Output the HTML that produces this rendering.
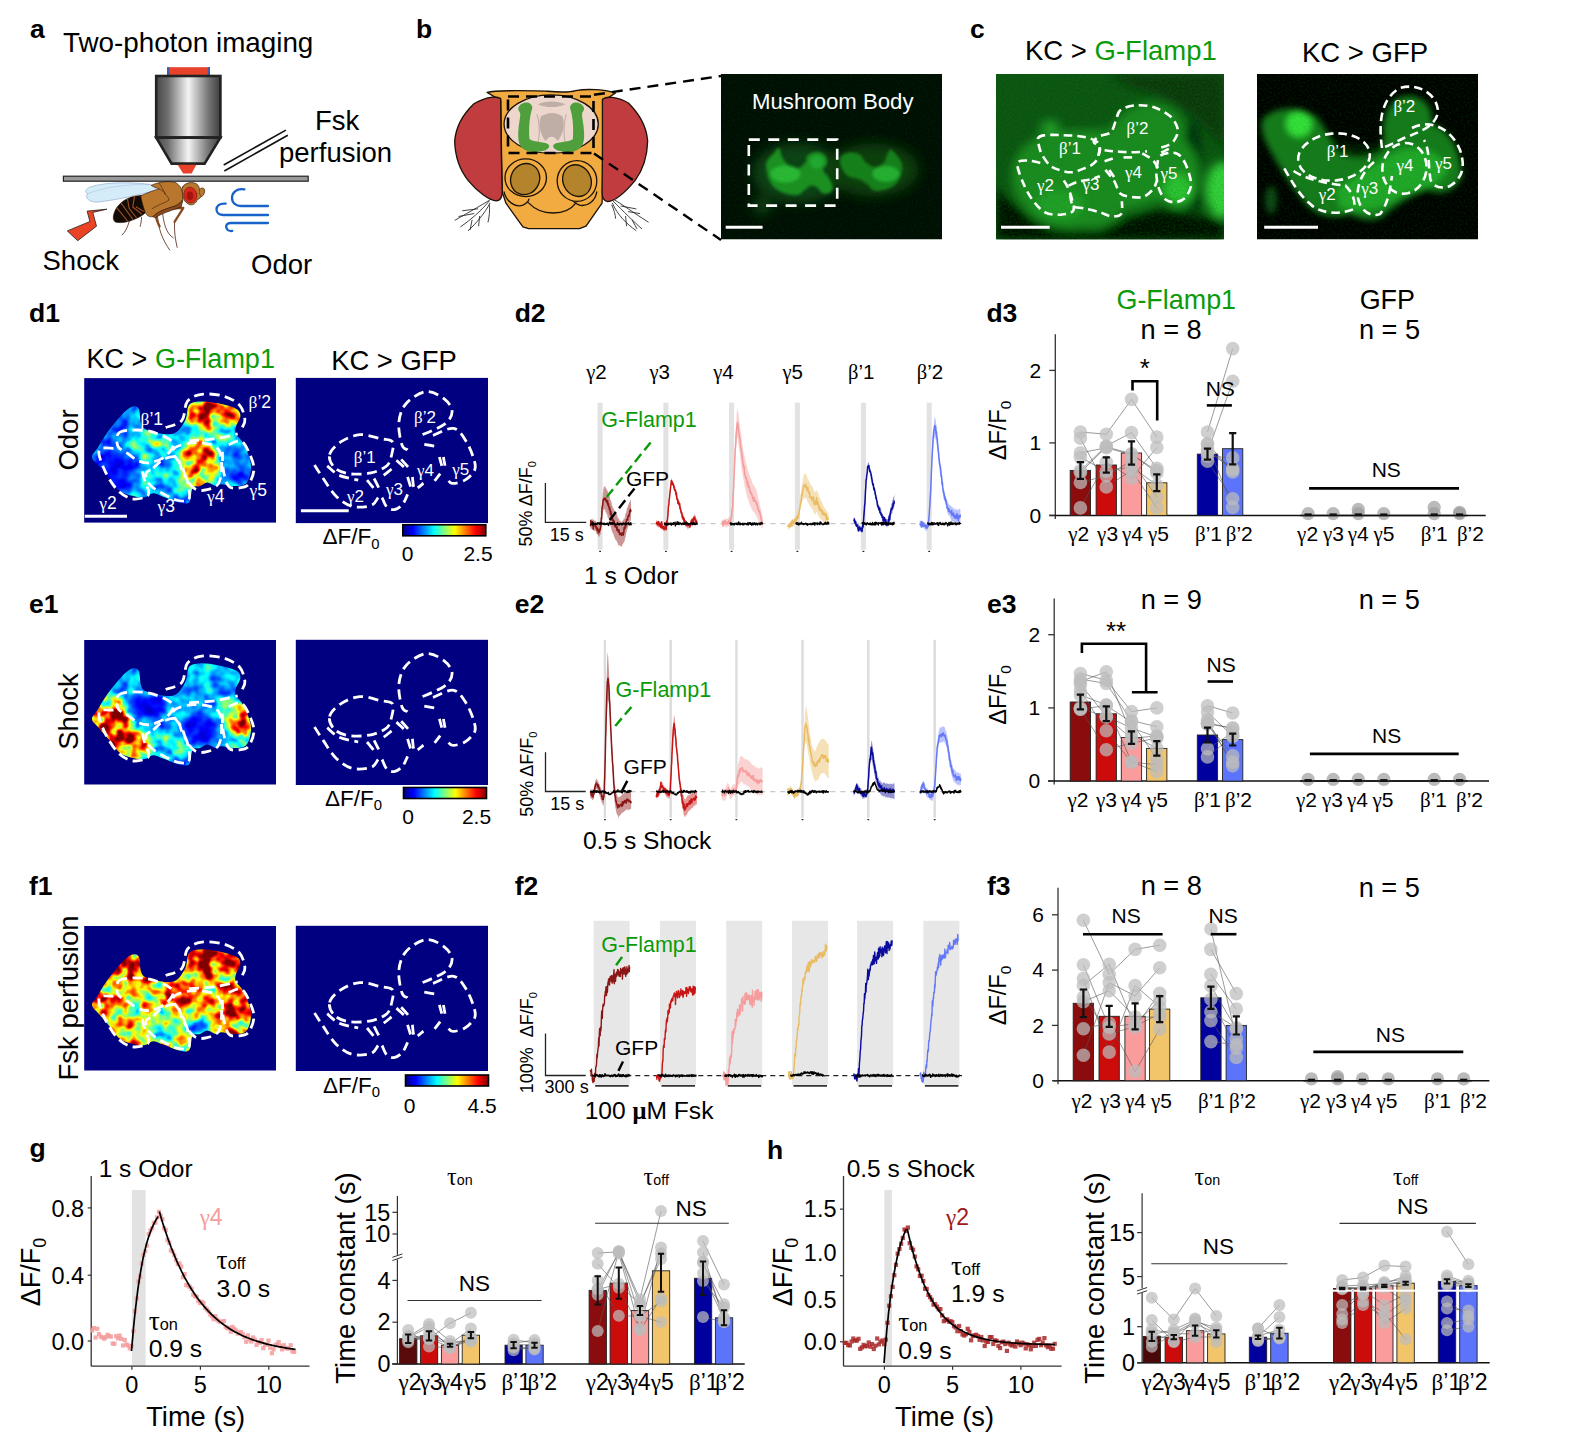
<!DOCTYPE html>
<html><head><meta charset="utf-8"><title>Figure</title>
<style>html,body{margin:0;padding:0;background:#fff;width:1592px;height:1445px;overflow:hidden}svg{display:block}text{font-family:"Liberation Sans",sans-serif}</style></head>
<body>
<svg width="1592" height="1445" viewBox="0 0 1592 1445">
<defs>
<linearGradient id="met" x1="0" x2="1" y1="0" y2="0"><stop offset="0" stop-color="#4a4a4a"/><stop offset="0.18" stop-color="#6e6e6e"/><stop offset="0.5" stop-color="#f4f4f4"/><stop offset="0.8" stop-color="#7a7a7a"/><stop offset="1" stop-color="#3e3e3e"/></linearGradient>
<filter id="bl5" x="-20%" y="-20%" width="140%" height="140%"><feGaussianBlur stdDeviation="5"/></filter>
<filter id="bl3" x="-20%" y="-20%" width="140%" height="140%"><feGaussianBlur stdDeviation="3"/></filter>
<filter id="bl40" x="-30%" y="-30%" width="160%" height="160%"><feGaussianBlur stdDeviation="40"/></filter>
<filter id="bl12" x="-20%" y="-20%" width="140%" height="140%"><feGaussianBlur stdDeviation="11"/></filter>
<filter id="bl2" x="-20%" y="-20%" width="140%" height="140%"><feGaussianBlur stdDeviation="2"/></filter>
<filter id="grain" x="0" y="0" width="100%" height="100%" color-interpolation-filters="sRGB"><feTurbulence type="fractalNoise" baseFrequency="0.5" numOctaves="2" seed="7"/><feColorMatrix type="matrix" values="0 0 0 0 0  0 0 0 0 0.55  0 0 0 0 0  1.2 0 0 0 -0.45"/></filter>
<clipPath id="cb"><rect x="721" y="74" width="221" height="165.5"/></clipPath>
<clipPath id="cc1"><rect x="996" y="74" width="228" height="165.5"/></clipPath>
<clipPath id="cc2"><rect x="1257" y="74" width="221" height="165.5"/></clipPath>
<filter id="jet" x="0" y="0" width="100%" height="100%" color-interpolation-filters="sRGB"><feGaussianBlur in="SourceGraphic" stdDeviation="4.5" result="b"/><feTurbulence type="fractalNoise" baseFrequency="0.085" numOctaves="2" seed="11" result="t"/><feColorMatrix in="t" type="matrix" values="1.6 0 0 0 -0.3  1.6 0 0 0 -0.3  1.6 0 0 0 -0.3  0 0 0 0 1" result="tn"/><feComposite in="b" in2="tn" operator="arithmetic" k1="1.0" k2="0.5" k3="0" k4="0" result="v"/><feComponentTransfer in="v"><feFuncR type="table" tableValues="0 0 0 0 0.5 1 1 1 0.5"/><feFuncG type="table" tableValues="0 0 0.5 1 1 1 0.5 0 0"/><feFuncB type="table" tableValues="0.5 1 1 1 0.5 0 0 0 0"/></feComponentTransfer></filter>
<linearGradient id="jetg" x1="0" x2="1" y1="0" y2="0"><stop offset="0" stop-color="#00007f"/><stop offset="0.125" stop-color="#0000ff"/><stop offset="0.375" stop-color="#00ffff"/><stop offset="0.625" stop-color="#ffff00"/><stop offset="0.875" stop-color="#ff0000"/><stop offset="1" stop-color="#7f0000"/></linearGradient>
<clipPath id="blob"><path d="M92,457.3 C91.7,454.3 95,452.2 97.4,448.3 C99.8,444.4 102.4,439.3 106.3,433.9 C110.2,428.5 116.5,420.4 120.7,415.9 C124.9,411.4 128.5,408.1 131.5,406.9 C134.5,405.7 137.2,406 138.7,408.7 C140.3,411.4 139.7,419.7 140.9,423.1 C142.1,426.6 142.1,427.6 145.9,429.4 C149.8,431.2 158.8,433.5 163.9,433.9 C169,434.4 172.9,434.5 176.5,432.1 C180.1,429.7 183.4,424 185.5,419.5 C187.6,415 186.7,408.1 189.1,405.1 C191.5,402.1 195.1,401.8 199.9,401.5 C204.7,401.2 211.9,402.1 217.9,403.3 C223.9,404.5 232.1,406.6 235.9,408.7 C239.6,410.8 240.4,412.9 240.4,415.9 C240.4,418.9 236.6,423.7 235.9,426.7 C235.1,429.7 234.7,431.2 235.9,433.9 C237.1,436.6 240.7,438.4 243.1,442.9 C245.5,447.4 249.1,455.8 250.3,460.9 C251.5,466 251.2,469.6 250.3,473.5 C249.4,477.4 247.9,482.2 244.9,484.3 C241.9,486.4 236.2,486.1 232.3,486.1 C228.4,486.1 224.2,484.3 221.5,484.3 C218.8,484.3 218.5,486.4 216.1,486.1 C213.7,485.8 209.8,482.5 207.1,482.5 C204.4,482.5 202.3,485.2 199.9,486.1 C197.5,487 194.5,485.2 192.7,487.9 C190.9,490.6 191.5,499.9 189.1,502.3 C186.7,504.7 182.5,503.2 178.3,502.3 C174.1,501.4 168.1,498.4 163.9,496.9 C159.7,495.4 156.1,493.3 153.1,493.3 C150.1,493.3 148.6,496.3 145.9,496.9 C143.2,497.5 141.1,497.8 136.9,496.9 C132.7,496 125.2,494.5 120.7,491.5 C116.2,488.5 113.5,483.1 109.9,478.9 C106.3,474.7 102.1,469.9 99.2,466.3 C96.2,462.7 92.3,460.3 92,457.3 Z"/></clipPath>
</defs>
<rect width="1592" height="1445" fill="#fff"/>
<text x="30" y="38" font-size="26.5" font-weight="bold">a</text>
<text x="63" y="52" font-size="27.8">Two-photon imaging</text>
<rect x="167" y="67.2" width="43" height="9" fill="#e8432a"/>
<rect x="167" y="67.2" width="2.2" height="9" fill="#3f5aa8"/>
<rect x="207.8" y="67.2" width="2.2" height="9" fill="#3f5aa8"/>
<rect x="156.2" y="76" width="64.2" height="61.5" fill="url(#met)" stroke="#222" stroke-width="2.6"/>
<polygon points="156.2,137.6 220.4,137.6 204.6,163.6 171.6,163.6" fill="url(#met)" stroke="#222" stroke-width="2.6" stroke-linejoin="miter"/>
<polygon points="177.6,164.8 196.4,164.8 191.6,173.6 183.2,173.6" fill="#e8432a"/>
<line x1="223.7" y1="165" x2="285.9" y2="130.1" stroke="#111" stroke-width="1.6"/>
<line x1="224.3" y1="171" x2="287.8" y2="135.2" stroke="#111" stroke-width="1.6"/>
<text x="315" y="129.5" font-size="27.5">Fsk</text>
<text x="279" y="162" font-size="27.5">perfusion</text>
<g transform="translate(80 170) scale(0.087943)" stroke="#2a1206" stroke-width="7" stroke-linejoin="round" stroke-linecap="round">
<path d="M560,585 C540,650 520,700 480,738 M700,540 C700,580 690,610 685,640 M880,520 C890,600 900,660 920,720 C950,800 985,860 1020,910 M940,500 C950,580 965,640 990,690 C1010,730 1035,755 1060,770 M1175,440 C1140,500 1100,550 1075,590 C1070,700 1085,800 1105,880" fill="none" stroke="#4a200c" stroke-width="9"/>
<path d="M860,520 C870,560 880,600 905,640 M1030,440 L1175,430 L1075,590" fill="none" stroke="#8a4a20" stroke-width="26"/>
<path d="M860,180 C700,135 300,125 110,195 C50,225 60,258 88,270 C55,300 80,355 180,366 C350,352 600,300 860,235 Z" fill="#d3ecf8" stroke="#6f86bd" stroke-width="5"/>
<path d="M88,270 C250,200 500,165 800,160" fill="none" stroke="#8ea6d4" stroke-width="4"/>
<path d="M700,290 C600,290 480,330 410,440 C370,510 370,570 400,590 C470,615 600,580 700,520 C780,470 800,400 780,340 Z" fill="#140a04"/>
<path d="M420,430 L540,580 M470,380 L600,560 M540,330 L560,440 L640,540 M620,300 L600,420 L700,500 M640,420 L720,470" fill="none" stroke="#9a4f28" stroke-width="13"/>
<path d="M690,295 C760,260 840,230 900,215 C860,200 830,190 810,175 C880,140 1000,120 1080,140 C1140,170 1170,230 1170,300 C1180,340 1140,380 1080,410 C1000,440 900,470 830,530 C790,540 760,520 740,480 C720,420 700,350 690,295 Z" fill="#b9772e"/>
<path d="M830,530 C880,470 980,440 1080,410 C1120,390 1150,370 1170,340 L1150,420 C1080,450 950,480 860,540 Z" fill="#8a4a20"/>
<path d="M900,215 C940,235 960,250 970,275 M900,150 C930,190 950,230 970,275 C1000,300 1010,320 1010,345 C950,380 880,400 820,440" fill="none" stroke-width="6"/>
<path d="M1165,195 C1190,140 1290,125 1335,165 C1355,185 1360,210 1358,225 C1380,190 1420,200 1418,240 C1415,280 1395,300 1380,300 C1360,330 1340,335 1335,335 C1320,380 1290,400 1250,395 C1200,380 1170,330 1168,290 C1160,250 1160,220 1165,195 Z" fill="#b9772e"/>
<path d="M1358,225 C1352,260 1362,290 1380,300" fill="none" stroke-width="5"/>
<ellipse cx="1255" cy="285" rx="74" ry="90" fill="#d8281c" stroke="#6a1408" stroke-width="6" transform="rotate(-10 1255 285)"/>
<ellipse cx="1250" cy="295" rx="38" ry="50" fill="#a3150e" stroke="none"/>
</g>
<rect x="63.4" y="176.2" width="244.8" height="5" fill="#9a9a9a" stroke="#222" stroke-width="1.2"/>
<polygon points="67.3,230.9 77.7,240.7 96.5,226.2 92.8,212.4 106.9,209.2 87.1,211.1 89.9,221.5" fill="#ea4424" stroke="#222" stroke-width="0.8"/>
<text x="42.5" y="270" font-size="27.5">Shock</text>
<text x="251" y="274" font-size="27.5">Odor</text>
<g fill="none" stroke="#1763c9" stroke-width="2.3" stroke-linecap="round"><path d="M244.4,189.4 C236,188 232,193 232,198 C232,203 236,206 241,206 L268,206"/><path d="M225.6,203.6 C219,203 216.5,206.5 216.5,209.5 C216.5,213 219.5,215 223.5,215 L268,215"/><path d="M268,223 L230.5,223 C227,223 225.8,225.4 226.3,227.6 C226.8,230 229.5,231.4 232.2,230.9"/></g>
<text x="416" y="38" font-size="26.5" font-weight="bold">b</text>
<g transform="translate(440 60) scale(0.18843)" stroke="#1a1208" stroke-width="7" stroke-linejoin="round" stroke-linecap="round">
<path d="M300,720 C240,760 150,810 80,850 M260,750 C220,800 160,850 110,885 M265,760 C240,810 190,870 150,905 M262,770 C265,800 262,830 255,860 M200,790 L120,800 M180,815 L100,830 M210,830 L205,880 M170,850 L160,900 M890,720 C960,760 1040,820 1105,860 M920,750 C970,800 1030,860 1070,895 M915,760 C940,820 990,870 1040,905 M912,770 C925,800 930,820 932,840 M960,775 L1040,790 M1000,805 L1060,815 M985,830 L990,880 M1020,850 L1045,895" fill="none" stroke="#222" stroke-width="4.5"/>
<path d="M250,172 C300,158 400,162 560,165 C620,170 680,176 720,162 C780,152 880,155 930,176 L870,215 L862,700 L860,760 L775,882 L740,895 L470,895 L440,885 L350,760 L330,700 L322,215 Z" fill="#f2ab40"/>
<path d="M322,205 C300,190 250,192 180,232 C130,280 85,340 78,430 C80,520 110,590 150,640 C200,700 260,745 300,748 C322,745 330,725 330,700 L325,480 Z" fill="#c13c3e"/>
<path d="M862,208 C885,192 935,192 1000,228 C1050,280 1095,340 1102,430 C1100,520 1072,590 1035,640 C985,700 930,748 890,752 C868,748 860,728 860,700 L862,480 Z" fill="#c13c3e"/>
<ellipse cx="590" cy="340" rx="250" ry="155" fill="#edd6cc"/>
<path d="M520,235 C560,215 620,215 665,235 C630,255 555,255 520,235 Z M535,300 C575,275 615,275 650,300 C665,350 650,400 625,430 C605,400 580,400 560,430 C535,400 520,350 535,300 Z" fill="#bfaea6" stroke="none"/>
<path d="M515,290 C530,330 530,400 520,440 M670,290 C655,330 655,400 665,440" fill="none" stroke="#a89a94" stroke-width="4"/>
<path d="M420,245 C440,215 490,220 490,255 C475,300 470,360 475,420 C510,440 570,430 580,455 C580,485 520,490 470,485 C425,475 415,440 415,400 C415,340 430,300 425,280 C415,265 412,255 420,245 Z" fill="#4f9f3c" stroke="none"/>
<path d="M760,245 C740,215 690,220 690,255 C705,300 710,360 705,420 C670,440 610,430 600,455 C600,485 660,490 710,485 C755,475 765,440 765,400 C765,340 750,300 755,280 C765,265 768,255 760,245 Z" fill="#4f9f3c" stroke="none"/>
<path d="M340,700 C350,750 400,785 440,770 C460,760 470,750 472,738 M832,700 C825,750 780,780 740,770 C720,762 705,750 702,738 M470,758 C510,800 560,812 600,812 C640,812 690,800 722,758" fill="none"/>
<ellipse cx="455" cy="625" rx="110" ry="100" fill="#f2ab40"/>
<ellipse cx="727" cy="642" rx="105" ry="108" fill="#f2ab40"/>
<ellipse cx="452" cy="632" rx="76" ry="84" fill="#b4842c" transform="rotate(25 452 632)"/>
<ellipse cx="727" cy="640" rx="74" ry="86" fill="#b4842c" transform="rotate(-25 727 640)"/>
</g>
<rect x="508" y="96.5" width="85.5" height="56.5" fill="none" stroke="#000" stroke-width="2.6" stroke-dasharray="11 7"/>
<line x1="594" y1="94.8" x2="721" y2="76" stroke="#000" stroke-width="2.4" stroke-dasharray="11 7"/>
<line x1="594" y1="153.5" x2="721" y2="240" stroke="#000" stroke-width="2.4" stroke-dasharray="11 7"/>
<g clip-path="url(#cb)">
<rect x="721" y="74" width="221" height="165.5" fill="#010e04"/>
<g transform="translate(710 60) scale(0.15704)">
<g filter="url(#bl40)"><ellipse cx="560" cy="720" rx="290" ry="190" fill="#0a4212"/><ellipse cx="1040" cy="700" rx="290" ry="170" fill="#093c10"/><ellipse cx="330" cy="930" rx="60" ry="50" fill="#0c4a14"/></g>
<g filter="url(#bl12)"><path d="M360,650 C366.7,633.3 386.7,615 400,600 C413.3,585 430,556.7 440,560 C450,563.3 450,601.7 460,620 C470,638.3 483.3,658.3 500,670 C516.7,681.7 541.7,693.3 560,690 C578.3,686.7 600,663.3 610,650 C620,636.7 608.3,620.8 620,610 C631.7,599.2 660.8,585 680,585 C699.2,585 724.2,597.5 735,610 C745.8,622.5 747.5,645 745,660 C742.5,675 719.2,686.7 720,700 C720.8,713.3 740,723.3 750,740 C760,756.7 776.7,783.3 780,800 C783.3,816.7 780,831.7 770,840 C760,848.3 735,855 720,850 C705,845 693.3,818.3 680,810 C666.7,801.7 653.3,796.7 640,800 C626.7,803.3 613.3,820 600,830 C586.7,840 580,856.7 560,860 C540,863.3 503.3,856.7 480,850 C456.7,843.3 436.7,833.3 420,820 C403.3,806.7 390,790 380,770 C370,750 363.3,720 360,700 C356.7,680 353.3,666.7 360,650 Z" fill="#1a9024"/><path d="M830,620 C836.7,603.3 860,593.3 880,590 C900,586.7 931.7,590 950,600 C968.3,610 975,636.7 990,650 C1005,663.3 1021.7,678.3 1040,680 C1058.3,681.7 1085,673.3 1100,660 C1115,646.7 1121.7,615 1130,600 C1138.3,585 1138.3,566.7 1150,570 C1161.7,573.3 1187.5,601.7 1200,620 C1212.5,638.3 1223.3,658.3 1225,680 C1226.7,701.7 1219.2,730 1210,750 C1200.8,770 1188.3,786.7 1170,800 C1151.7,813.3 1121.7,825 1100,830 C1078.3,835 1056.7,836.7 1040,830 C1023.3,823.3 1015,801.7 1000,790 C985,778.3 970,768.3 950,760 C930,751.7 898.3,751.7 880,740 C861.7,728.3 848.3,710 840,690 C831.7,670 823.3,636.7 830,620 Z" fill="#16801f"/>
<ellipse cx="480" cy="725" rx="95" ry="55" fill="#29b834"/><ellipse cx="1120" cy="725" rx="85" ry="50" fill="#26b030"/><ellipse cx="680" cy="650" rx="45" ry="40" fill="#24aa30"/></g>
</g>
<rect x="721" y="74" width="221" height="165.5" fill="#000" filter="url(#grain)" opacity="0.22"/>
</g>
<text x="752" y="108.7" font-size="22.2" fill="#fff">Mushroom Body</text>
<rect x="748.8" y="139.6" width="88.4" height="66" fill="none" stroke="#fff" stroke-width="2.6" stroke-dasharray="11 8.5"/>
<line x1="725.7" y1="227.2" x2="762.6" y2="227.2" stroke="#fff" stroke-width="3"/>
<text x="970" y="38" font-size="26.5" font-weight="bold">c</text>
<text x="1025" y="60" font-size="27.5">KC &gt; <tspan fill="#0a9a0a">G-Flamp1</tspan></text>
<text x="1302" y="62" font-size="27.5">KC &gt; GFP</text>
<g clip-path="url(#cc1)">
<rect x="996" y="74" width="228" height="165.5" fill="#0d5213"/>
<g filter="url(#bl5)"><path d="M1110,74 L1224,74 L1224,150 C1210,130 1190,110 1160,96 C1140,90 1120,84 1110,74 Z" fill="#07360c"/><path d="M996,190 C1010,200 1030,222 1060,228 C1100,236 1130,214 1160,210 C1190,212 1200,222 1224,212 L1224,240 L996,240 Z" fill="#010a03"/><path d="M1195,120 C1205,140 1200,170 1205,200 L1190,215 L1185,130 Z" fill="#052a0a"/><path d="M1012,170 C1014,150 1034,134 1058,132 C1080,128 1100,132 1112,128 C1120,110 1140,100 1160,104 C1180,108 1188,124 1184,140 C1196,150 1204,170 1198,190 C1192,206 1176,210 1164,200 C1150,204 1136,210 1124,210 C1118,224 1100,232 1084,228 C1060,232 1036,226 1024,208 C1014,196 1010,184 1012,170 Z" fill="#1b8a22"/><ellipse cx="1178" cy="190" rx="14" ry="16" fill="#2fc436"/><ellipse cx="1222" cy="190" rx="16" ry="28" fill="#35d23c"/><ellipse cx="1050" cy="128" rx="10" ry="8" fill="#22992a"/><ellipse cx="1060" cy="205" rx="24" ry="14" fill="#24a02c"/></g>
<rect x="996" y="74" width="228" height="165.5" fill="#000" filter="url(#grain)" opacity="0.55"/>
</g>
<path d="M1098.4,155.8 C1098.6,154.5 1100.7,150.3 1099.9,147.9 C1099.1,145.6 1093.6,143.6 1093.6,141.7 C1093.6,139.7 1097,137.7 1099.9,136.2 C1102.8,134.6 1108.3,134.7 1110.9,132.2 C1113.5,129.7 1114.1,124.9 1115.6,121.2 C1117.2,117.6 1117.2,112.9 1120.3,110.3 C1123.5,107.6 1129,106.1 1134.5,105.5 C1140,105 1147.3,105.3 1153.3,107.1 C1159.3,108.9 1166.5,112.9 1170.6,116.5 C1174.6,120.2 1176.9,125.4 1177.7,129.1 C1178.4,132.8 1176.7,135.9 1175.3,138.5 C1173.9,141.1 1172.2,143.1 1169,144.8 C1165.9,146.5 1158.6,148.1 1156.5,148.7" fill="none" stroke="#fff" stroke-width="2.6" stroke-dasharray="8.5 5"/>
<path d="M1104.6,150.3 C1106.5,150.5 1111.2,151.1 1115.6,151.4 C1120.1,151.7 1126.1,152.3 1131.3,152.3 C1136.6,152.3 1144.4,151.6 1147,151.4" fill="none" stroke="#fff" stroke-width="2.6" stroke-dasharray="8.5 5"/>
<path d="M1037.9,138.5 C1038.7,136.9 1039.6,136 1043.4,135.4 C1047.2,134.8 1053.9,134.8 1060.7,135.1 C1067.5,135.3 1077.9,135.6 1084.2,136.9 C1090.5,138.3 1096,140.1 1098.4,143.2 C1100.7,146.4 1099.1,152.4 1098.4,155.8 C1097.6,159.2 1096,161.5 1093.6,163.6 C1091.3,165.7 1087.9,166.9 1084.2,168.4 C1080.6,169.8 1075.8,172 1071.7,172.3 C1067.5,172.5 1062.8,171.1 1059.1,169.9 C1055.4,168.7 1052.6,167.8 1049.7,165.2 C1046.8,162.6 1043.7,157.6 1041.8,154.2 C1040,150.8 1039.3,147.4 1038.7,144.8 C1038,142.2 1037.1,140.1 1037.9,138.5 Z" fill="none" stroke="#fff" stroke-width="2.6" stroke-dasharray="8.5 5"/>
<path d="M1040.3,162.9 C1038.2,162.5 1031.5,160.4 1027.7,160.5 C1023.9,160.6 1018.3,160 1017.5,163.6 C1016.7,167.3 1020.5,176.5 1023,182.5 C1025.5,188.5 1028.7,194.8 1032.4,199.8 C1036.1,204.7 1040.3,209.8 1045,212.3 C1049.7,214.8 1056,214.9 1060.7,214.7 C1065.4,214.4 1071.4,213.5 1073.2,210.8 C1075.1,208 1072.7,202.4 1071.7,198.2 C1070.6,194 1068.8,189.3 1066.9,185.6 C1065.1,182 1061.7,177.8 1060.7,176.2" fill="none" stroke="#fff" stroke-width="2.6" stroke-dasharray="8.5 5"/>
<path d="M1068.5,185.6 C1070.1,185 1074.3,182.7 1077.9,181.7 C1081.6,180.7 1086.8,180.3 1090.5,179.3 C1094.2,178.4 1098.4,176.7 1099.9,176.2" fill="none" stroke="#fff" stroke-width="2.6" stroke-dasharray="8.5 5"/>
<path d="M1070.1,195.1 C1070.6,196.9 1070.9,203.8 1073.2,206 C1075.6,208.3 1079.8,207.4 1084.2,208.4 C1088.7,209.4 1095.5,211 1099.9,212.3 C1104.4,213.6 1107.4,216 1110.9,216.2 C1114.5,216.5 1119.3,216.4 1121.1,213.9 C1123,211.4 1121.8,203.4 1121.9,201.3" fill="none" stroke="#fff" stroke-width="2.6" stroke-dasharray="8.5 5"/>
<path d="M1104.6,161.3 C1106.2,160.8 1112.5,158.7 1114.1,158.1" fill="none" stroke="#fff" stroke-width="2.6" stroke-dasharray="8.5 5"/>
<path d="M1123.5,157.4 C1125.2,157.4 1132,157.4 1133.7,157.4" fill="none" stroke="#fff" stroke-width="2.6" stroke-dasharray="8.5 5"/>
<path d="M1142.3,153.4 C1144.2,154.6 1150.6,157.8 1153.3,160.5 C1156.1,163.3 1157.9,168.4 1158.8,169.9" fill="none" stroke="#fff" stroke-width="2.6" stroke-dasharray="8.5 5"/>
<path d="M1105.4,169.9 C1106.9,171.8 1111.6,177 1114.1,180.9 C1116.5,184.8 1117.5,190.8 1120.3,193.5 C1123.2,196.1 1127.4,196.4 1131.3,196.9 C1135.3,197.5 1140.2,198 1143.9,196.6 C1147.6,195.3 1151.2,191.4 1153.3,188.8 C1155.5,186.2 1156.2,182.2 1156.8,180.9" fill="none" stroke="#fff" stroke-width="2.6" stroke-dasharray="8.5 5"/>
<path d="M1109.3,169.9 C1110.4,171.5 1114.6,177.8 1115.6,179.3" fill="none" stroke="#fff" stroke-width="2.6" stroke-dasharray="8.5 5"/>
<path d="M1160.4,155.8 C1163.1,153.7 1170.2,152.4 1173.7,152.7 C1177.3,152.9 1179.2,154.5 1181.6,157.4 C1183.9,160.2 1186.3,165.2 1187.9,169.9 C1189.4,174.6 1191.5,180.9 1191,185.6 C1190.5,190.3 1187.3,195.4 1184.7,198.2 C1182.1,200.9 1178.4,201.9 1175.3,202.1 C1172.2,202.4 1168.5,201.7 1165.9,199.8 C1163.3,197.8 1161.2,194.3 1159.6,190.3 C1158,186.4 1156.8,180.4 1156.5,176.2 C1156.1,172 1156.6,168.6 1157.2,165.2 C1157.9,161.8 1157.6,157.9 1160.4,155.8 Z" fill="none" stroke="#fff" stroke-width="2.6" stroke-dasharray="8.5 5"/>
<path d="M1161.2,152.7 C1163,151.7 1170.3,148.1 1172.2,147.2" fill="none" stroke="#fff" stroke-width="2.6" stroke-dasharray="8.5 5"/>
<line x1="1001" y1="227.2" x2="1049.7" y2="227.2" stroke="#fff" stroke-width="3"/>
<text x="1126.6" y="133.8" font-size="17" fill="#fff"><tspan font-family='"Liberation Serif", serif'>β</tspan>’2</text>
<text x="1059" y="154.2" font-size="17" fill="#fff"><tspan font-family='"Liberation Serif", serif'>β</tspan>’1</text>
<text x="1037" y="191" font-size="17" fill="#fff"><tspan font-family='"Liberation Serif", serif'>γ</tspan>2</text>
<text x="1082.6" y="189.5" font-size="17" fill="#fff"><tspan font-family='"Liberation Serif", serif'>γ</tspan>3</text>
<text x="1125" y="177.8" font-size="17" fill="#fff"><tspan font-family='"Liberation Serif", serif'>γ</tspan>4</text>
<text x="1160.4" y="179.3" font-size="17" fill="#fff"><tspan font-family='"Liberation Serif", serif'>γ</tspan>5</text>
<g clip-path="url(#cc2)">
<rect x="1257" y="74" width="221" height="165.5" fill="#000"/>
<g filter="url(#bl3)"><path d="M1262,120 C1275,105 1300,105 1318,118 C1326,130 1330,140 1340,146 C1360,150 1375,150 1384,140 C1380,120 1388,100 1404,96 C1422,94 1434,106 1432,124 C1448,128 1462,150 1462,176 C1456,192 1440,196 1428,190 C1410,196 1394,206 1384,216 C1372,224 1356,218 1350,214 C1336,220 1318,216 1308,206 C1296,192 1280,170 1270,150 C1264,140 1260,130 1262,120 Z" fill="#157a1c"/><path d="M1336,190 C1350,180 1380,160 1400,150 C1420,146 1440,150 1448,170 C1440,186 1420,190 1400,196 C1384,210 1360,214 1340,208 Z" fill="#22a82a"/><ellipse cx="1299" cy="124" rx="13" ry="13" fill="#35e03a"/><path d="M1330,140 C1350,146 1372,148 1384,140 L1384,150 C1370,160 1350,160 1336,152 Z" fill="#041a06"/><ellipse cx="1271" cy="200" rx="6" ry="14" fill="#0c4a12"/></g>
<rect x="1257" y="74" width="221" height="165.5" fill="#000" filter="url(#grain)" opacity="0.35"/>
</g>
<path d="M1382,148 C1378,120 1382,98 1400,88 C1420,82 1438,96 1438,112 C1436,126 1420,132 1404,138 C1396,142 1388,146 1382,148 Z" fill="none" stroke="#fff" stroke-width="2.6" stroke-dasharray="8.5 5"/>
<path d="M1369.8,153.2 L1369.7,157.4 L1368.5,161.5 L1366.2,165.4 L1363,169.1 L1358.9,172.5 L1354,175.4 L1348.6,177.7 L1342.6,179.4 L1336.5,180.4 L1330.2,180.7 L1324.1,180.2 L1318.2,179.1 L1312.9,177.3 L1308.2,174.9 L1304.2,171.9 L1301.2,168.5 L1299.2,164.8 L1298.2,160.8 L1298.3,156.6 L1299.5,152.5 L1301.8,148.6 L1305,144.9 L1309.1,141.5 L1314,138.6 L1319.4,136.3 L1325.4,134.6 L1331.5,133.6 L1337.8,133.3 L1343.9,133.8 L1349.8,134.9 L1355.1,136.7 L1359.8,139.1 L1363.8,142.1 L1366.8,145.5 L1368.8,149.2 Z" fill="none" stroke="#fff" stroke-width="2.6" stroke-dasharray="8.5 5"/>
<path d="M1284.3,168.4 C1292,182 1300,196 1311,204.5 C1318,212 1336,216 1353.4,209.2 C1356,204 1354,194 1345.5,185.6 C1330,184 1306,180 1292.1,170" fill="none" stroke="#fff" stroke-width="2.6" stroke-dasharray="8.5 5"/>
<path d="M1374,162 C1364,170 1356,184 1358,198 C1360,210 1370,218 1380,214 C1388,204 1390,190 1392,176" fill="none" stroke="#fff" stroke-width="2.6" stroke-dasharray="8.5 5"/>
<path d="M1426.1,172.2 L1425,176.5 L1423.2,180.6 L1420.9,184.3 L1418.2,187.5 L1414.9,190.1 L1411.4,192.1 L1407.6,193.3 L1403.8,193.8 L1400,193.5 L1396.3,192.5 L1392.8,190.7 L1389.7,188.2 L1387.1,185.2 L1385,181.6 L1383.4,177.6 L1382.5,173.4 L1382.3,169 L1382.7,164.6 L1383.8,160.3 L1385.6,156.2 L1387.9,152.5 L1390.6,149.3 L1393.9,146.7 L1397.4,144.7 L1401.2,143.5 L1405,143 L1408.8,143.3 L1412.5,144.3 L1416,146.1 L1419.1,148.6 L1421.7,151.6 L1423.8,155.2 L1425.4,159.2 L1426.3,163.4 L1426.5,167.8 Z" fill="none" stroke="#fff" stroke-width="2.6" stroke-dasharray="8.5 5"/>
<path d="M1412,128 C1432,118 1452,130 1460,150 C1466,168 1462,178 1450,186 C1440,190 1430,186 1430,176 C1428,164 1430,150 1424,140" fill="none" stroke="#fff" stroke-width="2.6" stroke-dasharray="8.5 5"/>
<line x1="1264.2" y1="227.2" x2="1318" y2="227.2" stroke="#fff" stroke-width="3"/>
<text x="1393.4" y="111.8" font-size="17" fill="#fff"><tspan font-family='"Liberation Serif", serif'>β</tspan>’2</text>
<text x="1326.7" y="157.4" font-size="17" fill="#fff"><tspan font-family='"Liberation Serif", serif'>β</tspan>’1</text>
<text x="1318.8" y="199.8" font-size="17" fill="#fff"><tspan font-family='"Liberation Serif", serif'>γ</tspan>2</text>
<text x="1361.2" y="194.3" font-size="17" fill="#fff"><tspan font-family='"Liberation Serif", serif'>γ</tspan>3</text>
<text x="1396.5" y="170.7" font-size="17" fill="#fff"><tspan font-family='"Liberation Serif", serif'>γ</tspan>4</text>
<text x="1435" y="169.1" font-size="17" fill="#fff"><tspan font-family='"Liberation Serif", serif'>γ</tspan>5</text>
<text x="29" y="322.4" font-size="26.5" font-weight="bold">d1</text>
<text x="86.6" y="367.7" font-size="27">KC &gt; <tspan fill="#0a9a0a">G-Flamp1</tspan></text>
<text x="331.2" y="370.2" font-size="27.4">KC &gt; GFP</text>
<text x="77.6" y="440" font-size="27.5" text-anchor="middle" transform="rotate(-90 77.6 440)">Odor</text>
<rect x="84.2" y="378.1" width="191.8" height="144.5" fill="#000080"/>
<g transform="translate(0 0)"><g clip-path="url(#blob)"><g filter="url(#jet)"><rect x="84.2" y="378.1" width="191.8" height="144.5" fill="#4c4c4c"/><ellipse cx="214.3" cy="415.9" rx="27" ry="16.2" fill="#c6c6c6"/><ellipse cx="199.9" cy="462.7" rx="18" ry="25.2" fill="#c6c6c6"/><ellipse cx="154.9" cy="442" rx="10.8" ry="6.3" fill="#cccccc"/><ellipse cx="135.1" cy="448.3" rx="23.4" ry="12.6" fill="#6b6b6b"/><ellipse cx="163.9" cy="480.7" rx="21.6" ry="16.2" fill="#5b5b5b"/><ellipse cx="113.5" cy="469.9" rx="21.6" ry="25.2" fill="#232323"/><ellipse cx="235.9" cy="466.3" rx="14.4" ry="19.8" fill="#383838"/><ellipse cx="120.7" cy="426.7" rx="16.2" ry="16.2" fill="#3f3f3f"/><ellipse cx="217.9" cy="430.3" rx="12.6" ry="9" fill="#7f7f7f"/><ellipse cx="192.7" cy="415.9" rx="7.2" ry="10.8" fill="#cccccc"/><ellipse cx="210.7" cy="406.9" rx="10.8" ry="4.5" fill="#d8d8d8"/></g></g>
<path d="M165.7,427.6 C168.4,426.4 178.3,424.8 181.9,420.4 C185.5,416.1 184,405.9 187.3,401.5 C190.6,397.2 195.7,395.2 201.7,394.3 C207.7,393.4 217,394.3 223.3,396.1 C229.6,397.9 235.9,401.2 239.5,405.1 C243.1,409 244.4,415.8 244.9,419.5 C245.3,423.3 242.6,426.3 242.2,427.6" fill="none" stroke="#fff" stroke-width="2.8" stroke-dasharray="10 5.5"/>
<path d="M118,433.9 C119.7,431.2 122.7,430.8 127.9,430.3 C133.2,429.9 142.6,429.7 149.5,431.2 C156.4,432.7 165.4,436.8 169.3,439.3 C173.2,441.9 173.8,443.5 172.9,446.5 C172,449.5 167.8,454.6 163.9,457.3 C160,460 153.7,462.1 149.5,462.7 C145.3,463.3 142.3,462.4 138.7,460.9 C135.1,459.4 131.4,456.1 127.9,453.7 C124.5,451.3 119.7,449.8 118,446.5 C116.4,443.2 116.4,436.6 118,433.9 Z" fill="none" stroke="#fff" stroke-width="2.8" stroke-dasharray="10 5.5"/>
<path d="M113.5,448.3 C111.1,448.6 100.6,446.5 99.2,450.1 C97.7,453.7 101.5,463.3 104.5,469.9 C107.5,476.5 112.6,484.9 117.1,489.7 C121.6,494.5 126.7,497.5 131.5,498.7 C136.3,499.9 143.1,498.1 145.9,496.9 C148.8,495.7 148.9,494.5 148.6,491.5 C148.3,488.5 145.2,482.5 144.1,478.9 C143.1,475.3 142.6,471.4 142.3,469.9" fill="none" stroke="#fff" stroke-width="2.8" stroke-dasharray="10 5.5"/>
<path d="M153.1,468.1 C156.1,465.7 160,460.9 163.9,459.1 C167.8,457.3 173.5,455.5 176.5,457.3 C179.5,459.1 180.1,466 181.9,469.9 C183.7,473.8 186.1,475.9 187.3,480.7 C188.5,485.5 190.6,495.4 189.1,498.7 C187.6,502 182.8,501.4 178.3,500.5 C173.8,499.6 166.9,496 162.1,493.3 C157.3,490.6 152.2,487.6 149.5,484.3 C146.8,481 145.3,476.2 145.9,473.5 C146.5,470.8 150.1,470.5 153.1,468.1 Z" fill="none" stroke="#fff" stroke-width="2.8" stroke-dasharray="10 5.5"/>
<path d="M172.9,450.1 C174.4,446.2 184.6,443.8 190.9,442.9 C197.2,442 205.9,443.2 210.7,444.7 C215.5,446.2 217.9,447.7 219.7,451.9 C221.5,456.1 221.8,464.5 221.5,469.9 C221.2,475.3 220.3,481 217.9,484.3 C215.5,487.6 210.7,488.8 207.1,489.7 C203.5,490.6 199.6,491.2 196.3,489.7 C193,488.2 189.7,484.6 187.3,480.7 C184.9,476.8 184.3,471.4 181.9,466.3 C179.5,461.2 171.4,454 172.9,450.1 Z" fill="none" stroke="#fff" stroke-width="2.8" stroke-dasharray="10 5.5"/>
<path d="M189.1,440.7 C193.3,440.4 206.2,440.1 214.3,438.9 C222.4,437.8 233.8,434.8 237.7,433.9" fill="none" stroke="#fff" stroke-width="2.8" stroke-dasharray="10 5.5"/>
<path d="M228.7,444.7 C230.8,444.1 237.7,439.3 241.3,441.1 C244.9,442.9 248.2,450.7 250.3,455.5 C252.4,460.3 254.2,465.1 253.9,469.9 C253.6,474.7 250.9,481.3 248.5,484.3 C246.1,487.3 242.8,487.6 239.5,487.9 C236.2,488.2 231.4,489.1 228.7,486.1 C226,483.1 224.3,475.6 223.3,469.9 C222.2,464.2 222.5,454.9 222.4,451.9" fill="none" stroke="#fff" stroke-width="2.8" stroke-dasharray="10 5.5"/>
</g>
<text x="248.5" y="407.8" font-size="17.5" fill="#fff"><tspan font-family='"Liberation Serif", serif'>β</tspan>’2</text>
<text x="140.5" y="424.9" font-size="17.5" fill="#fff"><tspan font-family='"Liberation Serif", serif'>β</tspan>’1</text>
<text x="99.2" y="508.6" font-size="17.5" fill="#fff"><tspan font-family='"Liberation Serif", serif'>γ</tspan>2</text>
<text x="157.6" y="512.2" font-size="17.5" fill="#fff"><tspan font-family='"Liberation Serif", serif'>γ</tspan>3</text>
<text x="207.1" y="502.3" font-size="17.5" fill="#fff"><tspan font-family='"Liberation Serif", serif'>γ</tspan>4</text>
<text x="249.4" y="496" font-size="17.5" fill="#fff"><tspan font-family='"Liberation Serif", serif'>γ</tspan>5</text>
<line x1="84.8" y1="516.3" x2="127" y2="516.3" stroke="#fff" stroke-width="3"/>
<rect x="295.8" y="377.9" width="192.2" height="145.2" fill="#000080"/>
<g transform="translate(0 0)">
<path d="M407.6,449.8 C406.6,449 403.5,449.6 402,445.1 C400.5,440.6 398.2,429.7 398.8,422.8 C399.5,415.9 401.5,408.8 406,403.7 C410.5,398.5 419.5,392.5 425.9,391.7 C432.3,390.9 439.8,395.6 444.2,398.9 C448.6,402.2 452.1,407.4 452.1,411.6 C452.1,415.9 449.8,420.3 444.2,424.4 C438.6,428.5 423,434.3 418.7,436.3" fill="none" stroke="#fff" stroke-width="2.8" stroke-dasharray="10 5.5"/>
<path d="M329.6,454.6 C330.6,450.4 335.7,445.2 340.7,441.9 C345.8,438.6 353.2,435.2 359.8,434.7 C366.5,434.2 375.1,437.5 380.5,438.7 C386,439.9 390.6,439.2 392.5,441.9 C394.3,444.5 392.6,450.6 391.7,454.6 C390.7,458.6 390.3,462.7 386.9,465.8 C383.4,468.8 377.3,471.6 371,472.9 C364.6,474.3 354.8,474.6 348.7,473.7 C342.6,472.8 337.5,470.5 334.3,467.4 C331.2,464.2 328.5,458.9 329.6,454.6 Z" fill="none" stroke="#fff" stroke-width="2.8" stroke-dasharray="10 5.5"/>
<path d="M314.5,465 C315.9,467.2 319.6,473.3 323.2,478.5 C326.8,483.7 331.2,491.4 335.9,496 C340.7,500.6 346,504.8 351.9,506.4 C357.7,507.9 366.6,507 371,505.6 C375.3,504.1 376.9,498.9 378.1,497.6" fill="none" stroke="#fff" stroke-width="2.8" stroke-dasharray="10 5.5"/>
<path d="M327.2,465.8 C329.2,467.4 334,472.9 339.1,475.3 C344.3,477.7 355,479.3 358.2,480.1" fill="none" stroke="#fff" stroke-width="2.8" stroke-dasharray="10 5.5"/>
<path d="M382.1,497.6 C382.9,499.2 384.8,505.2 386.9,507.1 C389,509.1 392.2,510.1 394.8,509.5 C397.5,509 400.7,506.5 402.8,504 C404.9,501.4 406.8,496 407.6,494.4" fill="none" stroke="#fff" stroke-width="2.8" stroke-dasharray="10 5.5"/>
<path d="M367,480.1 C368.2,481.5 373,487.4 374.1,488.8" fill="none" stroke="#fff" stroke-width="2.8" stroke-dasharray="10 5.5"/>
<path d="M374.1,478.5 C374.9,480.1 378.1,486.5 378.9,488" fill="none" stroke="#fff" stroke-width="2.8" stroke-dasharray="10 5.5"/>
<path d="M396.4,460.2 C398,461.6 404.4,467.5 406,468.9" fill="none" stroke="#fff" stroke-width="2.8" stroke-dasharray="10 5.5"/>
<path d="M401.2,459.4 C402.4,460.7 407.2,466 408.4,467.4" fill="none" stroke="#fff" stroke-width="2.8" stroke-dasharray="10 5.5"/>
<path d="M407.6,476.9 C408.1,478.6 410.2,485.5 410.8,487.3" fill="none" stroke="#fff" stroke-width="2.8" stroke-dasharray="10 5.5"/>
<path d="M412.4,476.9 C412.8,478.9 412.9,487.8 414.7,488.8 C416.6,489.9 422,484.2 423.5,483.3" fill="none" stroke="#fff" stroke-width="2.8" stroke-dasharray="10 5.5"/>
<path d="M434.6,480.9 C435.6,479.7 439.3,474.9 440.2,473.7" fill="none" stroke="#fff" stroke-width="2.8" stroke-dasharray="10 5.5"/>
<path d="M433,435.5 C436.5,434.3 448.2,427.3 453.7,428.4 C459.3,429.4 463,436.4 466.5,441.9 C469.9,447.3 473.1,456.2 474.4,461 C475.8,465.8 476,467.4 474.4,470.5 C472.8,473.7 468.6,478 464.9,480.1 C461.2,482.2 455.3,483.8 452.1,483.3 C449,482.7 446.8,478 445.8,476.9" fill="none" stroke="#fff" stroke-width="2.8" stroke-dasharray="10 5.5"/>
<path d="M424.3,444.3 C426.5,444.7 435.6,446.3 437.8,446.7" fill="none" stroke="#fff" stroke-width="2.8" stroke-dasharray="10 5.5"/>
<path d="M439.4,457 C439.8,458.5 441.4,464.3 441.8,465.8" fill="none" stroke="#fff" stroke-width="2.8" stroke-dasharray="10 5.5"/>
<path d="M443.4,457 C443.7,458.5 444.7,464.3 445,465.8" fill="none" stroke="#fff" stroke-width="2.8" stroke-dasharray="10 5.5"/>
<path d="M383.7,475.3 C385,474.3 390.3,470 391.7,468.9" fill="none" stroke="#fff" stroke-width="2.8" stroke-dasharray="10 5.5"/>
</g>
<text x="414" y="422.8" font-size="17" fill="#fff"><tspan font-family='"Liberation Serif", serif'>β</tspan>’2</text>
<text x="353.8" y="463.4" font-size="17" fill="#fff"><tspan font-family='"Liberation Serif", serif'>β</tspan>’1</text>
<text x="347.1" y="501.6" font-size="17" fill="#fff"><tspan font-family='"Liberation Serif", serif'>γ</tspan>2</text>
<text x="386.1" y="495.2" font-size="17" fill="#fff"><tspan font-family='"Liberation Serif", serif'>γ</tspan>3</text>
<text x="417.1" y="476.1" font-size="17" fill="#fff"><tspan font-family='"Liberation Serif", serif'>γ</tspan>4</text>
<text x="452.2" y="475.3" font-size="17" fill="#fff"><tspan font-family='"Liberation Serif", serif'>γ</tspan>5</text>
<line x1="300.9" y1="510.8" x2="348.7" y2="510.8" stroke="#fff" stroke-width="3"/>
<rect x="402.8" y="524.8" width="83" height="11" fill="url(#jetg)" stroke="#000" stroke-width="1.6"/>
<text x="407.6" y="561.3" font-size="21" text-anchor="middle">0</text>
<text x="478" y="561.3" font-size="21" text-anchor="middle">2.5</text>
<text x="322.4" y="543.8" font-size="22.5">ΔF/F<tspan font-size="14.85" dy="4.95">0</tspan></text>
<text x="29" y="612.5" font-size="26.5" font-weight="bold">e1</text>
<text x="77.6" y="711.5" font-size="27.5" text-anchor="middle" transform="rotate(-90 77.6 711.5)">Shock</text>
<rect x="84.2" y="640" width="191.8" height="144.5" fill="#000080"/>
<g transform="translate(0 261.9)"><g clip-path="url(#blob)"><g filter="url(#jet)"><rect x="84.2" y="378.1" width="191.8" height="144.5" fill="#4c4c4c"/><ellipse cx="113.5" cy="462.7" rx="21.6" ry="27" fill="#d8d8d8"/><ellipse cx="120.7" cy="480.7" rx="16.2" ry="10.8" fill="#f2f2f2"/><ellipse cx="241.3" cy="462.7" rx="9" ry="19.8" fill="#e0e0e0"/><ellipse cx="145.9" cy="444.7" rx="21.6" ry="12.6" fill="#1e1e1e"/><ellipse cx="199.9" cy="466.3" rx="19.8" ry="16.2" fill="#232323"/><ellipse cx="208.9" cy="419.5" rx="25.2" ry="16.2" fill="#4c4c4c"/><ellipse cx="163.9" cy="484.3" rx="19.8" ry="12.6" fill="#6b6b6b"/><ellipse cx="120.7" cy="423.1" rx="14.4" ry="14.4" fill="#515151"/><ellipse cx="226.9" cy="451.9" rx="10.8" ry="10.8" fill="#7f7f7f"/><ellipse cx="99.2" cy="451.9" rx="9" ry="10.8" fill="#cccccc"/><ellipse cx="135.1" cy="486.1" rx="14.4" ry="9" fill="#cccccc"/><ellipse cx="104.5" cy="437.5" rx="9" ry="9" fill="#999999"/><ellipse cx="127.9" cy="475.3" rx="16.2" ry="10.8" fill="#d1d1d1"/></g></g>
<path d="M165.7,427.6 C168.4,426.4 178.3,424.8 181.9,420.4 C185.5,416.1 184,405.9 187.3,401.5 C190.6,397.2 195.7,395.2 201.7,394.3 C207.7,393.4 217,394.3 223.3,396.1 C229.6,397.9 235.9,401.2 239.5,405.1 C243.1,409 244.4,415.8 244.9,419.5 C245.3,423.3 242.6,426.3 242.2,427.6" fill="none" stroke="#fff" stroke-width="2.8" stroke-dasharray="10 5.5"/>
<path d="M118,433.9 C119.7,431.2 122.7,430.8 127.9,430.3 C133.2,429.9 142.6,429.7 149.5,431.2 C156.4,432.7 165.4,436.8 169.3,439.3 C173.2,441.9 173.8,443.5 172.9,446.5 C172,449.5 167.8,454.6 163.9,457.3 C160,460 153.7,462.1 149.5,462.7 C145.3,463.3 142.3,462.4 138.7,460.9 C135.1,459.4 131.4,456.1 127.9,453.7 C124.5,451.3 119.7,449.8 118,446.5 C116.4,443.2 116.4,436.6 118,433.9 Z" fill="none" stroke="#fff" stroke-width="2.8" stroke-dasharray="10 5.5"/>
<path d="M113.5,448.3 C111.1,448.6 100.6,446.5 99.2,450.1 C97.7,453.7 101.5,463.3 104.5,469.9 C107.5,476.5 112.6,484.9 117.1,489.7 C121.6,494.5 126.7,497.5 131.5,498.7 C136.3,499.9 143.1,498.1 145.9,496.9 C148.8,495.7 148.9,494.5 148.6,491.5 C148.3,488.5 145.2,482.5 144.1,478.9 C143.1,475.3 142.6,471.4 142.3,469.9" fill="none" stroke="#fff" stroke-width="2.8" stroke-dasharray="10 5.5"/>
<path d="M153.1,468.1 C156.1,465.7 160,460.9 163.9,459.1 C167.8,457.3 173.5,455.5 176.5,457.3 C179.5,459.1 180.1,466 181.9,469.9 C183.7,473.8 186.1,475.9 187.3,480.7 C188.5,485.5 190.6,495.4 189.1,498.7 C187.6,502 182.8,501.4 178.3,500.5 C173.8,499.6 166.9,496 162.1,493.3 C157.3,490.6 152.2,487.6 149.5,484.3 C146.8,481 145.3,476.2 145.9,473.5 C146.5,470.8 150.1,470.5 153.1,468.1 Z" fill="none" stroke="#fff" stroke-width="2.8" stroke-dasharray="10 5.5"/>
<path d="M172.9,450.1 C174.4,446.2 184.6,443.8 190.9,442.9 C197.2,442 205.9,443.2 210.7,444.7 C215.5,446.2 217.9,447.7 219.7,451.9 C221.5,456.1 221.8,464.5 221.5,469.9 C221.2,475.3 220.3,481 217.9,484.3 C215.5,487.6 210.7,488.8 207.1,489.7 C203.5,490.6 199.6,491.2 196.3,489.7 C193,488.2 189.7,484.6 187.3,480.7 C184.9,476.8 184.3,471.4 181.9,466.3 C179.5,461.2 171.4,454 172.9,450.1 Z" fill="none" stroke="#fff" stroke-width="2.8" stroke-dasharray="10 5.5"/>
<path d="M189.1,440.7 C193.3,440.4 206.2,440.1 214.3,438.9 C222.4,437.8 233.8,434.8 237.7,433.9" fill="none" stroke="#fff" stroke-width="2.8" stroke-dasharray="10 5.5"/>
<path d="M228.7,444.7 C230.8,444.1 237.7,439.3 241.3,441.1 C244.9,442.9 248.2,450.7 250.3,455.5 C252.4,460.3 254.2,465.1 253.9,469.9 C253.6,474.7 250.9,481.3 248.5,484.3 C246.1,487.3 242.8,487.6 239.5,487.9 C236.2,488.2 231.4,489.1 228.7,486.1 C226,483.1 224.3,475.6 223.3,469.9 C222.2,464.2 222.5,454.9 222.4,451.9" fill="none" stroke="#fff" stroke-width="2.8" stroke-dasharray="10 5.5"/>
</g>
<rect x="295.8" y="639.8" width="192.2" height="145.2" fill="#000080"/>
<g transform="translate(0 261.9)">
<path d="M407.6,449.8 C406.6,449 403.5,449.6 402,445.1 C400.5,440.6 398.2,429.7 398.8,422.8 C399.5,415.9 401.5,408.8 406,403.7 C410.5,398.5 419.5,392.5 425.9,391.7 C432.3,390.9 439.8,395.6 444.2,398.9 C448.6,402.2 452.1,407.4 452.1,411.6 C452.1,415.9 449.8,420.3 444.2,424.4 C438.6,428.5 423,434.3 418.7,436.3" fill="none" stroke="#fff" stroke-width="2.8" stroke-dasharray="10 5.5"/>
<path d="M329.6,454.6 C330.6,450.4 335.7,445.2 340.7,441.9 C345.8,438.6 353.2,435.2 359.8,434.7 C366.5,434.2 375.1,437.5 380.5,438.7 C386,439.9 390.6,439.2 392.5,441.9 C394.3,444.5 392.6,450.6 391.7,454.6 C390.7,458.6 390.3,462.7 386.9,465.8 C383.4,468.8 377.3,471.6 371,472.9 C364.6,474.3 354.8,474.6 348.7,473.7 C342.6,472.8 337.5,470.5 334.3,467.4 C331.2,464.2 328.5,458.9 329.6,454.6 Z" fill="none" stroke="#fff" stroke-width="2.8" stroke-dasharray="10 5.5"/>
<path d="M314.5,465 C315.9,467.2 319.6,473.3 323.2,478.5 C326.8,483.7 331.2,491.4 335.9,496 C340.7,500.6 346,504.8 351.9,506.4 C357.7,507.9 366.6,507 371,505.6 C375.3,504.1 376.9,498.9 378.1,497.6" fill="none" stroke="#fff" stroke-width="2.8" stroke-dasharray="10 5.5"/>
<path d="M327.2,465.8 C329.2,467.4 334,472.9 339.1,475.3 C344.3,477.7 355,479.3 358.2,480.1" fill="none" stroke="#fff" stroke-width="2.8" stroke-dasharray="10 5.5"/>
<path d="M382.1,497.6 C382.9,499.2 384.8,505.2 386.9,507.1 C389,509.1 392.2,510.1 394.8,509.5 C397.5,509 400.7,506.5 402.8,504 C404.9,501.4 406.8,496 407.6,494.4" fill="none" stroke="#fff" stroke-width="2.8" stroke-dasharray="10 5.5"/>
<path d="M367,480.1 C368.2,481.5 373,487.4 374.1,488.8" fill="none" stroke="#fff" stroke-width="2.8" stroke-dasharray="10 5.5"/>
<path d="M374.1,478.5 C374.9,480.1 378.1,486.5 378.9,488" fill="none" stroke="#fff" stroke-width="2.8" stroke-dasharray="10 5.5"/>
<path d="M396.4,460.2 C398,461.6 404.4,467.5 406,468.9" fill="none" stroke="#fff" stroke-width="2.8" stroke-dasharray="10 5.5"/>
<path d="M401.2,459.4 C402.4,460.7 407.2,466 408.4,467.4" fill="none" stroke="#fff" stroke-width="2.8" stroke-dasharray="10 5.5"/>
<path d="M407.6,476.9 C408.1,478.6 410.2,485.5 410.8,487.3" fill="none" stroke="#fff" stroke-width="2.8" stroke-dasharray="10 5.5"/>
<path d="M412.4,476.9 C412.8,478.9 412.9,487.8 414.7,488.8 C416.6,489.9 422,484.2 423.5,483.3" fill="none" stroke="#fff" stroke-width="2.8" stroke-dasharray="10 5.5"/>
<path d="M434.6,480.9 C435.6,479.7 439.3,474.9 440.2,473.7" fill="none" stroke="#fff" stroke-width="2.8" stroke-dasharray="10 5.5"/>
<path d="M433,435.5 C436.5,434.3 448.2,427.3 453.7,428.4 C459.3,429.4 463,436.4 466.5,441.9 C469.9,447.3 473.1,456.2 474.4,461 C475.8,465.8 476,467.4 474.4,470.5 C472.8,473.7 468.6,478 464.9,480.1 C461.2,482.2 455.3,483.8 452.1,483.3 C449,482.7 446.8,478 445.8,476.9" fill="none" stroke="#fff" stroke-width="2.8" stroke-dasharray="10 5.5"/>
<path d="M424.3,444.3 C426.5,444.7 435.6,446.3 437.8,446.7" fill="none" stroke="#fff" stroke-width="2.8" stroke-dasharray="10 5.5"/>
<path d="M439.4,457 C439.8,458.5 441.4,464.3 441.8,465.8" fill="none" stroke="#fff" stroke-width="2.8" stroke-dasharray="10 5.5"/>
<path d="M443.4,457 C443.7,458.5 444.7,464.3 445,465.8" fill="none" stroke="#fff" stroke-width="2.8" stroke-dasharray="10 5.5"/>
<path d="M383.7,475.3 C385,474.3 390.3,470 391.7,468.9" fill="none" stroke="#fff" stroke-width="2.8" stroke-dasharray="10 5.5"/>
</g>
<rect x="403.5" y="787.5" width="83" height="11" fill="url(#jetg)" stroke="#000" stroke-width="1.6"/>
<text x="408.2" y="823.5" font-size="21" text-anchor="middle">0</text>
<text x="476.5" y="823.5" font-size="21" text-anchor="middle">2.5</text>
<text x="325" y="805.5" font-size="22.5">ΔF/F<tspan font-size="14.85" dy="4.95">0</tspan></text>
<text x="29" y="894.5" font-size="26.5" font-weight="bold">f1</text>
<text x="77.6" y="998" font-size="27.5" text-anchor="middle" transform="rotate(-90 77.6 998)">Fsk perfusion</text>
<rect x="84.2" y="926" width="191.8" height="144.5" fill="#000080"/>
<g transform="translate(0 547.9)"><g clip-path="url(#blob)"><g filter="url(#jet)"><rect x="84.2" y="378.1" width="191.8" height="144.5" fill="#adadad"/><ellipse cx="120.7" cy="419.5" rx="14.4" ry="12.6" fill="#f9f9f9"/><ellipse cx="214.3" cy="414.1" rx="25.2" ry="14.4" fill="#d8d8d8"/><ellipse cx="235.9" cy="462.7" rx="14.4" ry="21.6" fill="#cccccc"/><ellipse cx="135.1" cy="451.9" rx="21.6" ry="12.6" fill="#9e9e9e"/><ellipse cx="163.9" cy="480.7" rx="27" ry="14.4" fill="#7a7a7a"/><ellipse cx="196.3" cy="480.7" rx="12.6" ry="9" fill="#333333"/><ellipse cx="113.5" cy="466.3" rx="18" ry="18" fill="#9e9e9e"/><ellipse cx="102.7" cy="451.9" rx="9" ry="10.8" fill="#e5e5e5"/><ellipse cx="181.9" cy="444.7" rx="18" ry="10.8" fill="#cccccc"/></g></g>
<path d="M165.7,427.6 C168.4,426.4 178.3,424.8 181.9,420.4 C185.5,416.1 184,405.9 187.3,401.5 C190.6,397.2 195.7,395.2 201.7,394.3 C207.7,393.4 217,394.3 223.3,396.1 C229.6,397.9 235.9,401.2 239.5,405.1 C243.1,409 244.4,415.8 244.9,419.5 C245.3,423.3 242.6,426.3 242.2,427.6" fill="none" stroke="#fff" stroke-width="2.8" stroke-dasharray="10 5.5"/>
<path d="M118,433.9 C119.7,431.2 122.7,430.8 127.9,430.3 C133.2,429.9 142.6,429.7 149.5,431.2 C156.4,432.7 165.4,436.8 169.3,439.3 C173.2,441.9 173.8,443.5 172.9,446.5 C172,449.5 167.8,454.6 163.9,457.3 C160,460 153.7,462.1 149.5,462.7 C145.3,463.3 142.3,462.4 138.7,460.9 C135.1,459.4 131.4,456.1 127.9,453.7 C124.5,451.3 119.7,449.8 118,446.5 C116.4,443.2 116.4,436.6 118,433.9 Z" fill="none" stroke="#fff" stroke-width="2.8" stroke-dasharray="10 5.5"/>
<path d="M113.5,448.3 C111.1,448.6 100.6,446.5 99.2,450.1 C97.7,453.7 101.5,463.3 104.5,469.9 C107.5,476.5 112.6,484.9 117.1,489.7 C121.6,494.5 126.7,497.5 131.5,498.7 C136.3,499.9 143.1,498.1 145.9,496.9 C148.8,495.7 148.9,494.5 148.6,491.5 C148.3,488.5 145.2,482.5 144.1,478.9 C143.1,475.3 142.6,471.4 142.3,469.9" fill="none" stroke="#fff" stroke-width="2.8" stroke-dasharray="10 5.5"/>
<path d="M153.1,468.1 C156.1,465.7 160,460.9 163.9,459.1 C167.8,457.3 173.5,455.5 176.5,457.3 C179.5,459.1 180.1,466 181.9,469.9 C183.7,473.8 186.1,475.9 187.3,480.7 C188.5,485.5 190.6,495.4 189.1,498.7 C187.6,502 182.8,501.4 178.3,500.5 C173.8,499.6 166.9,496 162.1,493.3 C157.3,490.6 152.2,487.6 149.5,484.3 C146.8,481 145.3,476.2 145.9,473.5 C146.5,470.8 150.1,470.5 153.1,468.1 Z" fill="none" stroke="#fff" stroke-width="2.8" stroke-dasharray="10 5.5"/>
<path d="M172.9,450.1 C174.4,446.2 184.6,443.8 190.9,442.9 C197.2,442 205.9,443.2 210.7,444.7 C215.5,446.2 217.9,447.7 219.7,451.9 C221.5,456.1 221.8,464.5 221.5,469.9 C221.2,475.3 220.3,481 217.9,484.3 C215.5,487.6 210.7,488.8 207.1,489.7 C203.5,490.6 199.6,491.2 196.3,489.7 C193,488.2 189.7,484.6 187.3,480.7 C184.9,476.8 184.3,471.4 181.9,466.3 C179.5,461.2 171.4,454 172.9,450.1 Z" fill="none" stroke="#fff" stroke-width="2.8" stroke-dasharray="10 5.5"/>
<path d="M189.1,440.7 C193.3,440.4 206.2,440.1 214.3,438.9 C222.4,437.8 233.8,434.8 237.7,433.9" fill="none" stroke="#fff" stroke-width="2.8" stroke-dasharray="10 5.5"/>
<path d="M228.7,444.7 C230.8,444.1 237.7,439.3 241.3,441.1 C244.9,442.9 248.2,450.7 250.3,455.5 C252.4,460.3 254.2,465.1 253.9,469.9 C253.6,474.7 250.9,481.3 248.5,484.3 C246.1,487.3 242.8,487.6 239.5,487.9 C236.2,488.2 231.4,489.1 228.7,486.1 C226,483.1 224.3,475.6 223.3,469.9 C222.2,464.2 222.5,454.9 222.4,451.9" fill="none" stroke="#fff" stroke-width="2.8" stroke-dasharray="10 5.5"/>
</g>
<rect x="295.8" y="925.8" width="192.2" height="145.2" fill="#000080"/>
<g transform="translate(0 547.9)">
<path d="M407.6,449.8 C406.6,449 403.5,449.6 402,445.1 C400.5,440.6 398.2,429.7 398.8,422.8 C399.5,415.9 401.5,408.8 406,403.7 C410.5,398.5 419.5,392.5 425.9,391.7 C432.3,390.9 439.8,395.6 444.2,398.9 C448.6,402.2 452.1,407.4 452.1,411.6 C452.1,415.9 449.8,420.3 444.2,424.4 C438.6,428.5 423,434.3 418.7,436.3" fill="none" stroke="#fff" stroke-width="2.8" stroke-dasharray="10 5.5"/>
<path d="M329.6,454.6 C330.6,450.4 335.7,445.2 340.7,441.9 C345.8,438.6 353.2,435.2 359.8,434.7 C366.5,434.2 375.1,437.5 380.5,438.7 C386,439.9 390.6,439.2 392.5,441.9 C394.3,444.5 392.6,450.6 391.7,454.6 C390.7,458.6 390.3,462.7 386.9,465.8 C383.4,468.8 377.3,471.6 371,472.9 C364.6,474.3 354.8,474.6 348.7,473.7 C342.6,472.8 337.5,470.5 334.3,467.4 C331.2,464.2 328.5,458.9 329.6,454.6 Z" fill="none" stroke="#fff" stroke-width="2.8" stroke-dasharray="10 5.5"/>
<path d="M314.5,465 C315.9,467.2 319.6,473.3 323.2,478.5 C326.8,483.7 331.2,491.4 335.9,496 C340.7,500.6 346,504.8 351.9,506.4 C357.7,507.9 366.6,507 371,505.6 C375.3,504.1 376.9,498.9 378.1,497.6" fill="none" stroke="#fff" stroke-width="2.8" stroke-dasharray="10 5.5"/>
<path d="M327.2,465.8 C329.2,467.4 334,472.9 339.1,475.3 C344.3,477.7 355,479.3 358.2,480.1" fill="none" stroke="#fff" stroke-width="2.8" stroke-dasharray="10 5.5"/>
<path d="M382.1,497.6 C382.9,499.2 384.8,505.2 386.9,507.1 C389,509.1 392.2,510.1 394.8,509.5 C397.5,509 400.7,506.5 402.8,504 C404.9,501.4 406.8,496 407.6,494.4" fill="none" stroke="#fff" stroke-width="2.8" stroke-dasharray="10 5.5"/>
<path d="M367,480.1 C368.2,481.5 373,487.4 374.1,488.8" fill="none" stroke="#fff" stroke-width="2.8" stroke-dasharray="10 5.5"/>
<path d="M374.1,478.5 C374.9,480.1 378.1,486.5 378.9,488" fill="none" stroke="#fff" stroke-width="2.8" stroke-dasharray="10 5.5"/>
<path d="M396.4,460.2 C398,461.6 404.4,467.5 406,468.9" fill="none" stroke="#fff" stroke-width="2.8" stroke-dasharray="10 5.5"/>
<path d="M401.2,459.4 C402.4,460.7 407.2,466 408.4,467.4" fill="none" stroke="#fff" stroke-width="2.8" stroke-dasharray="10 5.5"/>
<path d="M407.6,476.9 C408.1,478.6 410.2,485.5 410.8,487.3" fill="none" stroke="#fff" stroke-width="2.8" stroke-dasharray="10 5.5"/>
<path d="M412.4,476.9 C412.8,478.9 412.9,487.8 414.7,488.8 C416.6,489.9 422,484.2 423.5,483.3" fill="none" stroke="#fff" stroke-width="2.8" stroke-dasharray="10 5.5"/>
<path d="M434.6,480.9 C435.6,479.7 439.3,474.9 440.2,473.7" fill="none" stroke="#fff" stroke-width="2.8" stroke-dasharray="10 5.5"/>
<path d="M433,435.5 C436.5,434.3 448.2,427.3 453.7,428.4 C459.3,429.4 463,436.4 466.5,441.9 C469.9,447.3 473.1,456.2 474.4,461 C475.8,465.8 476,467.4 474.4,470.5 C472.8,473.7 468.6,478 464.9,480.1 C461.2,482.2 455.3,483.8 452.1,483.3 C449,482.7 446.8,478 445.8,476.9" fill="none" stroke="#fff" stroke-width="2.8" stroke-dasharray="10 5.5"/>
<path d="M424.3,444.3 C426.5,444.7 435.6,446.3 437.8,446.7" fill="none" stroke="#fff" stroke-width="2.8" stroke-dasharray="10 5.5"/>
<path d="M439.4,457 C439.8,458.5 441.4,464.3 441.8,465.8" fill="none" stroke="#fff" stroke-width="2.8" stroke-dasharray="10 5.5"/>
<path d="M443.4,457 C443.7,458.5 444.7,464.3 445,465.8" fill="none" stroke="#fff" stroke-width="2.8" stroke-dasharray="10 5.5"/>
<path d="M383.7,475.3 C385,474.3 390.3,470 391.7,468.9" fill="none" stroke="#fff" stroke-width="2.8" stroke-dasharray="10 5.5"/>
</g>
<rect x="405.5" y="1075" width="83" height="11" fill="url(#jetg)" stroke="#000" stroke-width="1.6"/>
<text x="409.7" y="1112.5" font-size="21" text-anchor="middle">0</text>
<text x="482" y="1112.5" font-size="21" text-anchor="middle">4.5</text>
<text x="323" y="1092.5" font-size="22.5">ΔF/F<tspan font-size="14.85" dy="4.95">0</tspan></text>
<text x="514.7" y="322.2" font-size="26.5" font-weight="bold">d2</text>
<text x="586.2" y="379" font-size="20.5"><tspan font-family='"Liberation Serif", serif'>γ</tspan>2</text>
<text x="649.5" y="379" font-size="20.5"><tspan font-family='"Liberation Serif", serif'>γ</tspan>3</text>
<text x="713.2" y="379" font-size="20.5"><tspan font-family='"Liberation Serif", serif'>γ</tspan>4</text>
<text x="782.5" y="379" font-size="20.5"><tspan font-family='"Liberation Serif", serif'>γ</tspan>5</text>
<text x="848" y="379" font-size="20.5"><tspan font-family='"Liberation Serif", serif'>β</tspan>’1</text>
<text x="916.8" y="379" font-size="20.5"><tspan font-family='"Liberation Serif", serif'>β</tspan>’2</text>
<rect x="597.6" y="402.7" width="5" height="147" fill="#e2e2e2"/>
<rect x="599.2" y="550.8" width="1.8" height="1.2" fill="#222"/>
<rect x="663.4" y="402.7" width="5" height="147" fill="#e2e2e2"/>
<rect x="665" y="550.8" width="1.8" height="1.2" fill="#222"/>
<rect x="729.1" y="402.7" width="5" height="147" fill="#e2e2e2"/>
<rect x="730.7" y="550.8" width="1.8" height="1.2" fill="#222"/>
<rect x="794.9" y="402.7" width="5" height="147" fill="#e2e2e2"/>
<rect x="796.5" y="550.8" width="1.8" height="1.2" fill="#222"/>
<rect x="860.9" y="402.7" width="5" height="147" fill="#e2e2e2"/>
<rect x="862.5" y="550.8" width="1.8" height="1.2" fill="#222"/>
<rect x="926.7" y="402.7" width="5" height="147" fill="#e2e2e2"/>
<rect x="928.3" y="550.8" width="1.8" height="1.2" fill="#222"/>
<line x1="590.5" y1="523.7" x2="962" y2="523.7" stroke="#c8c8c8" stroke-width="1.2" stroke-dasharray="5 5"/>
<polyline points="545.4,483.1 545.4,522.4 586.2,522.4" fill="none" stroke="#222" stroke-width="1.3"/>
<text x="549.7" y="541.1" font-size="18">15 s</text>
<text x="532.5" y="546.4" font-size="18" transform="rotate(-90 532.5 546.4)">50% ΔF/F<tspan font-size="11" dy="4">0</tspan></text>
<text x="584" y="584" font-size="24.6">1 s Odor</text>
<polygon points="590.5,519.5 590.8,519.3 591.1,519.4 591.4,519.2 591.7,519.1 592,519.6 592.3,517.7 592.6,520.1 592.9,519.8 593.2,519.3 593.5,519.2 593.8,520.1 594.1,519.9 594.4,520.9 594.7,520.6 595,521 595.3,521.1 595.6,520 595.9,521.4 596.2,522.2 596.5,522 596.8,522.8 597.1,522.9 597.4,523.9 597.7,523.9 598,524.8 598.3,525.6 598.6,525.2 598.9,525.4 599.2,524.1 599.5,523.3 599.8,523.9 600.1,523.5 600.4,523.1 600.7,520.5 601,517.5 601.3,514 601.6,510.7 601.9,504.1 602.2,501.2 602.5,497.7 602.8,494.1 603.1,492.1 603.4,489 603.7,488.6 604,486.1 604.3,487.2 604.6,486.3 604.9,486.6 605.2,486.4 605.5,487.2 605.8,488 606.1,489 606.4,487.9 606.7,489.6 607,489.8 607.3,490.8 607.6,491.1 607.9,492 608.2,492.2 608.5,494 608.8,494 609.1,495.8 609.4,496.3 609.7,496.3 610,498.7 610.3,499.7 610.6,500.7 610.9,500.3 611.2,502.1 611.5,502.1 611.8,504.2 612.1,505.8 612.4,505.5 612.7,507.4 613,507.3 613.3,508.3 613.6,508.7 613.9,509.6 614.2,510.3 614.5,510.7 614.8,511.2 615.1,511.1 615.4,512.3 615.7,510.9 616,513.7 616.3,513.3 616.6,514 616.9,514.5 617.2,514.5 617.5,517 617.8,517.7 618.1,517.4 618.4,518.5 618.7,519.1 619,518.2 619.3,520.2 619.6,520.7 619.9,521.1 620.2,520.3 620.5,521.3 620.8,521.6 621.1,521.4 621.4,522 621.7,522.6 622,521.8 622.3,520.3 622.6,521.4 622.9,520.2 623.2,520 623.5,520.3 623.8,517.6 624.1,519.2 624.4,518.6 624.7,517.4 625,517 625.3,513.6 625.6,514.3 625.9,512.9 626.2,512.4 626.5,510.8 626.8,509.1 627.1,507.4 627.4,508.1 627.7,507.3 628,505.6 628.3,505.1 628.6,504.6 628.9,503.4 629.2,503 629.5,501.8 629.8,501.6 630.1,501.6 630.4,500.1 630.7,499.8 631,499.9 631,519.3 630.7,520.3 630.4,521 630.1,521.1 629.8,521.7 629.5,523.6 629.2,523.1 628.9,525.1 628.6,525.1 628.3,525.6 628,527.7 627.7,528.3 627.4,528.7 627.1,529.9 626.8,531.3 626.5,532.1 626.2,534 625.9,534.8 625.6,537.8 625.3,537.1 625,539.1 624.7,540.8 624.4,540.9 624.1,542.2 623.8,542.1 623.5,543.3 623.2,543.2 622.9,544.1 622.6,544.2 622.3,545.1 622,547 621.7,546.2 621.4,546.5 621.1,546.1 620.8,546.4 620.5,546.7 620.2,545.4 619.9,545.6 619.6,546 619.3,545.3 619,545 618.7,545.6 618.4,544.6 618.1,545.9 617.8,542.8 617.5,542.9 617.2,542.9 616.9,541.3 616.6,540.9 616.3,540.5 616,540.3 615.7,540 615.4,538.8 615.1,540.3 614.8,537.8 614.5,537.2 614.2,536.7 613.9,536.1 613.6,534.7 613.3,534 613,533.3 612.7,533.9 612.4,531.8 612.1,531.7 611.8,531.2 611.5,529.7 611.2,528 610.9,527.8 610.6,525.8 610.3,524.9 610,526.1 609.7,522.7 609.4,521.9 609.1,520.3 608.8,519 608.5,518.5 608.2,517.4 607.9,516.9 607.6,518.3 607.3,514.6 607,514.5 606.7,514 606.4,513.5 606.1,512.1 605.8,512.5 605.5,511.5 605.2,509.7 604.9,509.4 604.6,509.1 604.3,509.1 604,509.4 603.7,509.6 603.4,510.8 603.1,510.5 602.8,513.2 602.5,515 602.2,516.6 601.9,521.6 601.6,525.1 601.3,528 601,531 600.7,532.7 600.4,535 600.1,534.6 599.8,535 599.5,536.7 599.2,536.8 598.9,536 598.6,536.3 598.3,537.6 598,534.8 597.7,535.2 597.4,533.7 597.1,535 596.8,533.5 596.5,533.9 596.2,532.1 595.9,532.6 595.6,530.8 595.3,530.8 595,530.5 594.7,531.3 594.4,530.5 594.1,530.7 593.8,529.7 593.5,531.1 593.2,530.3 592.9,529 592.6,528.8 592.3,528.8 592,530.4 591.7,529 591.4,528.5 591.1,528.2 590.8,529.2 590.5,528.5" fill="#8b1616" opacity="0.45"/>
<polyline points="590.5,526.4 590.8,520.5 591.1,524.5 591.4,523.3 591.7,523.6 592,524 592.3,521.8 592.6,524.2 592.9,523.5 593.2,529.1 593.5,525.2 593.8,524.6 594.1,524.8 594.4,524.4 594.7,524 595,525 595.3,526.4 595.6,525.7 595.9,527.7 596.2,526.6 596.5,527.4 596.8,529.9 597.1,529.2 597.4,528.3 597.7,529.2 598,530.7 598.3,533 598.6,530.5 598.9,530.6 599.2,532.1 599.5,529.2 599.8,529.3 600.1,530.1 600.4,529 600.7,526.8 601,525.3 601.3,517.7 601.6,518.8 601.9,511.7 602.2,506.8 602.5,506.2 602.8,504.3 603.1,501 603.4,499.2 603.7,499.5 604,498.5 604.3,499.8 604.6,498.7 604.9,498.1 605.2,499.7 605.5,498.7 605.8,498.4 606.1,501.1 606.4,501.7 606.7,501.4 607,501.3 607.3,503.3 607.6,500.4 607.9,505.2 608.2,505.7 608.5,503.8 608.8,506.9 609.1,506.5 609.4,509.8 609.7,507.3 610,509.8 610.3,512.9 610.6,514.6 610.9,511.3 611.2,514.5 611.5,516.6 611.8,516.5 612.1,520.3 612.4,517.6 612.7,520.4 613,519.3 613.3,523.1 613.6,521.9 613.9,522 614.2,520.9 614.5,525.9 614.8,525.3 615.1,525.9 615.4,527 615.7,526.6 616,525.9 616.3,526.3 616.6,526.9 616.9,530.3 617.2,527.2 617.5,528.9 617.8,529.9 618.1,531.2 618.4,532.1 618.7,530.2 619,529.9 619.3,532.5 619.6,534.4 619.9,534.1 620.2,533.7 620.5,533.3 620.8,534.4 621.1,533.9 621.4,535.3 621.7,533.1 622,534 622.3,533.2 622.6,533.6 622.9,532.7 623.2,535.2 623.5,533.3 623.8,532.8 624.1,527.6 624.4,529.1 624.7,527.9 625,528.3 625.3,523.5 625.6,526.8 625.9,525.5 626.2,521.2 626.5,520.4 626.8,519.5 627.1,519.4 627.4,519.1 627.7,520 628,516.2 628.3,516.6 628.6,515.1 628.9,516.4 629.2,514.3 629.5,514.3 629.8,510.4 630.1,510.8 630.4,509.2 630.7,511.6 631,510" fill="none" stroke="#8b1616" stroke-width="1.5" stroke-linejoin="round"/>
<polyline points="590.5,524.3 590.8,524.5 591.1,524.1 591.4,524.2 591.7,523.2 592,524.7 592.3,523.9 592.6,525.1 592.9,522.3 593.2,524.2 593.5,524.4 593.8,523.5 594.1,524 594.4,524.2 594.7,524.1 595,523.3 595.3,523.6 595.6,524.4 595.9,524.6 596.2,523.8 596.5,523.8 596.8,523.8 597.1,524.4 597.4,523 597.7,522.8 598,523.8 598.3,522.9 598.6,523.3 598.9,523.8 599.2,524 599.5,522.9 599.8,524.3 600.1,522.5 600.4,524.1 600.7,522.6 601,522.8 601.3,524.1 601.6,523.4 601.9,523.1 602.2,523.4 602.5,524 602.8,523.7 603.1,523.7 603.4,524.4 603.7,523.2 604,523.4 604.3,523.3 604.6,524.5 604.9,524.4 605.2,524.6 605.5,523.7 605.8,523.6 606.1,524.3 606.4,523.4 606.7,524.3 607,524.2 607.3,523.2 607.6,523.6 607.9,523.6 608.2,524.9 608.5,525.5 608.8,523.6 609.1,523.7 609.4,522.1 609.7,523.8 610,523.7 610.3,522.9 610.6,524.2 610.9,522.6 611.2,523.5 611.5,523.8 611.8,522.8 612.1,524.3 612.4,524.4 612.7,522.7 613,522.7 613.3,524.1 613.6,523.7 613.9,522.9 614.2,523.5 614.5,523.6 614.8,523.6 615.1,524.3 615.4,524 615.7,524.9 616,524.7 616.3,524.2 616.6,524.5 616.9,524.6 617.2,524.2 617.5,522.8 617.8,524.3 618.1,523.8 618.4,524.8 618.7,523.8 619,524.1 619.3,523.9 619.6,524.9 619.9,523.8 620.2,523.5 620.5,523.9 620.8,523.4 621.1,523.8 621.4,523.7 621.7,523.9 622,525 622.3,523.4 622.6,523.7 622.9,523.6 623.2,524.2 623.5,522.9 623.8,523.2 624.1,523.7 624.4,524.1 624.7,523.7 625,523.3 625.3,523.1 625.6,524.1 625.9,524.7 626.2,523.9 626.5,523.8 626.8,524 627.1,523 627.4,523.5 627.7,523.5 628,523.9 628.3,523.7 628.6,522.8 628.9,524.5 629.2,524.9 629.5,523.5 629.8,524 630.1,523.9 630.4,524.2 630.7,522.7 631,524.8 631.3,523.4" fill="none" stroke="#000" stroke-width="1.4" stroke-linejoin="round"/>
<polygon points="656.3,520.2 656.6,520.8 656.9,519.5 657.2,520.9 657.5,520.4 657.8,521.4 658.1,521 658.4,520.3 658.7,521.5 659,521.2 659.3,521.6 659.6,522.1 659.9,521.2 660.2,520.9 660.5,522.9 660.8,523.1 661.1,522.7 661.4,521.6 661.7,524 662,524.3 662.3,524.3 662.6,523.6 662.9,524.8 663.2,523.7 663.5,525.5 663.8,525.9 664.1,526.1 664.4,524.9 664.7,524.4 665,525.3 665.3,525.1 665.6,525.1 665.9,523 666.2,522.6 666.5,520.5 666.8,521.6 667.1,517.7 667.4,517.1 667.7,513.7 668,509.5 668.3,506.1 668.6,502.9 668.9,500.8 669.2,497.8 669.5,493.8 669.8,491.1 670.1,487.6 670.4,485.5 670.7,483.4 671,480.9 671.3,479.4 671.6,478.3 671.9,479 672.2,479.5 672.5,480.4 672.8,481.3 673.1,481.7 673.4,483.1 673.7,483.7 674,484.9 674.3,485 674.6,485.9 674.9,486.7 675.2,488.8 675.5,488.4 675.8,489.8 676.1,491.9 676.4,491.4 676.7,493.6 677,493.6 677.3,495.8 677.6,496.7 677.9,498.2 678.2,497.7 678.5,500.1 678.8,500.8 679.1,502.4 679.4,503.3 679.7,503.7 680,503.8 680.3,506.6 680.6,506.1 680.9,508.3 681.2,509.3 681.5,509.2 681.8,511.5 682.1,512.2 682.4,512.5 682.7,513.5 683,515 683.3,513.9 683.6,516.4 683.9,516.2 684.2,517.3 684.5,518.4 684.8,517.5 685.1,519.9 685.4,519.9 685.7,521 686,521.3 686.3,521 686.6,520.9 686.9,521.6 687.2,521.9 687.5,521.5 687.8,523 688.1,523.3 688.4,522.8 688.7,523.3 689,523 689.3,523.2 689.6,523 689.9,522.8 690.2,520.6 690.5,519 690.8,520.9 691.1,519.6 691.4,520.6 691.7,519.8 692,519.8 692.3,519.2 692.6,519 692.9,517.3 693.2,517.1 693.5,516.3 693.8,516 694.1,515.8 694.4,514.2 694.7,514.8 695,514.8 695.3,515.2 695.6,516.1 695.9,516.7 696.2,518.2 696.5,518.5 696.8,520.1 697.1,519.5 697.1,524.7 696.8,524.3 696.5,523.7 696.2,523.4 695.9,522.6 695.6,521 695.3,521.2 695,520.5 694.7,520.5 694.4,519.9 694.1,520.4 693.8,521.1 693.5,522 693.2,523.3 692.9,522.7 692.6,525.8 692.3,525.2 692,525.9 691.7,525.9 691.4,525.1 691.1,525.5 690.8,525.9 690.5,526.1 690.2,527 689.9,527.7 689.6,527.8 689.3,528.5 689,528.5 688.7,527.7 688.4,529.3 688.1,528.4 687.8,527.8 687.5,530.2 687.2,528.5 686.9,527.6 686.6,527.2 686.3,526.4 686,526.9 685.7,527.5 685.4,525.3 685.1,524.8 684.8,524.3 684.5,522.9 684.2,523.1 683.9,521.3 683.6,522.3 683.3,521 683,519.8 682.7,519.4 682.4,518.3 682.1,518.4 681.8,517.2 681.5,515.9 681.2,515 680.9,514.4 680.6,512 680.3,512.4 680,509.7 679.7,509.6 679.4,508.3 679.1,507.3 678.8,505.6 678.5,505.6 678.2,504 677.9,503.2 677.6,503.1 677.3,501.7 677,500.2 676.7,499.2 676.4,497.8 676.1,496 675.8,496.3 675.5,494.5 675.2,493.5 674.9,492.4 674.6,491.6 674.3,490.5 674,489.1 673.7,489.5 673.4,488 673.1,486.6 672.8,486.5 672.5,486.3 672.2,484.6 671.9,484.2 671.6,483.4 671.3,485.1 671,485.4 670.7,489.7 670.4,491.6 670.1,493.7 669.8,497.4 669.5,499.2 669.2,502.1 668.9,505.9 668.6,508.5 668.3,511.6 668,515.3 667.7,519.5 667.4,521.8 667.1,523.9 666.8,527 666.5,528.8 666.2,529.2 665.9,529.8 665.6,529.6 665.3,530.3 665,530.8 664.7,530.2 664.4,531.8 664.1,531.8 663.8,530.7 663.5,530.5 663.2,530.4 662.9,529.3 662.6,529.1 662.3,530.7 662,529 661.7,529.7 661.4,529.5 661.1,528.2 660.8,528.8 660.5,528.1 660.2,526.9 659.9,528.2 659.6,527 659.3,527.3 659,526.2 658.7,527.5 658.4,527.4 658.1,525.7 657.8,527.7 657.5,525.9 657.2,526.9 656.9,525.2 656.6,526.8 656.3,525.9" fill="#c81414" opacity="0.45"/>
<polyline points="656.3,524.4 656.6,523 656.9,522.5 657.2,523 657.5,524.5 657.8,522.3 658.1,523.1 658.4,523.1 658.7,521.7 659,525.7 659.3,525 659.6,524.3 659.9,526 660.2,523.5 660.5,524.9 660.8,527.5 661.1,526.8 661.4,522.9 661.7,521.8 662,525.1 662.3,528.1 662.6,526.4 662.9,527 663.2,528.4 663.5,526.7 663.8,528.4 664.1,529.3 664.4,528.9 664.7,528.6 665,527.1 665.3,528.2 665.6,526.6 665.9,528.5 666.2,529.8 666.5,524.5 666.8,521.1 667.1,521.3 667.4,519.7 667.7,517.3 668,514.1 668.3,508.5 668.6,505.2 668.9,504.7 669.2,498.5 669.5,498.3 669.8,493.7 670.1,492.1 670.4,489.2 670.7,486.4 671,484.3 671.3,480.6 671.6,481.6 671.9,481.3 672.2,482.5 672.5,484.5 672.8,483.3 673.1,483.6 673.4,484.4 673.7,485.7 674,487.9 674.3,486.8 674.6,490.3 674.9,490.2 675.2,490.6 675.5,490.2 675.8,493.3 676.1,494.9 676.4,492.8 676.7,497.6 677,499.3 677.3,498.6 677.6,499.9 677.9,503.4 678.2,503 678.5,501.2 678.8,503.4 679.1,504.3 679.4,505.4 679.7,503.5 680,508.6 680.3,507.9 680.6,510 680.9,510.6 681.2,513 681.5,512.5 681.8,512.9 682.1,515.6 682.4,517.6 682.7,516.1 683,519.1 683.3,518.3 683.6,517.9 683.9,521.3 684.2,518.9 684.5,522 684.8,520.7 685.1,522.6 685.4,521.1 685.7,522.3 686,525.3 686.3,524.6 686.6,524.7 686.9,524.3 687.2,525.6 687.5,523.3 687.8,523.7 688.1,525.1 688.4,524.3 688.7,524.6 689,525.4 689.3,525.2 689.6,524.9 689.9,527.1 690.2,525.8 690.5,525.7 690.8,523.7 691.1,522.6 691.4,521 691.7,522 692,519.3 692.3,520.8 692.6,522.1 692.9,522.6 693.2,521.2 693.5,518.2 693.8,519.3 694.1,517.1 694.4,518.8 694.7,517.4 695,518.9 695.3,521.5 695.6,520.1 695.9,522.8 696.2,520.9 696.5,521 696.8,523.9 697.1,524.9" fill="none" stroke="#c81414" stroke-width="1.5" stroke-linejoin="round"/>
<polyline points="664.3,523 664.6,522.9 664.9,524.9 665.2,523.5 665.5,523.8 665.8,523.2 666.1,524.7 666.4,525 666.7,523.6 667,524.1 667.3,523.2 667.6,525 667.9,524.4 668.2,523.2 668.5,524.6 668.8,524 669.1,524 669.4,524 669.7,523.3 670,523.4 670.3,524.2 670.6,523.7 670.9,523.1 671.2,525.2 671.5,523.6 671.8,523.4 672.1,523.3 672.4,524.2 672.7,524.4 673,523.9 673.3,524.4 673.6,522.7 673.9,523.5 674.2,523.4 674.5,523.8 674.8,524.1 675.1,522.3 675.4,525.9 675.7,523.1 676,524 676.3,524.3 676.6,524.3 676.9,523.9 677.2,521.7 677.5,523 677.8,524.3 678.1,523.1 678.4,523 678.7,522.1 679,524.6 679.3,524.1 679.6,523.1 679.9,523.6 680.2,523.7 680.5,522.9 680.8,523.5 681.1,523.9 681.4,524.1 681.7,524.6 682,523.7 682.3,523.4 682.6,524 682.9,523.3 683.2,522.8 683.5,524.5 683.8,523.4 684.1,523.8 684.4,524.2 684.7,522.9 685,524.2 685.3,524 685.6,523.6 685.9,524 686.2,523.2 686.5,522.2 686.8,523.5 687.1,523.1 687.4,524.3 687.7,523.9 688,523.3 688.3,523.7 688.6,524.7 688.9,524.5 689.2,524 689.5,524 689.8,523.5 690.1,523.6 690.4,524.1 690.7,523.6 691,523.9 691.3,522.9 691.6,522.5 691.9,522.5 692.2,523.4 692.5,524.6 692.8,524.5 693.1,523 693.4,522.6 693.7,524.3 694,524 694.3,522.8 694.6,524.5 694.9,523.8 695.2,524.6 695.5,524 695.8,524.3 696.1,523.9 696.4,523 696.7,523.5 697,523.2 697.3,524.3" fill="none" stroke="#000" stroke-width="1.4" stroke-linejoin="round"/>
<polygon points="722,520.2 722.3,520.2 722.6,519.3 722.9,520.1 723.2,519.3 723.5,519.8 723.8,519.4 724.1,519.8 724.4,519.6 724.7,519.6 725,519.1 725.3,518.1 725.6,519.3 725.9,518.2 726.2,518.9 726.5,519.4 726.8,518.7 727.1,518.4 727.4,518.2 727.7,518.6 728,518.6 728.3,517.5 728.6,517.5 728.9,517.1 729.2,516.4 729.5,517.1 729.8,517.6 730.1,516.2 730.4,516.7 730.7,514.5 731,515 731.3,513.9 731.6,510.7 731.9,508.2 732.2,506 732.5,503.6 732.8,499.1 733.1,493.5 733.4,486.7 733.7,482.2 734,474.4 734.3,465.5 734.6,457.9 734.9,447.9 735.2,442.1 735.5,436.3 735.8,430.1 736.1,424.1 736.4,418.3 736.7,413.2 737,410 737.3,407.9 737.6,410 737.9,411.5 738.2,412.3 738.5,413 738.8,416 739.1,418.3 739.4,421.2 739.7,423.7 740,425.9 740.3,428.4 740.6,431.4 740.9,432.8 741.2,434.9 741.5,437.9 741.8,440.7 742.1,443 742.4,444.2 742.7,446.2 743,448.4 743.3,450 743.6,452.1 743.9,452.7 744.2,454.6 744.5,456.6 744.8,458.2 745.1,459.2 745.4,460.8 745.7,461 746,462.7 746.3,463.7 746.6,465.5 746.9,466.3 747.2,466.9 747.5,468.5 747.8,469.6 748.1,470.9 748.4,471 748.7,472.5 749,473.2 749.3,474.7 749.6,474.7 749.9,476.3 750.2,476.2 750.5,477.9 750.8,479.2 751.1,478 751.4,479.9 751.7,480.7 752,481.1 752.3,482.8 752.6,483.3 752.9,484 753.2,484.1 753.5,485.6 753.8,485.5 754.1,485.5 754.4,486.2 754.7,486.7 755,486.9 755.3,487.7 755.6,488.8 755.9,488.1 756.2,489.5 756.5,490.5 756.8,492.1 757.1,492 757.4,494.8 757.7,495.7 758,494.8 758.3,498.9 758.6,500.1 758.9,500.5 759.2,502.2 759.5,502.5 759.8,505.3 760.1,505.4 760.4,506.9 760.7,509.1 761,509.5 761.3,510.9 761.6,512.1 761.9,513.6 762.2,515 762.5,515.9 762.8,516.7 762.8,529.5 762.5,528.5 762.2,527.6 761.9,528.5 761.6,528.1 761.3,525.8 761,525.5 760.7,525.6 760.4,523.9 760.1,523.8 759.8,524.1 759.5,522.4 759.2,522.9 758.9,521.8 758.6,521.4 758.3,520.5 758,519.7 757.7,519.7 757.4,518.1 757.1,518.4 756.8,516.6 756.5,515.9 756.2,515.9 755.9,514.4 755.6,515.1 755.3,514.2 755,513.3 754.7,513.9 754.4,512.5 754.1,512.2 753.8,511.8 753.5,512 753.2,510.9 752.9,512.1 752.6,510.7 752.3,510.2 752,509.1 751.7,509.6 751.4,507.9 751.1,507.8 750.8,507 750.5,506.9 750.2,505 749.9,504.5 749.6,504.5 749.3,502.8 749,501.9 748.7,501.3 748.4,499.7 748.1,499.7 747.8,498.7 747.5,497.5 747.2,497.2 746.9,496.2 746.6,494.7 746.3,493.5 746,492.7 745.7,491.2 745.4,489.7 745.1,488.3 744.8,486.4 744.5,486.5 744.2,483.6 743.9,482.4 743.6,480.2 743.3,479.5 743,477.3 742.7,475.5 742.4,474.1 742.1,472.6 741.8,471.2 741.5,468 741.2,466 740.9,462.4 740.6,460.9 740.3,457 740,454.9 739.7,452.9 739.4,450.4 739.1,448.5 738.8,447.4 738.5,443.4 738.2,441.4 737.9,439.8 737.6,438.8 737.3,437.9 737,438.9 736.7,442.5 736.4,442.7 736.1,446.9 735.8,451.6 735.5,455 735.2,460.3 734.9,465 734.6,471.2 734.3,476.2 734,484.1 733.7,490.2 733.4,498.3 733.1,503.2 732.8,508.2 732.5,512.5 732.2,514.5 731.9,516.9 731.6,519.6 731.3,522.2 731,523.3 730.7,524.4 730.4,525.2 730.1,525.6 729.8,525.1 729.5,525.9 729.2,526.6 728.9,526.3 728.6,525.9 728.3,525.7 728,526.8 727.7,526.1 727.4,526.5 727.1,526.9 726.8,528.3 726.5,526.5 726.2,527.3 725.9,526.5 725.6,526.7 725.3,526.5 725,527.1 724.7,526.5 724.4,526.6 724.1,526.5 723.8,527.6 723.5,527.1 723.2,526.8 722.9,527.9 722.6,527.2 722.3,526.8 722,527.1" fill="#f59c9c" opacity="0.45"/>
<polyline points="722,522.4 722.3,521.7 722.6,524.5 722.9,525 723.2,525.4 723.5,524.8 723.8,521.4 724.1,522.4 724.4,522.5 724.7,523.1 725,520.3 725.3,523 725.6,523.4 725.9,521.7 726.2,523 726.5,524.4 726.8,522.8 727.1,524 727.4,523.8 727.7,522.9 728,522.7 728.3,521.6 728.6,523.5 728.9,521.2 729.2,520.7 729.5,522.4 729.8,520.4 730.1,521.7 730.4,522.4 730.7,520.5 731,519.4 731.3,518.9 731.6,516.6 731.9,511.1 732.2,508.8 732.5,509.4 732.8,504.3 733.1,496.2 733.4,491.3 733.7,486.3 734,477.4 734.3,471.8 734.6,464.2 734.9,458.1 735.2,449.8 735.5,446.5 735.8,443.1 736.1,434.5 736.4,432.3 736.7,428.3 737,425.5 737.3,423.6 737.6,422.5 737.9,424.5 738.2,428.3 738.5,430.3 738.8,432.5 739.1,434.3 739.4,436.5 739.7,437.2 740,438.8 740.3,443.3 740.6,446.2 740.9,448.3 741.2,448.8 741.5,452.7 741.8,453.7 742.1,458 742.4,458.3 742.7,461.2 743,463.4 743.3,464.7 743.6,467.9 743.9,466.3 744.2,466.4 744.5,472.1 744.8,474.3 745.1,475.9 745.4,476 745.7,477.7 746,478.5 746.3,477.8 746.6,479.8 746.9,482.1 747.2,481.6 747.5,485.7 747.8,482.1 748.1,484.5 748.4,487.4 748.7,486 749,486.3 749.3,486.9 749.6,488.6 749.9,492.3 750.2,491.7 750.5,492.6 750.8,491.9 751.1,494.4 751.4,494.1 751.7,493.5 752,494.8 752.3,496.4 752.6,498.3 752.9,497.3 753.2,498.6 753.5,501 753.8,497.8 754.1,497.6 754.4,500.9 754.7,500.6 755,500.3 755.3,501.2 755.6,500.9 755.9,502.6 756.2,502.2 756.5,504.5 756.8,502.9 757.1,504.4 757.4,506.6 757.7,506.8 758,509.3 758.3,509.4 758.6,509.7 758.9,511.6 759.2,511.6 759.5,511.2 759.8,512.7 760.1,514 760.4,515.3 760.7,517 761,518.9 761.3,519.4 761.6,521.9 761.9,522.1 762.2,521.1 762.5,524.2 762.8,524.2" fill="none" stroke="#f59c9c" stroke-width="1.5" stroke-linejoin="round"/>
<polyline points="730,523.7 730.3,523 730.6,523.4 730.9,524.8 731.2,523 731.5,524.2 731.8,524 732.1,524.7 732.4,524.1 732.7,523.4 733,524.1 733.3,523.7 733.6,524.4 733.9,523.7 734.2,525.1 734.5,523.6 734.8,524 735.1,523.2 735.4,523.8 735.7,523.7 736,523.8 736.3,524.3 736.6,523.3 736.9,523.1 737.2,524.5 737.5,523.5 737.8,523.2 738.1,524.5 738.4,524.3 738.7,521.9 739,523.4 739.3,524.3 739.6,524.3 739.9,523.4 740.2,524.8 740.5,523.2 740.8,523.6 741.1,523.8 741.4,523.7 741.7,524.3 742,524.4 742.3,523.7 742.6,524.7 742.9,523.2 743.2,523.6 743.5,524.9 743.8,523.8 744.1,524.5 744.4,523.4 744.7,523.5 745,523.6 745.3,523.8 745.6,523.5 745.9,523.7 746.2,524.2 746.5,524.6 746.8,523.8 747.1,524.2 747.4,524.4 747.7,523 748,522.6 748.3,524.8 748.6,524.6 748.9,523.8 749.2,524 749.5,523.1 749.8,522.8 750.1,523.9 750.4,522.7 750.7,524.4 751,523.2 751.3,523.9 751.6,525.1 751.9,525 752.2,523.5 752.5,524.5 752.8,523 753.1,523.3 753.4,524 753.7,524.7 754,523.3 754.3,524.1 754.6,523.8 754.9,522.8 755.2,523.6 755.5,524.8 755.8,523.7 756.1,524.1 756.4,524.3 756.7,523.2 757,524.6 757.3,524.8 757.6,524.8 757.9,524.6 758.2,523.4 758.5,523.3 758.8,523.2 759.1,523.1 759.4,523.2 759.7,524.4 760,524.7 760.3,523.3 760.6,524.3 760.9,522.8 761.2,523.5 761.5,523 761.8,522.6 762.1,523.8 762.4,523.8 762.7,523.4 763,523.3" fill="none" stroke="#000" stroke-width="1.4" stroke-linejoin="round"/>
<polygon points="787.8,524 788.1,523.6 788.4,523.7 788.7,523.6 789,523.5 789.3,522.2 789.6,523.2 789.9,521.7 790.2,522.4 790.5,522.3 790.8,522.2 791.1,521.7 791.4,519.3 791.7,521.2 792,520.7 792.3,520.7 792.6,519.3 792.9,520.4 793.2,519.4 793.5,518.7 793.8,519.2 794.1,518.7 794.4,517.5 794.7,518.2 795,518 795.3,517.4 795.6,516.7 795.9,517.1 796.2,516.1 796.5,515.8 796.8,515.1 797.1,514.3 797.4,512.8 797.7,513.4 798,512.4 798.3,510.4 798.6,510.7 798.9,508.4 799.2,507.7 799.5,505.1 799.8,503.5 800.1,500 800.4,498 800.7,494.3 801,493.2 801.3,490.3 801.6,487.8 801.9,486.1 802.2,484.1 802.5,482.1 802.8,480.8 803.1,478.7 803.4,476.8 803.7,475.7 804,473.8 804.3,473.6 804.6,473.3 804.9,473.3 805.2,474.3 805.5,473.6 805.8,474.2 806.1,474.7 806.4,474.7 806.7,475.6 807,476 807.3,478.1 807.6,478 807.9,479.5 808.2,478.6 808.5,480.6 808.8,480 809.1,481.2 809.4,480.9 809.7,483 810,482.8 810.3,483.2 810.6,484.8 810.9,485 811.2,485.5 811.5,485.8 811.8,486.7 812.1,487.1 812.4,486.7 812.7,486.4 813,487.7 813.3,488.9 813.6,490.2 813.9,491.1 814.2,491.9 814.5,492 814.8,491.8 815.1,491.4 815.4,490.6 815.7,491.8 816,491.6 816.3,490.1 816.6,490.6 816.9,491.2 817.2,491.6 817.5,491.5 817.8,491.8 818.1,493.2 818.4,493.5 818.7,494.4 819,496.3 819.3,497 819.6,497.5 819.9,497.9 820.2,499 820.5,498.1 820.8,500.7 821.1,501.2 821.4,500 821.7,501.8 822,503.1 822.3,504.1 822.6,503 822.9,503.8 823.2,505.9 823.5,506.6 823.8,505.8 824.1,507.5 824.4,508.1 824.7,508 825,507.4 825.3,507.6 825.6,509.9 825.9,510.1 826.2,510.5 826.5,509.6 826.8,510.4 827.1,511.6 827.4,512.9 827.7,513.4 828,513.7 828.3,513.8 828.6,513.9 828.6,526.2 828.3,525.2 828,525.7 827.7,524.9 827.4,526.3 827.1,525.4 826.8,523.7 826.5,523.9 826.2,523.9 825.9,524.9 825.6,523.9 825.3,522.9 825,523 824.7,522.9 824.4,522.7 824.1,523.5 823.8,522.8 823.5,523 823.2,522.6 822.9,520.9 822.6,520.9 822.3,520.4 822,520.2 821.7,520.3 821.4,519.5 821.1,519.7 820.8,519.6 820.5,517.9 820.2,519 819.9,519.6 819.6,516.9 819.3,515.9 819,516.2 818.7,518.8 818.4,514.6 818.1,514.9 817.8,514.7 817.5,513.1 817.2,511.9 816.9,512.7 816.6,511.6 816.3,512.2 816,513.4 815.7,513.5 815.4,513.5 815.1,515 814.8,514.8 814.5,513.2 814.2,512.5 813.9,512.8 813.6,512.4 813.3,510.7 813,509.9 812.7,509.2 812.4,509.4 812.1,509.1 811.8,508.3 811.5,507.6 811.2,508.2 810.9,506.9 810.6,508 810.3,506.1 810,505.8 809.7,506.2 809.4,505 809.1,504 808.8,503.9 808.5,503 808.2,503.5 807.9,501.3 807.6,502.7 807.3,500.7 807,499.7 806.7,498.7 806.4,498.7 806.1,497.8 805.8,498.2 805.5,498.6 805.2,498.3 804.9,497.2 804.6,497.5 804.3,497.4 804,498.8 803.7,499 803.4,498.2 803.1,499.9 802.8,500 802.5,499.9 802.2,502.2 801.9,501.4 801.6,502.7 801.3,504 801,504.7 800.7,505.9 800.4,507.4 800.1,509.7 799.8,510.4 799.5,512.5 799.2,515.1 798.9,515.6 798.6,516.6 798.3,518.3 798,519 797.7,519.7 797.4,520.1 797.1,521 796.8,522.6 796.5,523.9 796.2,522.7 795.9,523.5 795.6,523.9 795.3,524.8 795,525 794.7,526.9 794.4,524.4 794.1,525.5 793.8,526.3 793.5,526 793.2,526.6 792.9,525.6 792.6,527.6 792.3,526.9 792,527.1 791.7,526.9 791.4,527.1 791.1,526.7 790.8,528 790.5,527.4 790.2,528.3 789.9,528.3 789.6,528.4 789.3,528.6 789,528.8 788.7,529.9 788.4,529.8 788.1,529.1 787.8,529.7" fill="#e9bb62" opacity="0.45"/>
<polyline points="787.8,525.3 788.1,526.3 788.4,525.5 788.7,526.4 789,524.3 789.3,525.9 789.6,526 789.9,526.8 790.2,526.3 790.5,524.9 790.8,523.6 791.1,521.9 791.4,524 791.7,525.6 792,525.7 792.3,520 792.6,522.1 792.9,522.4 793.2,521.3 793.5,522.7 793.8,522.3 794.1,521.3 794.4,521.7 794.7,519.5 795,520 795.3,519.9 795.6,521.9 795.9,518.1 796.2,519.4 796.5,520.1 796.8,518.3 797.1,518.7 797.4,516.1 797.7,516.8 798,516.7 798.3,517.7 798.6,514.7 798.9,514.3 799.2,510.9 799.5,509.2 799.8,509.1 800.1,505.8 800.4,504.9 800.7,502 801,501.8 801.3,500.2 801.6,494.3 801.9,496.2 802.2,493 802.5,491.8 802.8,490 803.1,490 803.4,486.5 803.7,485.9 804,485.1 804.3,486 804.6,486.6 804.9,486.4 805.2,486.3 805.5,485.4 805.8,484.2 806.1,487.4 806.4,487.5 806.7,488.2 807,490.2 807.3,488.7 807.6,489.3 807.9,487.3 808.2,491.7 808.5,491.6 808.8,491.4 809.1,493.6 809.4,492.4 809.7,493.7 810,497.5 810.3,496.4 810.6,497 810.9,497.2 811.2,497.4 811.5,497.3 811.8,500.4 812.1,497.7 812.4,499.2 812.7,498.5 813,498.9 813.3,496.8 813.6,498.2 813.9,503.5 814.2,504.2 814.5,502.2 814.8,503 815.1,503.8 815.4,501.5 815.7,504.7 816,500.6 816.3,500.6 816.6,497.8 816.9,503.5 817.2,501.9 817.5,504.5 817.8,501.8 818.1,504.2 818.4,504.6 818.7,505.4 819,508.6 819.3,509.5 819.6,509 819.9,507.3 820.2,509.6 820.5,510.7 820.8,510.2 821.1,510.7 821.4,511.1 821.7,509.9 822,511.9 822.3,514.2 822.6,511.3 822.9,513.2 823.2,514.7 823.5,512.4 823.8,514.4 824.1,512.8 824.4,514.5 824.7,513.8 825,514.7 825.3,515.6 825.6,516.1 825.9,516.5 826.2,514 826.5,519.5 826.8,517.4 827.1,516.8 827.4,517.8 827.7,519.5 828,518.2 828.3,519.3 828.6,519.5" fill="none" stroke="#e9bb62" stroke-width="1.5" stroke-linejoin="round"/>
<polyline points="795.8,523.7 796.1,523 796.4,524.1 796.7,523.7 797,522.7 797.3,524.4 797.6,523.8 797.9,522.9 798.2,524 798.5,524 798.8,525 799.1,523.1 799.4,524.3 799.7,523.6 800,524.1 800.3,523.5 800.6,523.7 800.9,524.1 801.2,522.9 801.5,522.2 801.8,523.7 802.1,523.4 802.4,523.8 802.7,524.2 803,523.6 803.3,524.5 803.6,523.7 803.9,523.8 804.2,524.3 804.5,524.1 804.8,523.7 805.1,523.8 805.4,523.2 805.7,523.3 806,523.8 806.3,524.3 806.6,523.4 806.9,524.3 807.2,525.1 807.5,525.2 807.8,523.7 808.1,524.5 808.4,524.2 808.7,524.3 809,524.3 809.3,524.1 809.6,524.3 809.9,523.9 810.2,523.6 810.5,523.9 810.8,524.1 811.1,524.6 811.4,524 811.7,524.3 812,524.7 812.3,523.1 812.6,523.6 812.9,524.1 813.2,523.8 813.5,523 813.8,524.4 814.1,523.7 814.4,523 814.7,525.1 815,522.8 815.3,523.7 815.6,523.3 815.9,523.8 816.2,524.1 816.5,523.2 816.8,523.7 817.1,523.6 817.4,523 817.7,524.6 818,523.9 818.3,523.5 818.6,523.3 818.9,523.5 819.2,523.8 819.5,523.4 819.8,524.6 820.1,521.9 820.4,522.2 820.7,523.6 821,522.4 821.3,523.7 821.6,523.3 821.9,524.1 822.2,524 822.5,524.6 822.8,524.4 823.1,524.6 823.4,524.1 823.7,524.5 824,524.1 824.3,523.3 824.6,522.9 824.9,522.9 825.2,524.1 825.5,522.1 825.8,523.9 826.1,523.2 826.4,524.2 826.7,523.9 827,523.2 827.3,523.7 827.6,522.1 827.9,523.9 828.2,524.1 828.5,522.4 828.8,524.3" fill="none" stroke="#000" stroke-width="1.4" stroke-linejoin="round"/>
<polygon points="853.8,517.8 854.1,516.8 854.4,518 854.7,519.1 855,519.1 855.3,520.3 855.6,520.3 855.9,520.5 856.2,521.3 856.5,522.1 856.8,522.4 857.1,522.3 857.4,522.9 857.7,524.3 858,524.7 858.3,522.6 858.6,523.8 858.9,524.7 859.2,525.4 859.5,525.2 859.8,526.2 860.1,526.8 860.4,526.9 860.7,525.2 861,525.9 861.3,527 861.6,526.6 861.9,526.3 862.2,526.9 862.5,525.3 862.8,524.2 863.1,521.1 863.4,518.9 863.7,513.2 864,509.6 864.3,507.2 864.6,502.7 864.9,499.2 865.2,494.5 865.5,488.5 865.8,484.3 866.1,478.7 866.4,475.8 866.7,472.4 867,468.6 867.3,465.5 867.6,464.5 867.9,463.1 868.2,463 868.5,461.4 868.8,462.8 869.1,464.2 869.4,465.7 869.7,465.9 870,468.3 870.3,468.8 870.6,470.6 870.9,470.8 871.2,472.3 871.5,474 871.8,473.4 872.1,476.9 872.4,478.6 872.7,479.3 873,479.1 873.3,483 873.6,483 873.9,485.2 874.2,486.8 874.5,488.3 874.8,488.7 875.1,490.2 875.4,491.7 875.7,493.9 876,494.7 876.3,496.2 876.6,497.4 876.9,498.4 877.2,500.2 877.5,500.4 877.8,502.4 878.1,503.5 878.4,504.7 878.7,504.8 879,505 879.3,506 879.6,506.7 879.9,508.4 880.2,506.9 880.5,509 880.8,510.2 881.1,510.1 881.4,511.4 881.7,511.9 882,513.2 882.3,514.3 882.6,514.7 882.9,514.7 883.2,515.8 883.5,516.4 883.8,514.7 884.1,517.3 884.4,518 884.7,518.8 885,519.2 885.3,518.1 885.6,518.9 885.9,518.4 886.2,518.7 886.5,519.7 886.8,519.5 887.1,519.2 887.4,519.7 887.7,519 888,519.5 888.3,517.4 888.6,517.5 888.9,516.4 889.2,514.6 889.5,513.4 889.8,511.8 890.1,509 890.4,509.5 890.7,507.3 891,506.6 891.3,503.9 891.6,503.3 891.9,503.2 892.2,501.4 892.5,499.3 892.8,500 893.1,498.7 893.4,496.7 893.7,497 894,495.9 894.3,493.2 894.3,507.1 894,507.6 893.7,509.2 893.4,508.9 893.1,509.5 892.8,510.3 892.5,511.4 892.2,514 891.9,513.1 891.6,513.5 891.3,514.3 891,515.9 890.7,516.4 890.4,516.9 890.1,519.4 889.8,519.7 889.5,520.4 889.2,521.1 888.9,522.4 888.6,523.8 888.3,526.3 888,526.4 887.7,526.5 887.4,526 887.1,527.3 886.8,527.7 886.5,525.3 886.2,525.4 885.9,526.3 885.6,524.9 885.3,525.2 885,524.3 884.7,525.4 884.4,524.2 884.1,523.8 883.8,523.2 883.5,521.7 883.2,521.3 882.9,520.6 882.6,520.4 882.3,520.9 882,519.3 881.7,518.1 881.4,517.7 881.1,517.2 880.8,515.7 880.5,515.9 880.2,515 879.9,513.5 879.6,513.9 879.3,513.9 879,511.1 878.7,511.8 878.4,510.1 878.1,509.6 877.8,508 877.5,507.4 877.2,506.1 876.9,504.4 876.6,503.5 876.3,501.5 876,500.2 875.7,499.1 875.4,499.3 875.1,496.4 874.8,495.5 874.5,493.5 874.2,493.8 873.9,491.2 873.6,489.9 873.3,488.9 873,486.7 872.7,486 872.4,484.4 872.1,483.3 871.8,481.4 871.5,479.6 871.2,478.9 870.9,479.4 870.6,475.8 870.3,474.8 870,472.9 869.7,473.1 869.4,472.4 869.1,470.8 868.8,468.5 868.5,468.1 868.2,468.5 867.9,468.8 867.6,470.7 867.3,471.5 867,473.9 866.7,477.1 866.4,480.8 866.1,485.2 865.8,491.1 865.5,495.1 865.2,500 864.9,504.3 864.6,508.4 864.3,515 864,517.2 863.7,520.7 863.4,524.2 863.1,526.6 862.8,531.2 862.5,531.2 862.2,532.4 861.9,531.4 861.6,532.1 861.3,533 861,531.8 860.7,531.6 860.4,532 860.1,531.2 859.8,531.9 859.5,531.3 859.2,530.8 858.9,531.1 858.6,530.2 858.3,529.6 858,529.3 857.7,530 857.4,528.5 857.1,528.9 856.8,527.4 856.5,527 856.2,527 855.9,526.3 855.6,526.3 855.3,524.3 855,523.8 854.7,524.3 854.4,525.1 854.1,523.5 853.8,523.4" fill="#0a0a9c" opacity="0.45"/>
<polyline points="853.8,519.9 854.1,520.6 854.4,519 854.7,522.1 855,522.6 855.3,522.4 855.6,521.6 855.9,524.4 856.2,525.6 856.5,525 856.8,526.3 857.1,524.8 857.4,526.2 857.7,527 858,527.1 858.3,530.9 858.6,528.1 858.9,527.2 859.2,529.3 859.5,527.1 859.8,529.3 860.1,530.1 860.4,528.7 860.7,529.1 861,528.3 861.3,529.7 861.6,528.5 861.9,531.5 862.2,530 862.5,528 862.8,524.8 863.1,527 863.4,523 863.7,518.2 864,514.1 864.3,510.2 864.6,505.4 864.9,504.2 865.2,497.6 865.5,490.8 865.8,487 866.1,479.7 866.4,479.5 866.7,475.9 867,474.1 867.3,472.1 867.6,466.6 867.9,466.9 868.2,467 868.5,466.6 868.8,465.4 869.1,468.1 869.4,468.9 869.7,471.2 870,470.6 870.3,471.5 870.6,472.4 870.9,473.9 871.2,474.7 871.5,476.6 871.8,479.1 872.1,480.5 872.4,483 872.7,484.1 873,484.9 873.3,484 873.6,487.6 873.9,489.7 874.2,487.9 874.5,489.5 874.8,491.1 875.1,492.3 875.4,494.6 875.7,495.1 876,498.2 876.3,497.5 876.6,500.2 876.9,501.1 877.2,501.8 877.5,505.7 877.8,505.5 878.1,507.1 878.4,506.8 878.7,508.9 879,509.6 879.3,509.3 879.6,508 879.9,512.1 880.2,512.7 880.5,512.8 880.8,513.6 881.1,514.2 881.4,515 881.7,514.1 882,516.1 882.3,517.2 882.6,516.6 882.9,516.7 883.2,521 883.5,520 883.8,519.4 884.1,519.7 884.4,517.5 884.7,519.5 885,521.5 885.3,523.8 885.6,519.6 885.9,521.6 886.2,525.2 886.5,523.8 886.8,523.6 887.1,524.9 887.4,523.2 887.7,522.8 888,523.4 888.3,522.8 888.6,519.2 888.9,521.4 889.2,515.9 889.5,516.1 889.8,519.8 890.1,513.9 890.4,514.2 890.7,510.9 891,510.6 891.3,508.9 891.6,508.2 891.9,508.5 892.2,509 892.5,507 892.8,507 893.1,503.5 893.4,505.2 893.7,503.2 894,503.6 894.3,500.7" fill="none" stroke="#0a0a9c" stroke-width="1.5" stroke-linejoin="round"/>
<polyline points="861.8,524 862.1,523.7 862.4,522.6 862.7,522.5 863,523.9 863.3,522.4 863.6,523.8 863.9,524.3 864.2,522.7 864.5,524.1 864.8,523.7 865.1,524 865.4,523.2 865.7,523.6 866,523.9 866.3,524.9 866.6,524.2 866.9,524 867.2,522.7 867.5,523.9 867.8,523.2 868.1,523.6 868.4,523.8 868.7,524.3 869,524.1 869.3,523.8 869.6,523.6 869.9,524.6 870.2,523 870.5,523.7 870.8,524.6 871.1,523.5 871.4,524.3 871.7,524.3 872,525.1 872.3,524.5 872.6,522.5 872.9,523.7 873.2,523.9 873.5,524.2 873.8,523.9 874.1,525 874.4,524.4 874.7,522.8 875,523.2 875.3,522.2 875.6,524.9 875.9,523.6 876.2,523.5 876.5,522.5 876.8,523.3 877.1,523.9 877.4,523.3 877.7,523.3 878,523.2 878.3,525 878.6,523.2 878.9,522.6 879.2,523.2 879.5,523.3 879.8,523.5 880.1,523.4 880.4,522.8 880.7,523.4 881,523.8 881.3,522.6 881.6,525 881.9,524.8 882.2,522.3 882.5,523.3 882.8,524.3 883.1,524.5 883.4,524.8 883.7,522.3 884,522.8 884.3,523.2 884.6,524 884.9,522.8 885.2,523.9 885.5,523.9 885.8,524.1 886.1,522.7 886.4,523.7 886.7,523.6 887,523.3 887.3,524.5 887.6,523.4 887.9,524.6 888.2,523.2 888.5,524.8 888.8,524.8 889.1,523 889.4,523.8 889.7,523.8 890,522.9 890.3,524.2 890.6,524 890.9,523 891.2,523.7 891.5,524.3 891.8,523.5 892.1,523.1 892.4,524.8 892.7,522.9 893,523.9 893.3,524.4 893.6,524.2 893.9,522.3 894.2,523.4 894.5,523.6 894.8,523.5" fill="none" stroke="#000" stroke-width="1.4" stroke-linejoin="round"/>
<polygon points="919.6,519.5 919.9,521.5 920.2,521.1 920.5,520.4 920.8,520.5 921.1,521.8 921.4,521.2 921.7,521.1 922,520.3 922.3,522 922.6,522 922.9,521.5 923.2,521.5 923.5,522.1 923.8,522 924.1,520.7 924.4,522.8 924.7,522.7 925,522.5 925.3,523.8 925.6,524.1 925.9,522.8 926.2,524.2 926.5,524.4 926.8,524 927.1,522.8 927.4,521.6 927.7,522.4 928,520.8 928.3,519.6 928.6,518.4 928.9,514.3 929.2,510.7 929.5,506.4 929.8,501.6 930.1,496 930.4,492.3 930.7,486.5 931,478.2 931.3,473 931.6,463.5 931.9,457.7 932.2,450.1 932.5,443.2 932.8,438.2 933.1,434.4 933.4,430.1 933.7,426.5 934,423.2 934.3,420.1 934.6,417.5 934.9,416.7 935.2,418 935.5,419.2 935.8,420.8 936.1,423.3 936.4,425.3 936.7,427.2 937,430.1 937.3,431.3 937.6,435.7 937.9,438.6 938.2,441.8 938.5,445.3 938.8,449.1 939.1,451.3 939.4,455.2 939.7,457.8 940,459.8 940.3,463 940.6,465.2 940.9,466.9 941.2,470.2 941.5,471.3 941.8,474.6 942.1,476.7 942.4,480.1 942.7,482 943,484.5 943.3,486.9 943.6,488.2 943.9,489.6 944.2,492.1 944.5,493.2 944.8,494.3 945.1,495.1 945.4,496.3 945.7,494.6 946,497.5 946.3,498 946.6,499.4 946.9,500.3 947.2,500.9 947.5,499.9 947.8,503.1 948.1,502.2 948.4,503.4 948.7,503.9 949,504.8 949.3,504.9 949.6,504.3 949.9,505.2 950.2,505.9 950.5,505.2 950.8,506 951.1,505.9 951.4,505.7 951.7,507.4 952,507.9 952.3,506.9 952.6,507.3 952.9,507.5 953.2,508.6 953.5,508.9 953.8,507.4 954.1,507.3 954.4,509.1 954.7,509.5 955,510 955.3,510.1 955.6,508.3 955.9,509.3 956.2,510.5 956.5,508.4 956.8,509.1 957.1,510 957.4,509.8 957.7,509.9 958,509.9 958.3,509.4 958.6,509.5 958.9,509.6 959.2,508.8 959.5,508.3 959.8,509.4 960.1,509.2 960.4,508.8 960.4,523.1 960.1,522.1 959.8,522.6 959.5,522.3 959.2,522.7 958.9,523.5 958.6,522.6 958.3,522.8 958,522.8 957.7,522.8 957.4,523.9 957.1,525.1 956.8,523.6 956.5,522.6 956.2,524 955.9,524.6 955.6,523.2 955.3,523 955,523.1 954.7,522.3 954.4,522.2 954.1,521.9 953.8,522 953.5,521.3 953.2,522 952.9,522.7 952.6,521.8 952.3,521.1 952,521.3 951.7,520.5 951.4,522.3 951.1,519.3 950.8,519.3 950.5,518.1 950.2,517.2 949.9,516.5 949.6,516 949.3,515.8 949,515.6 948.7,514.9 948.4,515 948.1,513.9 947.8,514.7 947.5,511.9 947.2,510.7 946.9,509.6 946.6,508.3 946.3,508.9 946,506.2 945.7,504.8 945.4,504.3 945.1,502.9 944.8,501.3 944.5,501.5 944.2,501.2 943.9,498.8 943.6,496.7 943.3,496.3 943,494.2 942.7,492.7 942.4,489.5 942.1,488.6 941.8,485 941.5,484 941.2,480.9 940.9,478.9 940.6,477.2 940.3,475.6 940,472.9 939.7,472.6 939.4,468.6 939.1,466.1 938.8,462.8 938.5,459.8 938.2,457.6 937.9,454.7 937.6,451.3 937.3,449.2 937,445.5 936.7,443.4 936.4,442.3 936.1,440.2 935.8,439.7 935.5,439.5 935.2,437 934.9,436.8 934.6,437.3 934.3,439.4 934,437.9 933.7,439.8 933.4,442.4 933.1,446.2 932.8,447.9 932.5,453.5 932.2,459 931.9,464.7 931.6,472.7 931.3,480.2 931,487.3 930.7,493.4 930.4,499.7 930.1,504.6 929.8,509.1 929.5,513.7 929.2,518.2 928.9,521.8 928.6,525.8 928.3,526.5 928,528.1 927.7,528.9 927.4,528.9 927.1,530 926.8,531.1 926.5,530.6 926.2,530.8 925.9,531.2 925.6,529.3 925.3,529.5 925,529 924.7,529.3 924.4,528.8 924.1,528 923.8,527.3 923.5,527.7 923.2,528.9 922.9,527.5 922.6,526.8 922.3,527.6 922,527.5 921.7,527.3 921.4,527.2 921.1,526.5 920.8,526.1 920.5,527.5 920.2,527.9 919.9,526.1 919.6,526.1" fill="#6478f8" opacity="0.45"/>
<polyline points="919.6,524.5 919.9,524.4 920.2,524 920.5,524.2 920.8,525.3 921.1,525.7 921.4,521.6 921.7,527.1 922,523.5 922.3,525.4 922.6,522.3 922.9,523.8 923.2,522.9 923.5,526.2 923.8,526.1 924.1,525.2 924.4,525.3 924.7,526.3 925,524.8 925.3,525.6 925.6,525.7 925.9,528.1 926.2,527.2 926.5,525.5 926.8,527.4 927.1,527.3 927.4,527.9 927.7,524.7 928,525.4 928.3,526.2 928.6,520.9 928.9,517.9 929.2,515.4 929.5,509.5 929.8,505.7 930.1,500.3 930.4,494.6 930.7,490.9 931,482.8 931.3,474.8 931.6,468.3 931.9,461 932.2,454.7 932.5,449.6 932.8,445.7 933.1,437.6 933.4,435.7 933.7,430.8 934,430.7 934.3,429 934.6,426.3 934.9,425.6 935.2,426 935.5,426.7 935.8,430.9 936.1,434 936.4,431.8 936.7,437.6 937,437.7 937.3,438.8 937.6,444.4 937.9,447.6 938.2,450.1 938.5,452.3 938.8,457.8 939.1,458.2 939.4,462.2 939.7,464.9 940,465.3 940.3,466.4 940.6,468.8 940.9,472.8 941.2,476.1 941.5,475.5 941.8,479.1 942.1,484.4 942.4,482.2 942.7,487.4 943,489.5 943.3,492.1 943.6,490.9 943.9,494.8 944.2,493.8 944.5,498.5 944.8,496.6 945.1,499.3 945.4,498.8 945.7,501.1 946,499.9 946.3,503.4 946.6,504.9 946.9,505.1 947.2,508.2 947.5,507.4 947.8,508.7 948.1,508.9 948.4,511.2 948.7,508.4 949,509.3 949.3,509.8 949.6,511.4 949.9,511.4 950.2,512.6 950.5,512.3 950.8,511.7 951.1,512.7 951.4,513.8 951.7,510.5 952,515.7 952.3,513.4 952.6,513.9 952.9,514.9 953.2,514.5 953.5,513.1 953.8,515 954.1,517.3 954.4,517.1 954.7,517.6 955,515.4 955.3,516.1 955.6,517.8 955.9,518.5 956.2,516.6 956.5,515.2 956.8,513.8 957.1,518.2 957.4,514.3 957.7,516.8 958,517.4 958.3,520.4 958.6,516.3 958.9,515.9 959.2,516.6 959.5,516.6 959.8,517.6 960.1,516.7 960.4,514.7" fill="none" stroke="#6478f8" stroke-width="1.5" stroke-linejoin="round"/>
<polyline points="927.6,522.3 927.9,523.7 928.2,523.6 928.5,524.2 928.8,523.2 929.1,524.6 929.4,523.7 929.7,524.8 930,523.4 930.3,524.7 930.6,523.6 930.9,523.8 931.2,524.3 931.5,522.4 931.8,522.9 932.1,525 932.4,522.6 932.7,523.3 933,524 933.3,524.7 933.6,523.3 933.9,523.7 934.2,522.8 934.5,523.4 934.8,524.4 935.1,523.9 935.4,523.6 935.7,524 936,523.8 936.3,523.8 936.6,523.4 936.9,522.9 937.2,524.1 937.5,522.8 937.8,524.4 938.1,525.2 938.4,524.8 938.7,525.3 939,522.9 939.3,523.8 939.6,523.1 939.9,523.1 940.2,522.4 940.5,522.8 940.8,524.3 941.1,524.2 941.4,524.5 941.7,524.5 942,524.2 942.3,523.1 942.6,523.6 942.9,524.2 943.2,524.6 943.5,523.4 943.8,523.3 944.1,523.4 944.4,524.8 944.7,524.1 945,523.5 945.3,523.1 945.6,524 945.9,522.5 946.2,523.5 946.5,523.3 946.8,523.3 947.1,523.8 947.4,524 947.7,525.9 948,523.8 948.3,524.2 948.6,523.1 948.9,522.5 949.2,524.5 949.5,525.1 949.8,523 950.1,523.7 950.4,524.5 950.7,523.8 951,522 951.3,524.4 951.6,523.6 951.9,524.2 952.2,523 952.5,524.3 952.8,524.5 953.1,523.2 953.4,524.1 953.7,523.3 954,523.3 954.3,523.1 954.6,523.4 954.9,523.2 955.2,524.6 955.5,523.5 955.8,522.9 956.1,524.7 956.4,524.1 956.7,524.4 957,523.7 957.3,524.2 957.6,523.6 957.9,523 958.2,523.8 958.5,523.8 958.8,523.8 959.1,524.3 959.4,522.5 959.7,523.9 960,523.1 960.3,523.5 960.6,524" fill="none" stroke="#000" stroke-width="1.4" stroke-linejoin="round"/>
<text x="601.2" y="426.9" font-size="21.5" fill="#0a9a0a">G-Flamp1</text>
<text x="625.9" y="486.4" font-size="21">GFP</text>
<line x1="650.6" y1="442.4" x2="606.6" y2="497.1" stroke="#0a9a0a" stroke-width="2.4" stroke-dasharray="10 5"/>
<line x1="634.5" y1="488.5" x2="606.6" y2="523.9" stroke="#000" stroke-width="2.4" stroke-dasharray="10 5"/>
<text x="514.7" y="612.5" font-size="26.5" font-weight="bold">e2</text>
<rect x="603.7" y="639.8" width="2.4" height="178" fill="#dcdcdc"/>
<rect x="604" y="819" width="1.8" height="1.2" fill="#222"/>
<rect x="669.5" y="639.8" width="2.4" height="178" fill="#dcdcdc"/>
<rect x="669.8" y="819" width="1.8" height="1.2" fill="#222"/>
<rect x="735.2" y="639.8" width="2.4" height="178" fill="#dcdcdc"/>
<rect x="735.5" y="819" width="1.8" height="1.2" fill="#222"/>
<rect x="801.3" y="639.8" width="2.4" height="178" fill="#dcdcdc"/>
<rect x="801.6" y="819" width="1.8" height="1.2" fill="#222"/>
<rect x="867.1" y="639.8" width="2.4" height="178" fill="#dcdcdc"/>
<rect x="867.4" y="819" width="1.8" height="1.2" fill="#222"/>
<rect x="933.5" y="639.8" width="2.4" height="178" fill="#dcdcdc"/>
<rect x="933.8" y="819" width="1.8" height="1.2" fill="#222"/>
<line x1="590.3" y1="791.6" x2="962" y2="791.6" stroke="#c8c8c8" stroke-width="1.2" stroke-dasharray="5 5"/>
<polyline points="545.5,752.3 545.5,791.5 585.7,791.5" fill="none" stroke="#222" stroke-width="1.3"/>
<text x="550.2" y="810.2" font-size="18">15 s</text>
<text x="533.4" y="816.7" font-size="18" transform="rotate(-90 533.4 816.7)">50% ΔF/F<tspan font-size="11" dy="4">0</tspan></text>
<text x="582.9" y="849.4" font-size="24.6">0.5 s Shock</text>
<polygon points="590.3,789.6 590.6,789.1 590.9,789.1 591.2,789.8 591.5,789.6 591.8,789.9 592.1,789.2 592.4,790.8 592.7,789.6 593,789.1 593.3,789.5 593.6,788.8 593.9,787.4 594.2,787.4 594.5,784.4 594.8,784.4 595.1,783 595.4,780.6 595.7,780.1 596,779.7 596.3,779.1 596.6,778.9 596.9,778.7 597.2,780 597.5,779.9 597.8,781 598.1,781.4 598.4,781.9 598.7,783.5 599,783.7 599.3,784.5 599.6,784.2 599.9,784.7 600.2,786.5 600.5,787.3 600.8,788.2 601.1,788.5 601.4,788.3 601.7,790.9 602,791.9 602.3,792.4 602.6,793.7 602.9,794.1 603.2,794.3 603.5,792.2 603.8,790.2 604.1,787.4 604.4,780.2 604.7,769.5 605,759.8 605.3,747.5 605.6,732.6 605.9,717.2 606.2,702.1 606.5,688.5 606.8,674.1 607.1,662.5 607.4,655.2 607.7,652.3 608,655.6 608.3,658.6 608.6,664.2 608.9,669.7 609.2,677.2 609.5,683.1 609.8,692.8 610.1,702.4 610.4,709.9 610.7,717.6 611,724.8 611.3,731.2 611.6,737.2 611.9,743.2 612.2,746.6 612.5,751.6 612.8,757.4 613.1,762.8 613.4,767 613.7,772.9 614,777.3 614.3,780.2 614.6,784 614.9,786.4 615.2,785.5 615.5,789.7 615.8,790.4 616.1,791.8 616.4,794.1 616.7,794.1 617,794 617.3,796.6 617.6,796.5 617.9,795.5 618.2,797 618.5,797.2 618.8,798 619.1,796.9 619.4,797.3 619.7,796.9 620,796.5 620.3,796.4 620.6,796.3 620.9,795.7 621.2,796 621.5,794.5 621.8,795.1 622.1,794.6 622.4,794.8 622.7,793.5 623,793.8 623.3,793.7 623.6,794 623.9,793 624.2,792.1 624.5,793.4 624.8,793 625.1,792.8 625.4,792.6 625.7,792.4 626,792.2 626.3,791.5 626.6,791.4 626.9,791 627.2,791.6 627.5,792 627.8,792.3 628.1,791.9 628.4,792.1 628.7,791.9 629,791.3 629.3,791.7 629.6,790.8 629.9,791.4 630.2,792.5 630.5,791.9 630.8,791.3 631.1,790.9 631.1,809.5 630.8,809.3 630.5,808.9 630.2,809 629.9,809.2 629.6,809.2 629.3,809.7 629,810.5 628.7,810.3 628.4,809.2 628.1,810.4 627.8,809.9 627.5,809.2 627.2,809.5 626.9,808.9 626.6,809.6 626.3,810.6 626,809.6 625.7,810.4 625.4,810.4 625.1,810.6 624.8,811 624.5,811.5 624.2,811 623.9,812.5 623.6,811.5 623.3,812.2 623,812 622.7,812.4 622.4,813 622.1,812.7 621.8,812.9 621.5,813.5 621.2,814 620.9,814.5 620.6,815.4 620.3,814.3 620,814.9 619.7,815.7 619.4,816.6 619.1,815.9 618.8,816.2 618.5,818.5 618.2,818.2 617.9,815.6 617.6,815.3 617.3,815 617,814.5 616.7,813.8 616.4,812.6 616.1,811.5 615.8,809.8 615.5,808.1 615.2,805.9 614.9,804.4 614.6,801.9 614.3,798.9 614,795.5 613.7,790.8 613.4,785.2 613.1,780.3 612.8,776.6 612.5,771.2 612.2,765.4 611.9,761.4 611.6,754.7 611.3,748.5 611,743 610.7,735.4 610.4,728.4 610.1,721.9 609.8,716.5 609.5,710.8 609.2,708.7 608.9,704 608.6,702.9 608.3,700.8 608,699.5 607.7,701.3 607.4,706.9 607.1,711.4 606.8,717.2 606.5,724.2 606.2,733.1 605.9,740.3 605.6,749.5 605.3,759.8 605,771.2 604.7,782.5 604.4,792 604.1,799.7 603.8,803.4 603.5,806.2 603.2,804.6 602.9,805.3 602.6,804.2 602.3,803.3 602,803.1 601.7,802 601.4,801.2 601.1,799.5 600.8,800.4 600.5,798.5 600.2,796.9 599.9,796.7 599.6,795.5 599.3,794.9 599,794.2 598.7,792.8 598.4,793.2 598.1,792.3 597.8,791.6 597.5,791.3 597.2,789.7 596.9,789.2 596.6,788.3 596.3,789 596,789.5 595.7,790.2 595.4,791.6 595.1,793.1 594.8,793.5 594.5,795 594.2,796.3 593.9,797.7 593.6,800.5 593.3,799 593,799.4 592.7,799.4 592.4,800.4 592.1,800 591.8,799 591.5,798.6 591.2,798.4 590.9,798.4 590.6,798 590.3,798.4" fill="#8b1616" opacity="0.45"/>
<polyline points="590.3,792.8 590.6,792.3 590.9,793.7 591.2,794.7 591.5,795.8 591.8,794.7 592.1,794.1 592.4,794.1 592.7,796.1 593,797.1 593.3,795 593.6,792.5 593.9,791.9 594.2,793.6 594.5,790.6 594.8,787 595.1,787.7 595.4,785.1 595.7,784.4 596,783.7 596.3,782.9 596.6,784.4 596.9,783.9 597.2,784 597.5,785.9 597.8,787.1 598.1,784.8 598.4,787.2 598.7,787 599,788.7 599.3,788.1 599.6,790.5 599.9,791.2 600.2,791.7 600.5,791.6 600.8,793.2 601.1,793.2 601.4,793.7 601.7,796.5 602,795.7 602.3,799.3 602.6,799.5 602.9,796.8 603.2,799.6 603.5,797.5 603.8,797.2 604.1,792.9 604.4,783.7 604.7,776.7 605,765.4 605.3,754.2 605.6,739.4 605.9,729.8 606.2,716.2 606.5,706.1 606.8,694.7 607.1,688.6 607.4,681.5 607.7,680.6 608,678.2 608.3,680.9 608.6,684.4 608.9,686.7 609.2,692.2 609.5,699.6 609.8,703.9 610.1,711.8 610.4,719.1 610.7,727.3 611,733.2 611.3,739.9 611.6,746.4 611.9,751.7 612.2,755.6 612.5,762.7 612.8,765 613.1,770.2 613.4,775.1 613.7,782.8 614,785.5 614.3,788.5 614.6,791.4 614.9,795.7 615.2,795.7 615.5,797.3 615.8,801.3 616.1,800.6 616.4,802.9 616.7,804.2 617,804.5 617.3,805.5 617.6,807.8 617.9,806.1 618.2,805.5 618.5,804.9 618.8,806.8 619.1,806.4 619.4,806.8 619.7,805.6 620,805.3 620.3,804.7 620.6,804.7 620.9,805.2 621.2,804.2 621.5,804.5 621.8,806.4 622.1,804.4 622.4,801.7 622.7,805.4 623,803.5 623.3,801.7 623.6,803.7 623.9,802.4 624.2,801.4 624.5,801.2 624.8,800.5 625.1,801.6 625.4,802.6 625.7,800.7 626,801.4 626.3,803 626.6,799.2 626.9,800.9 627.2,800.2 627.5,799.3 627.8,799.4 628.1,800.6 628.4,801.1 628.7,800 629,800.7 629.3,801.5 629.6,801 629.9,801.6 630.2,801.2 630.5,801.2 630.8,802.8 631.1,801.3" fill="none" stroke="#8b1616" stroke-width="1.5" stroke-linejoin="round"/>
<polyline points="590.3,792.2 590.6,791.7 590.9,791.3 591.2,791.5 591.5,792.3 591.8,792.5 592.1,791.4 592.4,791.3 592.7,792.3 593,792 593.3,792 593.6,790.8 593.9,791.4 594.2,791.3 594.5,791.7 594.8,790.6 595.1,792.4 595.4,791.8 595.7,791.9 596,790.9 596.3,791.6 596.6,792.4 596.9,790.7 597.2,791.8 597.5,792 597.8,791.2 598.1,792.1 598.4,791.4 598.7,792.3 599,791.9 599.3,791.7 599.6,792.8 599.9,792.1 600.2,792.4 600.5,790.9 600.8,791.2 601.1,792.1 601.4,792.1 601.7,791.6 602,792.1 602.3,791 602.6,791.7 602.9,790.9 603.2,791.8 603.5,791.3 603.8,791.2 604.1,791.7 604.4,792.8 604.7,791.1 605,791.5 605.3,792.6 605.6,791.8 605.9,793.2 606.2,792.4 606.5,792.4 606.8,792.7 607.1,793.6 607.4,793.1 607.7,793.2 608,793.2 608.3,792.3 608.6,792.9 608.9,794.6 609.2,794.4 609.5,794.4 609.8,794.6 610.1,794 610.4,794.5 610.7,793.6 611,794.1 611.3,793.2 611.6,793.2 611.9,793.3 612.2,792.5 612.5,792.8 612.8,792.4 613.1,792.1 613.4,792.5 613.7,790.8 614,790.6 614.3,792 614.6,792.2 614.9,792.8 615.2,792.1 615.5,792.1 615.8,791.1 616.1,792.1 616.4,792 616.7,791 617,791.1 617.3,791.5 617.6,791.8 617.9,789.8 618.2,791.6 618.5,791.7 618.8,791.5 619.1,791.8 619.4,791.9 619.7,791 620,791.8 620.3,791.4 620.6,791 620.9,791.7 621.2,792.5 621.5,790.7 621.8,790.6 622.1,790.6 622.4,792.8 622.7,791.4 623,791.6 623.3,791.1 623.6,791 623.9,790.4 624.2,791.7 624.5,791.8 624.8,790.4 625.1,791 625.4,791.2 625.7,791.6 626,791.7 626.3,792.3 626.6,792.4 626.9,792.2 627.2,792.4 627.5,790.9 627.8,791.3 628.1,792.3 628.4,791.8 628.7,791.6 629,790.4 629.3,790.5 629.6,792 629.9,791.8 630.2,791.4 630.5,791.4 630.8,790.6 631.1,791.8" fill="none" stroke="#000" stroke-width="1.4" stroke-linejoin="round"/>
<polygon points="656.1,790.7 656.4,791.2 656.7,790.3 657,789.6 657.3,789.3 657.6,790.4 657.9,789.3 658.2,790.5 658.5,790.2 658.8,789.7 659.1,789.7 659.4,788.5 659.7,787.8 660,786 660.3,784 660.6,782.8 660.9,782.3 661.2,780.9 661.5,782 661.8,782.3 662.1,782.8 662.4,782.6 662.7,782.9 663,783.9 663.3,784.3 663.6,785.6 663.9,785.8 664.2,786.7 664.5,786.4 664.8,787 665.1,786.8 665.4,787.3 665.7,788.6 666,787.9 666.3,788.9 666.6,789.6 666.9,790 667.2,788.8 667.5,789.9 667.8,789.9 668.1,790 668.4,789.7 668.7,790.9 669,790.4 669.3,791.2 669.6,790.1 669.9,789 670.2,784.8 670.5,781.7 670.8,775.5 671.1,769.9 671.4,763.2 671.7,757.1 672,750.2 672.3,742.8 672.6,738 672.9,731.7 673.2,725.6 673.5,720.5 673.8,716.9 674.1,715.3 674.4,716.5 674.7,718.5 675,722.3 675.3,726.1 675.6,729 675.9,732.9 676.2,736.8 676.5,739.2 676.8,744.3 677.1,748.6 677.4,752.1 677.7,756.4 678,759.7 678.3,763.5 678.6,766.5 678.9,768.3 679.2,772.6 679.5,774.5 679.8,777.2 680.1,779.5 680.4,780.6 680.7,783 681,784.9 681.3,787.6 681.6,788.5 681.9,791 682.2,792.9 682.5,793.9 682.8,794.7 683.1,794.9 683.4,794.2 683.7,796.8 684,797.2 684.3,798.8 684.6,798.7 684.9,799.2 685.2,799.4 685.5,799.4 685.8,799.1 686.1,797.1 686.4,798 686.7,797.7 687,796.3 687.3,796.3 687.6,795.4 687.9,795.2 688.2,795.8 688.5,795.3 688.8,795.1 689.1,794.7 689.4,795.1 689.7,795.2 690,794.1 690.3,794.7 690.6,794.4 690.9,794.2 691.2,793.6 691.5,791.2 691.8,793 692.1,792.9 692.4,792.6 692.7,792.3 693,792.6 693.3,791.8 693.6,792.1 693.9,792.7 694.2,792.3 694.5,791.9 694.8,791.1 695.1,790.9 695.4,789.4 695.7,791.3 696,790.6 696.3,790.9 696.6,790.1 696.9,790.6 696.9,803.3 696.6,804.7 696.3,804.6 696,805 695.7,804.2 695.4,805.2 695.1,805.4 694.8,804.9 694.5,805.8 694.2,806.2 693.9,806.3 693.6,806.1 693.3,807.1 693,806.8 692.7,808.9 692.4,808.1 692.1,808.2 691.8,807.8 691.5,808.2 691.2,808.5 690.9,809.6 690.6,810.2 690.3,809.6 690,809.5 689.7,809.7 689.4,810.6 689.1,811.5 688.8,811.6 688.5,811.2 688.2,811.1 687.9,811.9 687.6,812.7 687.3,814.8 687,813.7 686.7,814.5 686.4,815.5 686.1,815.4 685.8,815.3 685.5,816.7 685.2,816.4 684.9,816.8 684.6,817 684.3,815.3 684,815.5 683.7,814.9 683.4,812 683.1,810.6 682.8,809.7 682.5,808.3 682.2,806.6 681.9,804.6 681.6,802.6 681.3,799.2 681,797 680.7,794.7 680.4,793 680.1,790.4 679.8,786.8 679.5,783.8 679.2,781.7 678.9,777.7 678.6,775.8 678.3,770.8 678,767.6 677.7,765 677.4,762.4 677.1,758.9 676.8,756.6 676.5,752.3 676.2,749.1 675.9,746.8 675.6,743.7 675.3,741.8 675,738.6 674.7,736.1 674.4,733.8 674.1,734.5 673.8,734.7 673.5,736.5 673.2,738.7 672.9,743.8 672.6,747.6 672.3,752.9 672,757.6 671.7,763.6 671.4,769.7 671.1,776.2 670.8,785.4 670.5,788.4 670.2,793 669.9,795.9 669.6,799.2 669.3,798.8 669,798.1 668.7,799.3 668.4,798 668.1,797.3 667.8,799.1 667.5,797.2 667.2,797.6 666.9,796.8 666.6,797.4 666.3,797.1 666,795.4 665.7,795.7 665.4,794.7 665.1,794.5 664.8,794.1 664.5,793.5 664.2,792.9 663.9,792.6 663.6,792.2 663.3,793.1 663,791.2 662.7,792.1 662.4,790.1 662.1,789.4 661.8,790 661.5,788.9 661.2,788.7 660.9,790.7 660.6,790.2 660.3,793 660,793.1 659.7,794.2 659.4,795.9 659.1,796 658.8,796.5 658.5,797 658.2,797.2 657.9,798 657.6,798 657.3,798.8 657,797.7 656.7,798 656.4,798.6 656.1,798" fill="#c81414" opacity="0.45"/>
<polyline points="656.1,795.8 656.4,796.5 656.7,794.5 657,794.1 657.3,792.9 657.6,795.6 657.9,796 658.2,793.2 658.5,794.1 658.8,793.6 659.1,792.2 659.4,789 659.7,790.5 660,790.3 660.3,786.5 660.6,786 660.9,782.2 661.2,787.2 661.5,786.1 661.8,785.8 662.1,785.9 662.4,786 662.7,787.2 663,787.4 663.3,788 663.6,788.7 663.9,789.4 664.2,791.5 664.5,788.4 664.8,790.8 665.1,790.2 665.4,790 665.7,788.9 666,792.9 666.3,791.3 666.6,792 666.9,793.8 667.2,792.2 667.5,793.7 667.8,793.7 668.1,794.9 668.4,795.2 668.7,793.1 669,795.3 669.3,794.2 669.6,794.1 669.9,792.1 670.2,790.3 670.5,783.7 670.8,779.9 671.1,774.5 671.4,766.3 671.7,762.8 672,753.4 672.3,748.7 672.6,742.2 672.9,736.6 673.2,730.7 673.5,727.2 673.8,725.2 674.1,723.4 674.4,726.2 674.7,729.4 675,728.8 675.3,734.6 675.6,736.8 675.9,740 676.2,745.9 676.5,747.8 676.8,750.2 677.1,753.5 677.4,754.2 677.7,761.2 678,762.9 678.3,767.5 678.6,770.8 678.9,775 679.2,779.2 679.5,780.7 679.8,783.5 680.1,784 680.4,787.1 680.7,789.8 681,789.4 681.3,795.9 681.6,794.8 681.9,796.1 682.2,801.4 682.5,803.4 682.8,801.3 683.1,802.5 683.4,808 683.7,805.5 684,804.1 684.3,806.5 684.6,810.1 684.9,808.7 685.2,808.6 685.5,808.8 685.8,807.7 686.1,806.1 686.4,804.1 686.7,806.1 687,803.8 687.3,804.7 687.6,806.4 687.9,804.6 688.2,803.7 688.5,803.4 688.8,804 689.1,804 689.4,801 689.7,802.6 690,804.2 690.3,802.9 690.6,800.8 690.9,800.7 691.2,798.8 691.5,800.1 691.8,802.8 692.1,800.5 692.4,799.3 692.7,799.4 693,799.7 693.3,799.5 693.6,799 693.9,798.2 694.2,799.7 694.5,800.5 694.8,797.8 695.1,797.6 695.4,799.4 695.7,796 696,796.8 696.3,796.8 696.6,797.2 696.9,796.6" fill="none" stroke="#c81414" stroke-width="1.5" stroke-linejoin="round"/>
<polyline points="656.1,791.7 656.4,791.4 656.7,791.2 657,791.6 657.3,791.9 657.6,791.8 657.9,792.4 658.2,792.2 658.5,791.3 658.8,791.2 659.1,792.1 659.4,791.2 659.7,791.7 660,791.9 660.3,792.2 660.6,791.9 660.9,792.5 661.2,791.3 661.5,792 661.8,791.2 662.1,791.7 662.4,791.7 662.7,791.1 663,790.1 663.3,792.2 663.6,791.8 663.9,791.7 664.2,791.2 664.5,791.4 664.8,791.9 665.1,791.6 665.4,792.3 665.7,791.7 666,791.1 666.3,792 666.6,791.2 666.9,791.8 667.2,790.5 667.5,791.4 667.8,792 668.1,791.2 668.4,791.6 668.7,792 669,791.7 669.3,792.7 669.6,791.5 669.9,791.5 670.2,791.6 670.5,790.6 670.8,790.9 671.1,792.3 671.4,791.9 671.7,793 672,792.2 672.3,792.2 672.6,793.1 672.9,792.7 673.2,793.7 673.5,792.3 673.8,793.3 674.1,793.7 674.4,793.8 674.7,794.4 675,794.5 675.3,794.1 675.6,793.9 675.9,794.9 676.2,794.3 676.5,794.7 676.8,794.7 677.1,793.8 677.4,792.8 677.7,792.9 678,793.2 678.3,792.3 678.6,792.9 678.9,792 679.2,791.9 679.5,791.3 679.8,791.6 680.1,792.3 680.4,791.4 680.7,791.5 681,791.2 681.3,792.1 681.6,790.7 681.9,791.3 682.2,792.2 682.5,792.5 682.8,791.5 683.1,792.2 683.4,790.5 683.7,792.1 684,791.8 684.3,790.9 684.6,790.6 684.9,791.3 685.2,791.8 685.5,791.9 685.8,791.7 686.1,792.1 686.4,792.1 686.7,790.8 687,791.4 687.3,791.3 687.6,792.2 687.9,791.3 688.2,792.2 688.5,791.7 688.8,793 689.1,791.6 689.4,791.6 689.7,791.6 690,791.7 690.3,793.1 690.6,791.3 690.9,791.1 691.2,791.5 691.5,792 691.8,791 692.1,792.1 692.4,792.1 692.7,791.5 693,791.5 693.3,791.2 693.6,791.5 693.9,791.1 694.2,792.4 694.5,792.6 694.8,791.5 695.1,791.6 695.4,790.5 695.7,791.3 696,791.8 696.3,791.8 696.6,791.7 696.9,792.1" fill="none" stroke="#000" stroke-width="1.4" stroke-linejoin="round"/>
<polygon points="721.8,788.6 722.1,788.4 722.4,788.8 722.7,788.3 723,789.2 723.3,788.7 723.6,788.9 723.9,789.7 724.2,789.6 724.5,789 724.8,789.7 725.1,788.3 725.4,788.7 725.7,788 726,786.9 726.3,786.1 726.6,784.8 726.9,785 727.2,783.8 727.5,782.3 727.8,783.3 728.1,783.3 728.4,783.8 728.7,784.1 729,784.6 729.3,785.7 729.6,786.4 729.9,786.6 730.2,788.2 730.5,788.3 730.8,788.7 731.1,788.6 731.4,787.1 731.7,787 732,786.6 732.3,785.2 732.6,785.4 732.9,785.3 733.2,784 733.5,784.2 733.8,784.1 734.1,783.6 734.4,784.4 734.7,784.3 735,785 735.3,785.1 735.6,785.1 735.9,783.9 736.2,782.2 736.5,779.4 736.8,775.6 737.1,772.5 737.4,771 737.7,768.8 738,765 738.3,763.6 738.6,763.1 738.9,762.3 739.2,761.2 739.5,759.2 739.8,757.8 740.1,756 740.4,756.3 740.7,757.2 741,756 741.3,755.8 741.6,755.8 741.9,757.1 742.2,756.5 742.5,756.6 742.8,756.3 743.1,757.1 743.4,758.3 743.7,758.1 744,758.5 744.3,758.9 744.6,757.5 744.9,759.4 745.2,759.4 745.5,759.6 745.8,758.8 746.1,759 746.4,759.7 746.7,759.6 747,759.1 747.3,759.4 747.6,760.1 747.9,759.5 748.2,760.7 748.5,760.5 748.8,761.2 749.1,761 749.4,761.6 749.7,760.7 750,761.9 750.3,761.4 750.6,763.2 750.9,762.9 751.2,763.9 751.5,764 751.8,763.4 752.1,765 752.4,764.7 752.7,765.5 753,765.4 753.3,764.1 753.6,765.5 753.9,765.6 754.2,765.2 754.5,766.9 754.8,766.3 755.1,766.3 755.4,767.1 755.7,767.4 756,767.2 756.3,766.9 756.6,768.1 756.9,768.2 757.2,767.6 757.5,768.1 757.8,768.7 758.1,767.5 758.4,767.5 758.7,768.6 759,768.4 759.3,768.3 759.6,768.5 759.9,768.6 760.2,766.3 760.5,768 760.8,768.3 761.1,767.1 761.4,767.7 761.7,766.9 762,768.5 762.3,767.9 762.6,768.1 762.6,794.8 762.3,795.7 762,794.8 761.7,795.3 761.4,794.8 761.1,795.4 760.8,794.6 760.5,795.9 760.2,794.7 759.9,795.1 759.6,795.6 759.3,796.7 759,794.7 758.7,794.8 758.4,794.9 758.1,795.6 757.8,794.9 757.5,795 757.2,795.9 756.9,794.6 756.6,794.5 756.3,793.6 756,793.7 755.7,793.7 755.4,793.3 755.1,793.7 754.8,794.8 754.5,792.7 754.2,793.8 753.9,792.8 753.6,793.3 753.3,793 753,792.8 752.7,791.4 752.4,791.7 752.1,792.4 751.8,789.9 751.5,789.9 751.2,790.5 750.9,789.8 750.6,789.2 750.3,789.1 750,788.1 749.7,788 749.4,787 749.1,787 748.8,786.6 748.5,786.4 748.2,787.4 747.9,785.9 747.6,785.5 747.3,785.9 747,785.9 746.7,786.6 746.4,786.2 746.1,784.6 745.8,785.8 745.5,784.6 745.2,784 744.9,784.4 744.6,784.5 744.3,783.5 744,783.9 743.7,784.9 743.4,783 743.1,782.8 742.8,784.1 742.5,782.2 742.2,781.9 741.9,781.6 741.6,781.7 741.3,781.5 741,781.6 740.7,782.2 740.4,782.1 740.1,783.7 739.8,784.7 739.5,784.3 739.2,783.9 738.9,784.3 738.6,783.8 738.3,785.4 738,785.6 737.7,786.5 737.4,787 737.1,789.1 736.8,790.8 736.5,792.6 736.2,793.8 735.9,794.9 735.6,795.7 735.3,796.9 735,796.5 734.7,795.8 734.4,794.6 734.1,794.5 733.8,795.1 733.5,795.5 733.2,795.1 732.9,795.6 732.6,797.1 732.3,797.1 732,797.5 731.7,799.7 731.4,798.7 731.1,799.1 730.8,800.2 730.5,798.9 730.2,799 729.9,799.1 729.6,798.6 729.3,796.3 729,795.6 728.7,795.1 728.4,794.4 728.1,794.1 727.8,793.7 727.5,794.3 727.2,794.9 726.9,796.3 726.6,796.7 726.3,797.3 726,799.2 725.7,798.2 725.4,800.7 725.1,799.7 724.8,800.9 724.5,800.9 724.2,800.4 723.9,801.3 723.6,800.1 723.3,800.1 723,801.2 722.7,800.7 722.4,799.4 722.1,799.2 721.8,799" fill="#f59c9c" opacity="0.45"/>
<polyline points="721.8,793.9 722.1,793.4 722.4,796 722.7,791.9 723,793.1 723.3,793.8 723.6,794 723.9,794.1 724.2,795 724.5,794.4 724.8,795 725.1,795.3 725.4,794.1 725.7,793.4 726,791.3 726.3,790.3 726.6,790.5 726.9,791.1 727.2,789.7 727.5,790 727.8,789.7 728.1,790 728.4,788 728.7,791.2 729,791.3 729.3,793.6 729.6,792.5 729.9,792.9 730.2,793.1 730.5,793.9 730.8,791.9 731.1,793.5 731.4,793.4 731.7,794 732,791.4 732.3,791.8 732.6,793.2 732.9,789.8 733.2,790.8 733.5,788.8 733.8,789.1 734.1,789.8 734.4,790.6 734.7,789.4 735,789.2 735.3,792.5 735.6,790.6 735.9,790.4 736.2,789.1 736.5,786.9 736.8,783.3 737.1,781.1 737.4,777.2 737.7,777.4 738,775.2 738.3,774.5 738.6,776 738.9,773.9 739.2,772.4 739.5,770 739.8,771.8 740.1,772.1 740.4,768.7 740.7,769.8 741,768.5 741.3,768.9 741.6,768.8 741.9,767.5 742.2,769.1 742.5,768 742.8,771.8 743.1,771.6 743.4,770.6 743.7,771.1 744,771.1 744.3,771.5 744.6,771.7 744.9,771.3 745.2,771.6 745.5,770.4 745.8,770.9 746.1,771.5 746.4,772.7 746.7,772.1 747,775 747.3,772.6 747.6,772.6 747.9,773.7 748.2,774.5 748.5,775.7 748.8,774.9 749.1,773.3 749.4,774.2 749.7,776 750,775.4 750.3,776.4 750.6,775.8 750.9,778.1 751.2,778.3 751.5,778.3 751.8,777.6 752.1,775.9 752.4,776.5 752.7,778.8 753,779.5 753.3,775.5 753.6,778.6 753.9,780.6 754.2,780.6 754.5,779.1 754.8,780.6 755.1,780 755.4,779.9 755.7,781.7 756,781.9 756.3,780.1 756.6,779.8 756.9,779.6 757.2,779.6 757.5,783 757.8,783.7 758.1,781.9 758.4,782.9 758.7,780.8 759,781.6 759.3,782.7 759.6,782 759.9,781.6 760.2,779.7 760.5,779.9 760.8,781.2 761.1,781 761.4,781.6 761.7,780.9 762,781.4 762.3,781.7 762.6,782.2" fill="none" stroke="#f59c9c" stroke-width="1.5" stroke-linejoin="round"/>
<polyline points="721.8,791.9 722.1,791.2 722.4,792.3 722.7,790.3 723,791.7 723.3,791.8 723.6,791.8 723.9,791.6 724.2,792.4 724.5,792.9 724.8,791.2 725.1,790.4 725.4,790.9 725.7,791.1 726,791.5 726.3,791.6 726.6,792.2 726.9,791.3 727.2,791.6 727.5,791.7 727.8,791.1 728.1,791.4 728.4,793.2 728.7,791.5 729,791 729.3,790.3 729.6,792.2 729.9,791.4 730.2,791.2 730.5,793.1 730.8,792.5 731.1,790.6 731.4,791.4 731.7,792.2 732,792.1 732.3,790.9 732.6,792.7 732.9,792.7 733.2,790.9 733.5,790.5 733.8,790.8 734.1,792 734.4,792.2 734.7,791.7 735,791.2 735.3,791.5 735.6,792 735.9,790.9 736.2,790.7 736.5,791.8 736.8,792.7 737.1,792.1 737.4,792.2 737.7,791.8 738,792.9 738.3,791.4 738.6,792.5 738.9,792.3 739.2,792.8 739.5,792.5 739.8,793.7 740.1,793.4 740.4,793.3 740.7,794.2 741,794 741.3,793.9 741.6,793.9 741.9,794.7 742.2,793.6 742.5,793.7 742.8,793.4 743.1,793.5 743.4,792.9 743.7,794 744,791.3 744.3,792.5 744.6,791.9 744.9,792.4 745.2,790.6 745.5,792.3 745.8,790.7 746.1,792 746.4,791.9 746.7,791.6 747,791.1 747.3,791.1 747.6,791.6 747.9,791.1 748.2,790.4 748.5,790.5 748.8,792.1 749.1,792.1 749.4,791.9 749.7,791.6 750,791.8 750.3,791.9 750.6,791.7 750.9,791.1 751.2,791.1 751.5,790.9 751.8,791.7 752.1,791 752.4,791.5 752.7,792.4 753,791.4 753.3,792.2 753.6,792.5 753.9,790.5 754.2,790.7 754.5,791.9 754.8,791.2 755.1,791.9 755.4,792 755.7,791.3 756,792.1 756.3,792.6 756.6,792.2 756.9,791.1 757.2,791.5 757.5,791.3 757.8,792.5 758.1,791.5 758.4,791.2 758.7,791.6 759,791.9 759.3,791.4 759.6,791.7 759.9,791.6 760.2,792 760.5,792.2 760.8,791.8 761.1,791.3 761.4,791.8 761.7,791.1 762,792.3 762.3,791.8 762.6,791.8" fill="none" stroke="#000" stroke-width="1.4" stroke-linejoin="round"/>
<polygon points="787.9,789.4 788.2,788 788.5,788.6 788.8,787.7 789.1,786.6 789.4,787.8 789.7,787.6 790,787.1 790.3,786.3 790.6,784.9 790.9,785.6 791.2,787 791.5,786.9 791.8,787.8 792.1,788.4 792.4,788.2 792.7,790.3 793,790.6 793.3,791.3 793.6,791.1 793.9,792.7 794.2,791.4 794.5,792.4 794.8,792.6 795.1,791.6 795.4,791.4 795.7,791.9 796,790.9 796.3,791.7 796.6,790.4 796.9,791.1 797.2,789.9 797.5,790.2 797.8,789.3 798.1,788.4 798.4,788.5 798.7,787.8 799,787.8 799.3,787.3 799.6,785.4 799.9,785.9 800.2,785 800.5,783.1 800.8,782.3 801.1,778.7 801.4,777.2 801.7,773.6 802,769.7 802.3,765.1 802.6,761.1 802.9,756.8 803.2,749.8 803.5,743.7 803.8,737.6 804.1,729.8 804.4,723.6 804.7,718.2 805,712.6 805.3,710.7 805.6,708.1 805.9,705.3 806.2,706.5 806.5,707 806.8,709 807.1,711.4 807.4,713.1 807.7,714.9 808,717.4 808.3,720.3 808.6,723 808.9,725.5 809.2,728.1 809.5,730.5 809.8,732.8 810.1,734.6 810.4,736.3 810.7,738.5 811,740.7 811.3,742.3 811.6,744.1 811.9,746.9 812.2,745.7 812.5,748 812.8,748.9 813.1,746.9 813.4,748.5 813.7,750 814,750.7 814.3,751 814.6,751.2 814.9,751.1 815.2,750.9 815.5,750.5 815.8,749.2 816.1,748.7 816.4,746 816.7,747.4 817,746.4 817.3,745.6 817.6,744.9 817.9,744.4 818.2,743.9 818.5,743.6 818.8,743.2 819.1,742.1 819.4,741.1 819.7,741.7 820,741.6 820.3,740.2 820.6,739.8 820.9,740.3 821.2,739.8 821.5,739.6 821.8,738.4 822.1,739.2 822.4,737.4 822.7,738.2 823,738.7 823.3,738.9 823.6,739.1 823.9,738.9 824.2,739.6 824.5,740.1 824.8,739.4 825.1,740.3 825.4,740.8 825.7,741.3 826,741.3 826.3,741.8 826.6,741.5 826.9,742.5 827.2,743.4 827.5,744.3 827.8,744.2 828.1,744.3 828.4,742.9 828.7,745 828.7,778.9 828.4,777.9 828.1,777.8 827.8,778.4 827.5,777.4 827.2,777.5 826.9,776.6 826.6,775.8 826.3,776.3 826,775 825.7,774.2 825.4,774.8 825.1,774.1 824.8,773.2 824.5,773.5 824.2,772.9 823.9,773.3 823.6,773.4 823.3,772.8 823,773 822.7,772.8 822.4,773 822.1,773.4 821.8,773.5 821.5,773.6 821.2,773.8 820.9,774.2 820.6,775.8 820.3,774.8 820,775.6 819.7,776.1 819.4,776.6 819.1,777.1 818.8,779.2 818.5,779.5 818.2,778.2 817.9,778.9 817.6,781.4 817.3,779.8 817,779.7 816.7,780.4 816.4,780.9 816.1,780.6 815.8,780.6 815.5,781.4 815.2,780.7 814.9,780.7 814.6,780.6 814.3,779.6 814,778.7 813.7,778.7 813.4,776.5 813.1,777.1 812.8,775 812.5,774.4 812.2,772.5 811.9,772.5 811.6,770.3 811.3,768.6 811,768.7 810.7,766 810.4,764.5 810.1,764.1 809.8,762.3 809.5,759.7 809.2,758.3 808.9,756.4 808.6,754.7 808.3,754.4 808,751.3 807.7,751.7 807.4,747.4 807.1,746 806.8,744 806.5,745.4 806.2,743 805.9,742.7 805.6,742.7 805.3,741 805,741.4 804.7,743.1 804.4,746.3 804.1,751 803.8,752.9 803.5,758 803.2,762.9 802.9,764.2 802.6,768.5 802.3,772.2 802,776.8 801.7,779.8 801.4,784.6 801.1,786 800.8,788.4 800.5,790.6 800.2,791.6 799.9,793 799.6,793.8 799.3,793.6 799,794.8 798.7,795 798.4,796.2 798.1,796.1 797.8,796.1 797.5,798.1 797.2,797 796.9,797.1 796.6,797.4 796.3,797.8 796,797.1 795.7,798.3 795.4,798.1 795.1,798.5 794.8,798.8 794.5,798.5 794.2,797.7 793.9,799.1 793.6,797.9 793.3,796.9 793,795.9 792.7,795.4 792.4,796 792.1,795.1 791.8,793.3 791.5,792.6 791.2,792.9 790.9,792 790.6,792.7 790.3,792.5 790,792 789.7,793.5 789.4,792.3 789.1,793.3 788.8,793.1 788.5,793.5 788.2,794.9 787.9,794.6" fill="#e9bb62" opacity="0.45"/>
<polyline points="787.9,788.5 788.2,794.1 788.5,792.8 788.8,792.2 789.1,790.6 789.4,790.9 789.7,793.3 790,788.7 790.3,790.1 790.6,789.9 790.9,789.4 791.2,790 791.5,788.9 791.8,791.5 792.1,789.9 792.4,794.4 792.7,793.8 793,792.5 793.3,791.8 793.6,794.9 793.9,795.8 794.2,794.2 794.5,797.4 794.8,795.6 795.1,794.5 795.4,793.3 795.7,794.6 796,794.4 796.3,795.3 796.6,795.6 796.9,794.2 797.2,794.6 797.5,795.5 797.8,794.2 798.1,792.7 798.4,793.2 798.7,791.2 799,791.7 799.3,790.5 799.6,788.4 799.9,789.8 800.2,788.4 800.5,788.1 800.8,783.9 801.1,784.5 801.4,781.6 801.7,776.3 802,772.8 802.3,769.2 802.6,765.1 802.9,761.7 803.2,755.1 803.5,749.5 803.8,745.2 804.1,742.4 804.4,734.5 804.7,729.7 805,726.8 805.3,726 805.6,726.1 805.9,723.6 806.2,725 806.5,725.8 806.8,727.4 807.1,728.9 807.4,732.1 807.7,733.8 808,734.4 808.3,740.2 808.6,737.8 808.9,739.9 809.2,744.6 809.5,745.5 809.8,746.7 810.1,749.1 810.4,751.5 810.7,751.9 811,753.5 811.3,754.8 811.6,756.6 811.9,758 812.2,761.5 812.5,761.4 812.8,762.4 813.1,761.8 813.4,764.4 813.7,762 814,765.1 814.3,766.1 814.6,765 814.9,764.7 815.2,766.5 815.5,764.8 815.8,764.1 816.1,764.6 816.4,762.8 816.7,763.5 817,765.6 817.3,762.1 817.6,763.2 817.9,760.4 818.2,761.3 818.5,760.4 818.8,760.1 819.1,760.7 819.4,762 819.7,758.8 820,760 820.3,758.4 820.6,758.5 820.9,756.6 821.2,755.8 821.5,756.1 821.8,755.1 822.1,755.9 822.4,754.6 822.7,755.9 823,756.2 823.3,758.3 823.6,758.3 823.9,756.9 824.2,755.8 824.5,757.3 824.8,757.7 825.1,756.8 825.4,756.4 825.7,755.7 826,758.2 826.3,761 826.6,758.9 826.9,760.1 827.2,760.5 827.5,761.1 827.8,761.9 828.1,759 828.4,761.6 828.7,762.5" fill="none" stroke="#e9bb62" stroke-width="1.5" stroke-linejoin="round"/>
<polyline points="787.9,791.2 788.2,792.6 788.5,791.9 788.8,792 789.1,793.2 789.4,792.8 789.7,791.1 790,792.2 790.3,791.2 790.6,792.3 790.9,790.5 791.2,791.1 791.5,791.1 791.8,792.9 792.1,790.6 792.4,792.3 792.7,792.3 793,791.7 793.3,792.2 793.6,793.2 793.9,791.8 794.2,791.5 794.5,792.5 794.8,792.1 795.1,791 795.4,791.8 795.7,791.8 796,791 796.3,791.1 796.6,791.3 796.9,790.9 797.2,792 797.5,791.8 797.8,790.3 798.1,791.4 798.4,791.7 798.7,790.8 799,791.5 799.3,791.8 799.6,790.6 799.9,791.5 800.2,790.2 800.5,792.1 800.8,791.2 801.1,790.8 801.4,790.5 801.7,790.7 802,792.5 802.3,791.3 802.6,791.5 802.9,791.7 803.2,791.1 803.5,792.6 803.8,790.7 804.1,792.9 804.4,792 804.7,792.6 805,792.9 805.3,793.4 805.6,792.3 805.9,793.6 806.2,793.4 806.5,793.6 806.8,793.7 807.1,794.8 807.4,794.5 807.7,795.1 808,794.8 808.3,792.9 808.6,793.8 808.9,794.2 809.2,792.8 809.5,792 809.8,791.3 810.1,793.6 810.4,791.6 810.7,792 811,791.1 811.3,791.9 811.6,792.6 811.9,790.7 812.2,791.6 812.5,791.1 812.8,790.4 813.1,791 813.4,791.6 813.7,792.4 814,792.4 814.3,791.6 814.6,790.6 814.9,792 815.2,791.6 815.5,791.6 815.8,790.9 816.1,791.5 816.4,792.8 816.7,792.5 817,792.4 817.3,792 817.6,791.4 817.9,791.6 818.2,791.7 818.5,791.8 818.8,791.4 819.1,791.1 819.4,792.3 819.7,791.4 820,792.1 820.3,791.5 820.6,792 820.9,791.9 821.2,792.1 821.5,792 821.8,791 822.1,790.8 822.4,791.6 822.7,792.6 823,791.1 823.3,791 823.6,793 823.9,790.7 824.2,791.3 824.5,791.4 824.8,791.2 825.1,791.2 825.4,792.3 825.7,791.7 826,791.7 826.3,790.6 826.6,792.1 826.9,791.7 827.2,791.7 827.5,792.1 827.8,791.8 828.1,791.6 828.4,791.9 828.7,791.2" fill="none" stroke="#000" stroke-width="1.4" stroke-linejoin="round"/>
<polygon points="853.7,789.1 854,790.5 854.3,789.6 854.6,787.4 854.9,788.3 855.2,787.4 855.5,784.7 855.8,785.3 856.1,784.1 856.4,782.6 856.7,783.2 857,783.1 857.3,783 857.6,784.2 857.9,785.3 858.2,784.2 858.5,786.1 858.8,786.2 859.1,785.6 859.4,787.2 859.7,788.1 860,788.5 860.3,787.3 860.6,789.1 860.9,788.1 861.2,788.5 861.5,790.6 861.8,791.4 862.1,791.3 862.4,790.4 862.7,791.9 863,791.7 863.3,792.7 863.6,791.8 863.9,791.7 864.2,792.4 864.5,791.5 864.8,791.9 865.1,788.7 865.4,790.7 865.7,790.5 866,791.1 866.3,789.8 866.6,790.2 866.9,789.4 867.2,788.8 867.5,786.2 867.8,784.5 868.1,781.3 868.4,776.2 868.7,771.4 869,766.2 869.3,763.1 869.6,759.9 869.9,756.3 870.2,753 870.5,749.4 870.8,745.5 871.1,743.4 871.4,740.9 871.7,740.9 872,741.5 872.3,744.6 872.6,745.5 872.9,748.6 873.2,749 873.5,752.6 873.8,754.4 874.1,755.2 874.4,757.6 874.7,760 875,760.4 875.3,764.2 875.6,764.6 875.9,767.1 876.2,768.5 876.5,770.2 876.8,770.9 877.1,772.6 877.4,774.2 877.7,776.2 878,777.6 878.3,777.3 878.6,778.5 878.9,778.6 879.2,780.4 879.5,781.2 879.8,780.7 880.1,779.4 880.4,781.5 880.7,782.2 881,781.3 881.3,782 881.6,783 881.9,782.7 882.2,783 882.5,783.7 882.8,783.8 883.1,782.5 883.4,782.3 883.7,782.9 884,782.6 884.3,782.9 884.6,782.3 884.9,782.9 885.2,783.6 885.5,783.9 885.8,783.8 886.1,782.9 886.4,782.4 886.7,784.1 887,784 887.3,783.6 887.6,784.1 887.9,783.3 888.2,783.8 888.5,784.2 888.8,784.1 889.1,784.2 889.4,783.4 889.7,784.3 890,783.4 890.3,783.9 890.6,784.4 890.9,783.3 891.2,784.2 891.5,783.6 891.8,783.5 892.1,784.1 892.4,784.4 892.7,784.2 893,783.7 893.3,783.3 893.6,783.7 893.9,783.3 894.2,782.9 894.5,784.5 894.5,800.4 894.2,799.1 893.9,798.8 893.6,798.8 893.3,798.6 893,798.6 892.7,798.2 892.4,798.4 892.1,798 891.8,798.1 891.5,798.3 891.2,798.8 890.9,798.1 890.6,798.7 890.3,798.3 890,797.3 889.7,797.8 889.4,798.2 889.1,797.3 888.8,797.5 888.5,798.2 888.2,796.8 887.9,797.6 887.6,796.9 887.3,798.7 887,796.9 886.7,797.6 886.4,796.6 886.1,797.4 885.8,797.1 885.5,798.5 885.2,796 884.9,796.5 884.6,795.9 884.3,796.7 884,796.1 883.7,797.2 883.4,796.3 883.1,795.3 882.8,796.2 882.5,795.6 882.2,795.7 881.9,796.5 881.6,794.9 881.3,794.8 881,794.6 880.7,794.3 880.4,793.8 880.1,793.6 879.8,792.3 879.5,792.1 879.2,792 878.9,791.6 878.6,790.9 878.3,789.7 878,789.1 877.7,787.6 877.4,785.6 877.1,784.7 876.8,784 876.5,783.3 876.2,782.3 875.9,781.5 875.6,780.6 875.3,778 875,776.4 874.7,775.8 874.4,773.8 874.1,772.1 873.8,770.3 873.5,768.9 873.2,767.9 872.9,766.2 872.6,764.3 872.3,762.5 872,761.3 871.7,760.5 871.4,759 871.1,760.4 870.8,759.4 870.5,763.4 870.2,762.5 869.9,764.7 869.6,768.9 869.3,770.2 869,773.8 868.7,778 868.4,784.1 868.1,789.6 867.8,792.4 867.5,793.5 867.2,796.9 866.9,796.4 866.6,797 866.3,798.3 866,797.5 865.7,797.3 865.4,798.5 865.1,797.5 864.8,798.2 864.5,798 864.2,798.2 863.9,798.7 863.6,798.1 863.3,799 863,798.3 862.7,799.6 862.4,798.4 862.1,797.1 861.8,797.6 861.5,796.1 861.2,795.8 860.9,795.4 860.6,794.8 860.3,797 860,793.8 859.7,794.5 859.4,793.5 859.1,793.2 858.8,792.2 858.5,790.9 858.2,791 857.9,790.8 857.6,789.7 857.3,790.3 857,789.4 856.7,789.3 856.4,790.2 856.1,790.8 855.8,790.5 855.5,791.6 855.2,792 854.9,792.8 854.6,794.1 854.3,794.7 854,796.2 853.7,795.9" fill="#0a0a9c" opacity="0.45"/>
<polyline points="853.7,792 854,791 854.3,793.2 854.6,790.4 854.9,790.6 855.2,791 855.5,791 855.8,787.6 856.1,787.4 856.4,786.8 856.7,784.8 857,785.8 857.3,790 857.6,787 857.9,789.8 858.2,789 858.5,790.8 858.8,790.7 859.1,789.9 859.4,788.6 859.7,792.4 860,792 860.3,792.2 860.6,793.2 860.9,791.6 861.2,793.3 861.5,793.6 861.8,792.3 862.1,793.1 862.4,794.8 862.7,792.5 863,796.3 863.3,796.3 863.6,795.2 863.9,795.5 864.2,792.9 864.5,795.2 864.8,795.8 865.1,795.4 865.4,795.8 865.7,794.3 866,796.5 866.3,794.2 866.6,794.2 866.9,794.1 867.2,791.1 867.5,789 867.8,788.8 868.1,782.8 868.4,779.2 868.7,776.3 869,769.4 869.3,765.6 869.6,761.8 869.9,759 870.2,759.8 870.5,755.5 870.8,753.6 871.1,748.5 871.4,747.3 871.7,749.1 872,752.9 872.3,754.7 872.6,752.6 872.9,754.7 873.2,759.4 873.5,760.7 873.8,762.7 874.1,764.8 874.4,764.5 874.7,767.7 875,769 875.3,772.6 875.6,772.3 875.9,771.9 876.2,777.1 876.5,779 876.8,779.2 877.1,778.8 877.4,779.2 877.7,782.8 878,782.1 878.3,784.5 878.6,785.7 878.9,785.3 879.2,783.6 879.5,787 879.8,785.4 880.1,785.1 880.4,787.2 880.7,787.7 881,787.7 881.3,788.9 881.6,786.1 881.9,789.5 882.2,791 882.5,789.2 882.8,788.8 883.1,789.4 883.4,791.2 883.7,789.5 884,788.8 884.3,787.8 884.6,791.6 884.9,791.7 885.2,790 885.5,792.6 885.8,789.6 886.1,791 886.4,788.6 886.7,789 887,790.3 887.3,790.9 887.6,791.1 887.9,789.3 888.2,789.8 888.5,790.4 888.8,790.2 889.1,790.3 889.4,791.7 889.7,792.2 890,788.5 890.3,792.5 890.6,791.1 890.9,791.3 891.2,791.4 891.5,792.2 891.8,792 892.1,789.3 892.4,792.3 892.7,789.9 893,791.8 893.3,791.6 893.6,789.5 893.9,791.5 894.2,791.2 894.5,790.7" fill="none" stroke="#0a0a9c" stroke-width="1.5" stroke-linejoin="round"/>
<polyline points="853.7,791.1 854,791.3 854.3,791.9 854.6,791 854.9,791.2 855.2,791.7 855.5,791.5 855.8,791.1 856.1,791.3 856.4,791 856.7,792 857,791.8 857.3,792.1 857.6,792.9 857.9,792.3 858.2,791.9 858.5,791.5 858.8,792.9 859.1,791.7 859.4,791.4 859.7,792.4 860,791.8 860.3,791.4 860.6,791.9 860.9,792.8 861.2,791.7 861.5,791.9 861.8,791.1 862.1,791.3 862.4,792.2 862.7,791.6 863,791.7 863.3,792.3 863.6,791.5 863.9,792.6 864.2,791.3 864.5,791.2 864.8,791.2 865.1,790.8 865.4,792 865.7,791.7 866,792.5 866.3,791.2 866.6,792.1 866.9,792.5 867.2,791.5 867.5,791.5 867.8,790.1 868.1,792.8 868.4,791.6 868.7,792.1 869,791.3 869.3,791.7 869.6,790.6 869.9,791.3 870.2,790.3 870.5,789.3 870.8,789 871.1,786.8 871.4,787.2 871.7,786 872,786.4 872.3,785.2 872.6,784.1 872.9,783.6 873.2,785.2 873.5,782.6 873.8,784.2 874.1,783.5 874.4,783.4 874.7,782 875,784.1 875.3,783.9 875.6,784.5 875.9,786.2 876.2,786.2 876.5,787.8 876.8,787.6 877.1,789.4 877.4,789.9 877.7,789.6 878,789.9 878.3,790.2 878.6,790.3 878.9,790.3 879.2,791.8 879.5,791 879.8,790.5 880.1,790.5 880.4,790.3 880.7,790.9 881,790.7 881.3,790.4 881.6,790.4 881.9,790.6 882.2,790.2 882.5,790.9 882.8,790.3 883.1,791.2 883.4,790.7 883.7,791.3 884,790.6 884.3,789.9 884.6,790.2 884.9,790.8 885.2,791.3 885.5,791.3 885.8,791.4 886.1,791.5 886.4,791.3 886.7,791.4 887,791 887.3,791.5 887.6,791.1 887.9,791.2 888.2,791.3 888.5,792.6 888.8,790.4 889.1,791 889.4,791.1 889.7,791.6 890,791.3 890.3,792.3 890.6,790.4 890.9,792.5 891.2,790.7 891.5,791 891.8,791.8 892.1,791.5 892.4,791.5 892.7,791.5 893,791.7 893.3,792.1 893.6,791.8 893.9,790.8 894.2,791.1 894.5,792.4" fill="none" stroke="#000" stroke-width="1.4" stroke-linejoin="round"/>
<polygon points="920.1,787.7 920.4,786.7 920.7,786.2 921,784.9 921.3,783.5 921.6,784.3 921.9,783.5 922.2,782.3 922.5,782 922.8,781.4 923.1,780.9 923.4,781.2 923.7,780.1 924,782 924.3,783.1 924.6,784 924.9,784.2 925.2,784.9 925.5,786.5 925.8,786.8 926.1,786.4 926.4,787.9 926.7,788.7 927,787.7 927.3,788.5 927.6,788.7 927.9,789.7 928.2,789.8 928.5,789.6 928.8,789.8 929.1,790.9 929.4,790.9 929.7,791 930,791.4 930.3,791.3 930.6,791.9 930.9,792.1 931.2,791.2 931.5,791.7 931.8,791.6 932.1,792.1 932.4,792.6 932.7,790.6 933,790.9 933.3,790 933.6,788.6 933.9,786.1 934.2,783.4 934.5,781.8 934.8,779 935.1,774.5 935.4,771.6 935.7,765.8 936,763.1 936.3,757.8 936.6,753.7 936.9,749.5 937.2,746 937.5,742.3 937.8,739.3 938.1,736.2 938.4,735.1 938.7,731.9 939,731.2 939.3,729.5 939.6,728.1 939.9,727.4 940.2,727.9 940.5,727.7 940.8,727.6 941.1,727.4 941.4,726.3 941.7,727 942,726.7 942.3,726.7 942.6,727.3 942.9,726.7 943.2,726.6 943.5,727.1 943.8,725 944.1,727.4 944.4,726.5 944.7,727.3 945,728.3 945.3,729.2 945.6,730.7 945.9,731.2 946.2,731 946.5,733.4 946.8,734.2 947.1,734.9 947.4,736.9 947.7,738.3 948,741.2 948.3,742.1 948.6,744.2 948.9,747.1 949.2,749.4 949.5,751 949.8,753.2 950.1,754.8 950.4,755.3 950.7,757.5 951,759.4 951.3,760.5 951.6,761.8 951.9,762.5 952.2,764.6 952.5,765.2 952.8,766.9 953.1,768 953.4,768.3 953.7,769.3 954,769.4 954.3,769.1 954.6,770.4 954.9,769.8 955.2,770.7 955.5,770.9 955.8,771.4 956.1,771.8 956.4,771.8 956.7,771.5 957,772.9 957.3,773.1 957.6,772 957.9,772.8 958.2,772.6 958.5,772.7 958.8,772.1 959.1,773.5 959.4,773.8 959.7,773.7 960,772 960.3,773.9 960.6,774 960.9,773.4 960.9,785.9 960.6,785.2 960.3,784.7 960,784.8 959.7,784.8 959.4,785.8 959.1,785 958.8,785.5 958.5,784.4 958.2,785.1 957.9,784.3 957.6,785.8 957.3,784.2 957,783.8 956.7,783.9 956.4,784.5 956.1,784.8 955.8,782.9 955.5,783 955.2,782.9 954.9,782.5 954.6,782.7 954.3,781.5 954,781.8 953.7,781 953.4,780.5 953.1,779.8 952.8,778.9 952.5,777.8 952.2,778 951.9,775.7 951.6,775.7 951.3,774 951,771.6 950.7,770.9 950.4,768.9 950.1,768 949.8,768.4 949.5,764.9 949.2,761.9 948.9,760 948.6,759 948.3,756 948,755.5 947.7,751.9 947.4,750.2 947.1,749.8 946.8,747.6 946.5,746.9 946.2,746.4 945.9,745.4 945.6,744.3 945.3,744.1 945,743.2 944.7,742.1 944.4,742.9 944.1,741.3 943.8,741.7 943.5,741.2 943.2,741.4 942.9,742.1 942.6,742.5 942.3,743.3 942,741.6 941.7,742.1 941.4,741.8 941.1,742.8 940.8,742.4 940.5,742.4 940.2,743 939.9,742.3 939.6,743.1 939.3,742.8 939,743.7 938.7,745.2 938.4,747.4 938.1,748.6 937.8,749.6 937.5,752.4 937.2,754.7 936.9,758.1 936.6,762.4 936.3,766.6 936,772.3 935.7,776.5 935.4,781.5 935.1,784.7 934.8,788.3 934.5,790.2 934.2,792.2 933.9,795.3 933.6,796.8 933.3,799.1 933,799.7 932.7,800.1 932.4,801 932.1,800.2 931.8,801.4 931.5,799.9 931.2,801.1 930.9,799.7 930.6,799.6 930.3,800.4 930,799.7 929.7,799.2 929.4,800 929.1,798.2 928.8,798 928.5,797.8 928.2,797.4 927.9,797.6 927.6,796.7 927.3,798 927,796.9 926.7,796 926.4,797.2 926.1,795.5 925.8,794.3 925.5,793.7 925.2,793.6 924.9,793.6 924.6,792.4 924.3,790.7 924,790 923.7,789.4 923.4,789.1 923.1,789 922.8,789.6 922.5,789.4 922.2,789.8 921.9,791.2 921.6,790.7 921.3,792.5 921,793 920.7,793.7 920.4,794.7 920.1,794.2" fill="#6478f8" opacity="0.45"/>
<polyline points="920.1,793.5 920.4,791.8 920.7,791.3 921,789.6 921.3,790.9 921.6,786.9 921.9,786.4 922.2,785.1 922.5,787.1 922.8,784.1 923.1,785.2 923.4,783.1 923.7,783.5 924,787.2 924.3,787.7 924.6,788.7 924.9,788.7 925.2,788.9 925.5,789.6 925.8,789.4 926.1,790.9 926.4,793.5 926.7,792.1 927,791 927.3,792.6 927.6,792 927.9,792.1 928.2,793.6 928.5,793.1 928.8,792.8 929.1,796.5 929.4,797 929.7,795.4 930,797.2 930.3,795.1 930.6,795.7 930.9,797.5 931.2,796.4 931.5,797.1 931.8,792.9 932.1,796.6 932.4,795.9 932.7,796 933,793.7 933.3,793.4 933.6,793.4 933.9,791.3 934.2,789.3 934.5,787.1 934.8,784.7 935.1,780.5 935.4,776 935.7,771.3 936,766.7 936.3,761.2 936.6,756.6 936.9,753.6 937.2,747.4 937.5,745.7 937.8,743.7 938.1,743.2 938.4,741.8 938.7,739.1 939,737.2 939.3,735.6 939.6,736.9 939.9,736.1 940.2,734.4 940.5,735 940.8,735.4 941.1,735.9 941.4,734.3 941.7,736.4 942,735.9 942.3,733.8 942.6,734 942.9,733 943.2,732.9 943.5,734.3 943.8,735.7 944.1,735.9 944.4,734.9 944.7,734.8 945,735.3 945.3,737.4 945.6,737.1 945.9,739.3 946.2,739.1 946.5,740.4 946.8,740.5 947.1,744.8 947.4,745.3 947.7,745.8 948,746.6 948.3,750.4 948.6,752.6 948.9,752.3 949.2,755.8 949.5,760.1 949.8,759.8 950.1,760.8 950.4,763.6 950.7,766.5 951,765.1 951.3,766.4 951.6,767.9 951.9,769.6 952.2,772.2 952.5,772.5 952.8,770.6 953.1,774.6 953.4,775.3 953.7,776.1 954,776 954.3,775.8 954.6,776.8 954.9,775.7 955.2,774.8 955.5,776.7 955.8,776.1 956.1,779.7 956.4,777.9 956.7,780.1 957,776.9 957.3,777.2 957.6,779.3 957.9,776.8 958.2,778.2 958.5,776.7 958.8,779.6 959.1,777.1 959.4,779.1 959.7,777.2 960,780 960.3,780.7 960.6,779.7 960.9,778.4" fill="none" stroke="#6478f8" stroke-width="1.5" stroke-linejoin="round"/>
<polyline points="920.1,792.7 920.4,791.1 920.7,791.4 921,792.6 921.3,791.3 921.6,792.2 921.9,791 922.2,791.2 922.5,791.8 922.8,791.9 923.1,790.7 923.4,791 923.7,791.9 924,792.4 924.3,791.9 924.6,791.8 924.9,791.9 925.2,790.9 925.5,791.8 925.8,792.1 926.1,792 926.4,790.9 926.7,791 927,792.3 927.3,790.8 927.6,791 927.9,792.5 928.2,791.1 928.5,791.2 928.8,792 929.1,792.1 929.4,791.5 929.7,790.7 930,791.3 930.3,791.7 930.6,791 930.9,791 931.2,792.4 931.5,791.9 931.8,792.1 932.1,792.1 932.4,791 932.7,791.9 933,792.3 933.3,792 933.6,790.9 933.9,790.7 934.2,791.1 934.5,791.9 934.8,791.5 935.1,791.8 935.4,790.8 935.7,792 936,790.8 936.3,791.5 936.6,790.3 936.9,787.8 937.2,788.7 937.5,787.6 937.8,787 938.1,786.9 938.4,787.2 938.7,786.8 939,787 939.3,786 939.6,784.8 939.9,785.6 940.2,785.7 940.5,786.2 940.8,788.8 941.1,788.4 941.4,788.1 941.7,790 942,789.9 942.3,789.9 942.6,792.1 942.9,791.6 943.2,792.3 943.5,793.9 943.8,791.9 944.1,793.2 944.4,792.3 944.7,791.8 945,792.3 945.3,792.6 945.6,792.6 945.9,791.5 946.2,792.9 946.5,791.9 946.8,792.6 947.1,792.5 947.4,792 947.7,792.7 948,791.9 948.3,791.7 948.6,791.4 948.9,791.2 949.2,791.8 949.5,790.9 949.8,792 950.1,791.9 950.4,793.2 950.7,791.5 951,792.8 951.3,792.4 951.6,792.3 951.9,791.7 952.2,791.6 952.5,791.9 952.8,792 953.1,792.4 953.4,791.7 953.7,792.9 954,793 954.3,790.5 954.6,792 954.9,791.9 955.2,791.3 955.5,790.3 955.8,790.8 956.1,791.8 956.4,792.3 956.7,792.1 957,792.1 957.3,791.7 957.6,792.4 957.9,792.1 958.2,792.4 958.5,791.7 958.8,791.3 959.1,790.8 959.4,792.6 959.7,791.3 960,791 960.3,790.4 960.6,792 960.9,790.8" fill="none" stroke="#000" stroke-width="1.4" stroke-linejoin="round"/>
<text x="615.6" y="697.2" font-size="21.5" fill="#0a9a0a">G-Flamp1</text>
<text x="623.6" y="773.8" font-size="21">GFP</text>
<line x1="631.4" y1="706.9" x2="612.8" y2="728.9" stroke="#0a9a0a" stroke-width="2.4" stroke-dasharray="10 5"/>
<line x1="627.3" y1="780.9" x2="622.1" y2="790.6" stroke="#000" stroke-width="2.4"/>
<text x="514.7" y="894.5" font-size="26.5" font-weight="bold">f2</text>
<rect x="593.7" y="920.8" width="36" height="164" fill="#e7e7e7"/>
<line x1="595.2" y1="1085.8" x2="628.7" y2="1085.8" stroke="#333" stroke-width="1.8"/>
<rect x="660" y="920.8" width="36" height="164" fill="#e7e7e7"/>
<line x1="661.5" y1="1085.8" x2="695" y2="1085.8" stroke="#333" stroke-width="1.8"/>
<rect x="726.2" y="920.8" width="36" height="164" fill="#e7e7e7"/>
<line x1="727.7" y1="1085.8" x2="761.2" y2="1085.8" stroke="#333" stroke-width="1.8"/>
<rect x="792" y="920.8" width="36" height="164" fill="#e7e7e7"/>
<line x1="793.5" y1="1085.8" x2="827" y2="1085.8" stroke="#333" stroke-width="1.8"/>
<rect x="857.1" y="920.8" width="36" height="164" fill="#e7e7e7"/>
<line x1="858.6" y1="1085.8" x2="892.1" y2="1085.8" stroke="#333" stroke-width="1.8"/>
<rect x="923.4" y="920.8" width="36" height="164" fill="#e7e7e7"/>
<line x1="924.9" y1="1085.8" x2="958.4" y2="1085.8" stroke="#333" stroke-width="1.8"/>
<line x1="590.3" y1="1075.6" x2="962" y2="1075.6" stroke="#222" stroke-width="1.3" stroke-dasharray="5 4"/>
<polyline points="545.5,1033.5 545.5,1075.5 585.7,1075.5" fill="none" stroke="#222" stroke-width="1.3"/>
<text x="544.6" y="1092.7" font-size="18">300 s</text>
<text x="533.4" y="1093.3" font-size="18" transform="rotate(-90 533.4 1093.3)">100%  ΔF/F<tspan font-size="11" dy="4">0</tspan></text>
<text x="584.7" y="1118.5" font-size="24.6">100 <tspan font-family='"Liberation Serif", serif' font-weight="bold">μ</tspan>M Fsk</text>
<polyline points="590.3,1070 590.6,1071.5 590.9,1071.7 591.2,1075.2 591.5,1069.2 591.8,1076.3 592.1,1074.2 592.4,1080.4 592.7,1080.9 593,1082.6 593.3,1080.9 593.6,1078 593.9,1080 594.2,1081.2 594.5,1073.4 594.8,1076.5 595.1,1073.5 595.4,1077.1 595.7,1067.7 596,1066.7 596.3,1066.1 596.6,1063.1 596.9,1054.3 597.2,1058 597.5,1053.8 597.8,1050.7 598.1,1048.3 598.4,1046.8 598.7,1037.7 599,1046 599.3,1035.8 599.6,1028.8 599.9,1033.3 600.2,1035.7 600.5,1026.9 600.8,1031 601.1,1028.5 601.4,1018.3 601.7,1011 602,1012.8 602.3,1018.4 602.6,1009.9 602.9,1005.6 603.2,1004.1 603.5,1006.3 603.8,1004.1 604.1,1004.8 604.4,1003.2 604.7,995.3 605,996.2 605.3,991.4 605.6,993.7 605.9,988.2 606.2,986.4 606.5,995.5 606.8,987.2 607.1,987.5 607.4,992.2 607.7,985.6 608,982.1 608.3,982.1 608.6,978.9 608.9,984.2 609.2,979 609.5,985.1 609.8,977.8 610.1,977.2 610.4,976.4 610.7,979.5 611,978 611.3,981.6 611.6,975.4 611.9,977.9 612.2,983.1 612.5,976 612.8,978.4 613.1,981.6 613.4,978.2 613.7,974.3 614,969.6 614.3,983.7 614.6,977.3 614.9,979.9 615.2,974.2 615.5,981.4 615.8,977.1 616.1,975.5 616.4,972.3 616.7,976.2 617,973.4 617.3,974.1 617.6,969.5 617.9,973 618.2,974.9 618.5,970.3 618.8,974.4 619.1,976.2 619.4,972.9 619.7,971.8 620,971.7 620.3,976.5 620.6,968.5 620.9,972.3 621.2,971.8 621.5,973.5 621.8,972.7 622.1,969.2 622.4,979.1 622.7,973 623,968 623.3,969.3 623.6,972.3 623.9,973.8 624.2,967.4 624.5,973.8 624.8,967 625.1,968.6 625.4,973.8 625.7,976.3 626,970.4 626.3,969.6 626.6,974.4 626.9,966.8 627.2,971 627.5,970.7 627.8,973 628.1,970.5 628.4,968.6 628.7,971.2 629,965.5 629.3,971.6 629.6,966.6" fill="none" stroke="#8b1616" stroke-width="1.4" stroke-linejoin="round"/>
<polyline points="592.3,1075.1 592.6,1075.4 592.9,1075.6 593.2,1076 593.5,1075.5 593.8,1076 594.1,1076.2 594.4,1075.5 594.7,1075 595,1076.2 595.3,1075.8 595.6,1074.3 595.9,1075 596.2,1075.7 596.5,1074.8 596.8,1075.2 597.1,1074.6 597.4,1075.8 597.7,1075.7 598,1075.7 598.3,1076.5 598.6,1075.4 598.9,1075.4 599.2,1076.8 599.5,1074.8 599.8,1076 600.1,1074.8 600.4,1075.7 600.7,1076.9 601,1075.8 601.3,1075.1 601.6,1077 601.9,1075.3 602.2,1075.5 602.5,1075.8 602.8,1074.8 603.1,1076.3 603.4,1076.6 603.7,1076.1 604,1075.8 604.3,1075.5 604.6,1076.1 604.9,1073.7 605.2,1075.5 605.5,1075.8 605.8,1074.4 606.1,1075.9 606.4,1075.5 606.7,1075.6 607,1075.7 607.3,1075.9 607.6,1075.9 607.9,1075 608.2,1075.5 608.5,1075.5 608.8,1075.6 609.1,1075.2 609.4,1076.2 609.7,1076.4 610,1076.5 610.3,1076.7 610.6,1076.5 610.9,1075.3 611.2,1075.2 611.5,1075.4 611.8,1075.9 612.1,1075.5 612.4,1076.2 612.7,1076.6 613,1075.3 613.3,1076.2 613.6,1075.4 613.9,1074.8 614.2,1074.8 614.5,1075.4 614.8,1074.5 615.1,1075.9 615.4,1076.5 615.7,1074.9 616,1075.4 616.3,1076.5 616.6,1075.8 616.9,1075.7 617.2,1075.4 617.5,1076.2 617.8,1075.8 618.1,1074.9 618.4,1074.1 618.7,1074 619,1076 619.3,1075.4 619.6,1076.5 619.9,1075.9 620.2,1074.8 620.5,1075.8 620.8,1076.3 621.1,1075.1 621.4,1075.3 621.7,1076.6 622,1074.6 622.3,1074.9 622.6,1076.2 622.9,1075.7 623.2,1074.9 623.5,1074.7 623.8,1075.9 624.1,1076.3 624.4,1076.1 624.7,1075.8 625,1076.5 625.3,1075.8 625.6,1075.1 625.9,1076.8 626.2,1074.9 626.5,1075.5 626.8,1075.6 627.1,1076.5 627.4,1075.1 627.7,1075.4 628,1074.5 628.3,1075.8 628.6,1075.9 628.9,1076 629.2,1075 629.5,1075.7 629.8,1075.1 630.1,1075.3" fill="none" stroke="#000" stroke-width="1.4" stroke-linejoin="round"/>
<polyline points="656.6,1075.4 656.9,1079.2 657.2,1075.1 657.5,1077.1 657.8,1074.8 658.1,1075.9 658.4,1076 658.7,1077.8 659,1080.6 659.3,1076.1 659.6,1081.3 659.9,1076.7 660.2,1079.1 660.5,1075.9 660.8,1075.6 661.1,1074.5 661.4,1077.5 661.7,1073.8 662,1072.8 662.3,1064.9 662.6,1061 662.9,1061.6 663.2,1049 663.5,1046.8 663.8,1044.9 664.1,1047.4 664.4,1038.5 664.7,1039.7 665,1039.2 665.3,1032 665.6,1029.7 665.9,1032 666.2,1023.7 666.5,1019.9 666.8,1022.7 667.1,1017.7 667.4,1021.1 667.7,1017.8 668,1010.6 668.3,1014.5 668.6,1012.5 668.9,1009.5 669.2,1012.8 669.5,1004 669.8,1004.2 670.1,1005.4 670.4,1008 670.7,1001.1 671,1002.7 671.3,1001.8 671.6,999 671.9,1001.1 672.2,998.4 672.5,999.5 672.8,1000.6 673.1,996.7 673.4,996.1 673.7,995.1 674,995.1 674.3,993 674.6,993.7 674.9,996.9 675.2,994 675.5,1004.6 675.8,993.7 676.1,996.8 676.4,991.4 676.7,994.4 677,993.5 677.3,994.4 677.6,997.9 677.9,993.7 678.2,990.8 678.5,994 678.8,991 679.1,993.1 679.4,997.5 679.7,995.8 680,996.1 680.3,994.6 680.6,993.1 680.9,989 681.2,991.7 681.5,991.5 681.8,994.6 682.1,995.3 682.4,993.9 682.7,990.5 683,997.3 683.3,996.2 683.6,991.8 683.9,992.8 684.2,993.9 684.5,992.4 684.8,991.8 685.1,993.3 685.4,992 685.7,992.4 686,987.6 686.3,987.5 686.6,996.2 686.9,987.6 687.2,992.7 687.5,992.1 687.8,991.7 688.1,989.2 688.4,993.5 688.7,991.6 689,989.7 689.3,986.8 689.6,989.7 689.9,988.6 690.2,986.8 690.5,990.9 690.8,991.3 691.1,991.8 691.4,989.9 691.7,988.8 692,992.3 692.3,991.2 692.6,995 692.9,990.4 693.2,986.3 693.5,991.2 693.8,994.6 694.1,989.1 694.4,987.8 694.7,986.6 695,993 695.3,987.4 695.6,987.1" fill="none" stroke="#c81414" stroke-width="1.4" stroke-linejoin="round"/>
<polyline points="658.6,1075.8 658.9,1074.8 659.2,1075.5 659.5,1074.9 659.8,1075.5 660.1,1075.9 660.4,1076.2 660.7,1075.4 661,1076.1 661.3,1075.4 661.6,1074.6 661.9,1076 662.2,1075.5 662.5,1075.7 662.8,1074.1 663.1,1075.8 663.4,1075.8 663.7,1075.8 664,1076.3 664.3,1075.4 664.6,1076.9 664.9,1076.1 665.2,1076 665.5,1074.1 665.8,1074.5 666.1,1076.6 666.4,1075.9 666.7,1076.2 667,1075.4 667.3,1075.6 667.6,1076 667.9,1075.2 668.2,1076.5 668.5,1075 668.8,1075.8 669.1,1075.5 669.4,1075.9 669.7,1076.4 670,1075 670.3,1076 670.6,1075.8 670.9,1076.2 671.2,1075.7 671.5,1075.4 671.8,1076 672.1,1076.5 672.4,1076.2 672.7,1075.8 673,1075.9 673.3,1074.8 673.6,1075.4 673.9,1075.5 674.2,1075.4 674.5,1075.3 674.8,1075.7 675.1,1075.9 675.4,1076.9 675.7,1075.3 676,1075.1 676.3,1076.3 676.6,1075.8 676.9,1075.2 677.2,1076.6 677.5,1075.6 677.8,1075.5 678.1,1075.3 678.4,1075.1 678.7,1075.7 679,1075.1 679.3,1077.2 679.6,1075.9 679.9,1075.5 680.2,1075.2 680.5,1075.8 680.8,1076.3 681.1,1075.8 681.4,1075 681.7,1075.5 682,1074.6 682.3,1076.5 682.6,1076.1 682.9,1075.8 683.2,1075.8 683.5,1075.3 683.8,1075.6 684.1,1076.2 684.4,1075.6 684.7,1076 685,1075.8 685.3,1075.8 685.6,1075.9 685.9,1076.3 686.2,1075.5 686.5,1076.1 686.8,1075.2 687.1,1075.3 687.4,1075.2 687.7,1076.2 688,1075.5 688.3,1076.4 688.6,1075.1 688.9,1075.9 689.2,1075 689.5,1076.3 689.8,1075.3 690.1,1075.9 690.4,1075.3 690.7,1075.2 691,1075.8 691.3,1074.6 691.6,1075 691.9,1076.6 692.2,1075.2 692.5,1076.2 692.8,1075.2 693.1,1074.7 693.4,1075.4 693.7,1076.2 694,1075.7 694.3,1075.5 694.6,1076.2 694.9,1075.2 695.2,1076.1 695.5,1075.9 695.8,1075.1 696.1,1076.2 696.4,1076.3" fill="none" stroke="#000" stroke-width="1.4" stroke-linejoin="round"/>
<polyline points="722.8,1075.1 723.1,1076.6 723.4,1075.2 723.7,1072 724,1079.9 724.3,1072.9 724.6,1079.2 724.9,1075.2 725.2,1073.4 725.5,1080.1 725.8,1078.8 726.1,1085.4 726.4,1077.9 726.7,1079 727,1079 727.3,1077.7 727.6,1084.1 727.9,1084.5 728.2,1079.5 728.5,1070 728.8,1073.2 729.1,1068.9 729.4,1064.2 729.7,1057.1 730,1064.2 730.3,1062.9 730.6,1056.8 730.9,1054.9 731.2,1057.6 731.5,1055.8 731.8,1046.5 732.1,1031.7 732.4,1043.5 732.7,1038.7 733,1038.7 733.3,1032.4 733.6,1029.1 733.9,1033.8 734.2,1029.2 734.5,1029.4 734.8,1029.3 735.1,1026.7 735.4,1019.2 735.7,1025.9 736,1020.3 736.3,1020 736.6,1021.2 736.9,1012.5 737.2,1016.2 737.5,1009.2 737.8,1013.5 738.1,1016.4 738.4,1013.7 738.7,1012.3 739,1015 739.3,1010.3 739.6,1004.8 739.9,1014.6 740.2,1010.4 740.5,1011.9 740.8,1006.4 741.1,1005.6 741.4,1003.9 741.7,998.6 742,1003.9 742.3,1002.8 742.6,1011 742.9,996.5 743.2,1003.7 743.5,1002.3 743.8,1002.1 744.1,1001.3 744.4,1002.2 744.7,1004.2 745,993.8 745.3,1003.6 745.6,999.1 745.9,996.2 746.2,992.7 746.5,992.7 746.8,999.6 747.1,995.4 747.4,995.3 747.7,997.8 748,999.8 748.3,997.8 748.6,995.1 748.9,997.1 749.2,998.8 749.5,995.3 749.8,1003 750.1,1004.5 750.4,1004.5 750.7,998 751,997.9 751.3,995.4 751.6,1004.4 751.9,996.8 752.2,1007.2 752.5,990.2 752.8,999 753.1,999.9 753.4,997.8 753.7,999.9 754,1005.3 754.3,997 754.6,1000.3 754.9,995 755.2,991.6 755.5,992.2 755.8,999.5 756.1,997.3 756.4,990.1 756.7,996.9 757,997.9 757.3,997.3 757.6,999.8 757.9,989.4 758.2,991.3 758.5,990.7 758.8,995.4 759.1,1000 759.4,992.9 759.7,995.9 760,997.9 760.3,992.5 760.6,997.5 760.9,993.7 761.2,1001.1 761.5,999.5 761.8,992.1 762.1,991.6" fill="none" stroke="#f59c9c" stroke-width="1.4" stroke-linejoin="round"/>
<polyline points="724.8,1076.7 725.1,1075.1 725.4,1076.3 725.7,1075.4 726,1074.9 726.3,1076.6 726.6,1075.9 726.9,1075 727.2,1075.5 727.5,1075.2 727.8,1075 728.1,1075.6 728.4,1076.3 728.7,1074.8 729,1075.9 729.3,1074.7 729.6,1075.6 729.9,1074.7 730.2,1074.8 730.5,1075.2 730.8,1076.2 731.1,1076.1 731.4,1075.5 731.7,1075.4 732,1075.7 732.3,1077.3 732.6,1075.8 732.9,1075.5 733.2,1075.3 733.5,1075.4 733.8,1076 734.1,1075.9 734.4,1074.2 734.7,1076.9 735,1075.9 735.3,1075.5 735.6,1077.2 735.9,1074.7 736.2,1074.8 736.5,1076.3 736.8,1075.6 737.1,1076.1 737.4,1076.3 737.7,1076.7 738,1076 738.3,1075.2 738.6,1074.6 738.9,1075.7 739.2,1074.5 739.5,1075.6 739.8,1075.1 740.1,1075.8 740.4,1076 740.7,1075.6 741,1074.8 741.3,1075.7 741.6,1075.2 741.9,1075.8 742.2,1075.3 742.5,1077 742.8,1075.3 743.1,1074.4 743.4,1075 743.7,1075.6 744,1077.3 744.3,1076.4 744.6,1075.2 744.9,1075.6 745.2,1074.9 745.5,1074.7 745.8,1076.2 746.1,1075.8 746.4,1075.1 746.7,1075.2 747,1075.8 747.3,1076 747.6,1075.1 747.9,1074.6 748.2,1076.1 748.5,1075.1 748.8,1074.5 749.1,1075.5 749.4,1075.7 749.7,1076.2 750,1075.3 750.3,1075.8 750.6,1074.8 750.9,1075.9 751.2,1074.7 751.5,1076 751.8,1075.7 752.1,1074.7 752.4,1075.2 752.7,1076.6 753,1075 753.3,1074.6 753.6,1075.4 753.9,1075.7 754.2,1076.1 754.5,1075.5 754.8,1075.3 755.1,1075.5 755.4,1076.1 755.7,1075.5 756,1075.9 756.3,1074.5 756.6,1075.4 756.9,1075.5 757.2,1076.2 757.5,1075.9 757.8,1075.7 758.1,1076.2 758.4,1075.7 758.7,1077.5 759,1075 759.3,1075.7 759.6,1076.7 759.9,1076.1 760.2,1075.8 760.5,1076.2 760.8,1075.3 761.1,1075.7 761.4,1075.7 761.7,1076.8 762,1075.8 762.3,1076.9 762.6,1075.6" fill="none" stroke="#000" stroke-width="1.4" stroke-linejoin="round"/>
<polyline points="788.6,1076.3 788.9,1071.7 789.2,1077.6 789.5,1071.6 789.8,1078.3 790.1,1079.3 790.4,1078.2 790.7,1075 791,1077.2 791.3,1071.7 791.6,1076.7 791.9,1078.7 792.2,1077.3 792.5,1075.5 792.8,1078.6 793.1,1075.4 793.4,1073.6 793.7,1072.8 794,1067.3 794.3,1066.3 794.6,1058.8 794.9,1053.6 795.2,1056.2 795.5,1056.1 795.8,1048 796.1,1048.4 796.4,1040 796.7,1041 797,1038.1 797.3,1035 797.6,1028.5 797.9,1030.4 798.2,1027.7 798.5,1024.3 798.8,1025.5 799.1,1016.2 799.4,1014.5 799.7,1014 800,1004.8 800.3,1002.9 800.6,1004.7 800.9,998.7 801.2,995.6 801.5,996.8 801.8,990.3 802.1,991.9 802.4,987.1 802.7,986 803,979.2 803.3,984.1 803.6,982.2 803.9,979.6 804.2,977.2 804.5,978.1 804.8,979.9 805.1,977.3 805.4,972.3 805.7,973.4 806,971 806.3,971.7 806.6,967.3 806.9,972 807.2,966.2 807.5,965.3 807.8,968.1 808.1,970.9 808.4,962.5 808.7,966.3 809,967.3 809.3,972 809.6,961.5 809.9,967.4 810.2,962.6 810.5,963.2 810.8,965.9 811.1,963.5 811.4,959.9 811.7,962.4 812,961.8 812.3,962.9 812.6,960 812.9,960.3 813.2,961 813.5,961.6 813.8,960.9 814.1,962.1 814.4,962.4 814.7,961.4 815,958.8 815.3,956.4 815.6,957.8 815.9,958.1 816.2,958.8 816.5,961.4 816.8,958.8 817.1,956.4 817.4,955.3 817.7,958 818,957.4 818.3,955.2 818.6,953.6 818.9,956.4 819.2,957.9 819.5,957.1 819.8,952.8 820.1,954.9 820.4,955.2 820.7,953 821,954.8 821.3,953.2 821.6,956.6 821.9,952.5 822.2,957.7 822.5,955.9 822.8,954.1 823.1,953.5 823.4,956 823.7,951.4 824,953 824.3,951.1 824.6,955.1 824.9,950.3 825.2,950.1 825.5,944.1 825.8,950.7 826.1,948.9 826.4,950.8 826.7,945.6 827,946.7" fill="none" stroke="#e9bb62" stroke-width="1.4" stroke-linejoin="round"/>
<polyline points="790.6,1076.4 790.9,1075.1 791.2,1075.6 791.5,1076 791.8,1075.5 792.1,1075.4 792.4,1076.1 792.7,1075 793,1075.6 793.3,1075.1 793.6,1074.5 793.9,1075.2 794.2,1075.9 794.5,1075 794.8,1074.7 795.1,1074.9 795.4,1074.7 795.7,1075.3 796,1074.3 796.3,1075.4 796.6,1075.1 796.9,1075.5 797.2,1074.5 797.5,1075.3 797.8,1074.1 798.1,1075 798.4,1074.5 798.7,1073.9 799,1075 799.3,1075.3 799.6,1075.4 799.9,1074.5 800.2,1074.1 800.5,1075 800.8,1073.5 801.1,1074.1 801.4,1073 801.7,1073.9 802,1073.9 802.3,1073.4 802.6,1074.2 802.9,1073.4 803.2,1073.7 803.5,1073.7 803.8,1073.2 804.1,1071.7 804.4,1072.9 804.7,1073.2 805,1072.4 805.3,1073 805.6,1071.9 805.9,1073.1 806.2,1073.1 806.5,1072.9 806.8,1072.4 807.1,1072.8 807.4,1071.9 807.7,1072.2 808,1073 808.3,1072.4 808.6,1072.6 808.9,1072.8 809.2,1073.5 809.5,1072.5 809.8,1072.6 810.1,1072.5 810.4,1072 810.7,1073.1 811,1071.8 811.3,1072.6 811.6,1073.9 811.9,1073.1 812.2,1071.8 812.5,1072.6 812.8,1074.2 813.1,1073.1 813.4,1074.4 813.7,1072.9 814,1071.8 814.3,1073.5 814.6,1073.2 814.9,1073.6 815.2,1072.8 815.5,1072.8 815.8,1073.1 816.1,1072.9 816.4,1074.1 816.7,1074.3 817,1073.5 817.3,1074.3 817.6,1073.4 817.9,1073.7 818.2,1073 818.5,1074.8 818.8,1073.8 819.1,1075 819.4,1075 819.7,1074.7 820,1074.6 820.3,1073.9 820.6,1075.1 820.9,1075 821.2,1075.4 821.5,1075 821.8,1074.2 822.1,1074.3 822.4,1075.6 822.7,1076.1 823,1075 823.3,1075.2 823.6,1075.5 823.9,1075.6 824.2,1075.7 824.5,1075.4" fill="none" stroke="#000" stroke-width="1.4" stroke-linejoin="round"/>
<polyline points="853.7,1076.2 854,1073.9 854.3,1075.8 854.6,1078.7 854.9,1077.1 855.2,1075.3 855.5,1078.7 855.8,1074.6 856.1,1076.4 856.4,1075.6 856.7,1080.2 857,1081 857.3,1076.8 857.6,1074 857.9,1077.3 858.2,1075.6 858.5,1068.7 858.8,1075.3 859.1,1072 859.4,1064 859.7,1060.4 860,1056 860.3,1050.6 860.6,1049.3 860.9,1041.4 861.2,1038.6 861.5,1035.8 861.8,1025.8 862.1,1025.8 862.4,1020 862.7,1019 863,1015.3 863.3,1012.8 863.6,1010.3 863.9,1003.1 864.2,1003.7 864.5,993.8 864.8,999 865.1,993.3 865.4,994 865.7,983.4 866,991.9 866.3,984.5 866.6,984.5 866.9,981.8 867.2,979.3 867.5,976 867.8,969.3 868.1,978.4 868.4,979.5 868.7,970.7 869,976.1 869.3,973.9 869.6,971.1 869.9,968.7 870.2,970.1 870.5,965.3 870.8,965.4 871.1,963.9 871.4,962.3 871.7,962 872,965 872.3,964.8 872.6,959.7 872.9,961.6 873.2,960.8 873.5,955.4 873.8,964.2 874.1,956.6 874.4,963.4 874.7,951.9 875,956.4 875.3,960.9 875.6,959.5 875.9,959.3 876.2,957.1 876.5,963.4 876.8,956.6 877.1,957.1 877.4,953.2 877.7,952.6 878,959.1 878.3,958.7 878.6,948.1 878.9,951.7 879.2,957.2 879.5,953.3 879.8,955.9 880.1,946.7 880.4,952.8 880.7,952 881,951.9 881.3,949.4 881.6,951.1 881.9,956.7 882.2,947.3 882.5,950.2 882.8,949.2 883.1,949.1 883.4,955.5 883.7,954.5 884,948 884.3,950.7 884.6,946 884.9,949.5 885.2,947 885.5,952.7 885.8,949.1 886.1,944 886.4,941.4 886.7,943.4 887,953.6 887.3,943.4 887.6,941.7 887.9,943.9 888.2,944.2 888.5,947.6 888.8,942.9 889.1,950.5 889.4,944.9 889.7,945.7 890,949 890.3,944.8 890.6,945 890.9,945.8 891.2,941.2 891.5,941.6 891.8,945.3 892.1,940.3" fill="none" stroke="#0a0a9c" stroke-width="1.4" stroke-linejoin="round"/>
<polyline points="855.7,1075.3 856,1076.2 856.3,1076 856.6,1075.8 856.9,1074.9 857.2,1076.8 857.5,1075.5 857.8,1075.4 858.1,1075.5 858.4,1075.1 858.7,1075.4 859,1076.8 859.3,1074.7 859.6,1077 859.9,1075 860.2,1075 860.5,1076.4 860.8,1076.8 861.1,1075.4 861.4,1076.1 861.7,1075.1 862,1075.4 862.3,1075.1 862.6,1075.7 862.9,1075.2 863.2,1075.7 863.5,1075.4 863.8,1075.6 864.1,1075.6 864.4,1075.2 864.7,1075.3 865,1074.9 865.3,1075.9 865.6,1076 865.9,1075.3 866.2,1075.4 866.5,1075.2 866.8,1075.3 867.1,1075.6 867.4,1074.5 867.7,1074.7 868,1075.6 868.3,1076.1 868.6,1075.1 868.9,1076 869.2,1076.1 869.5,1075.6 869.8,1076.9 870.1,1075.5 870.4,1075.6 870.7,1074.9 871,1074.9 871.3,1075.6 871.6,1075.9 871.9,1075.4 872.2,1075.5 872.5,1075.6 872.8,1076 873.1,1074.5 873.4,1076 873.7,1075 874,1075.8 874.3,1076 874.6,1074.7 874.9,1076.2 875.2,1075.5 875.5,1075.2 875.8,1076.6 876.1,1074.7 876.4,1074.6 876.7,1075.6 877,1075.8 877.3,1075.4 877.6,1075.8 877.9,1074.1 878.2,1076.1 878.5,1075.6 878.8,1074.8 879.1,1074.8 879.4,1075.8 879.7,1075.7 880,1075.1 880.3,1075.6 880.6,1075.5 880.9,1076.2 881.2,1075 881.5,1076.1 881.8,1075.6 882.1,1075.6 882.4,1075.9 882.7,1075.2 883,1074.7 883.3,1074.6 883.6,1076.1 883.9,1074.5 884.2,1076.2 884.5,1075.1 884.8,1076.2 885.1,1075 885.4,1075.7 885.7,1075.7 886,1076 886.3,1075.3 886.6,1075.8 886.9,1076.5 887.2,1074.7 887.5,1076.2 887.8,1074.9 888.1,1076.1 888.4,1075.3 888.7,1076.4 889,1075.4 889.3,1075.3 889.6,1076.2 889.9,1075.4 890.2,1075.4 890.5,1076.1 890.8,1076.4 891.1,1076.1 891.4,1074.4 891.7,1075.8 892,1075.8 892.3,1076.1 892.6,1076.2 892.9,1076.2 893.2,1075.9 893.5,1076.8" fill="none" stroke="#000" stroke-width="1.4" stroke-linejoin="round"/>
<polyline points="920,1075.3 920.3,1074.1 920.6,1072.9 920.9,1075.5 921.2,1078.8 921.5,1077.2 921.8,1081.1 922.1,1077.7 922.4,1076.6 922.7,1082.3 923,1078.1 923.3,1081.6 923.6,1072.3 923.9,1074.3 924.2,1075.9 924.5,1074.1 924.8,1077 925.1,1075.8 925.4,1074.3 925.7,1068.9 926,1066.5 926.3,1064.5 926.6,1067.6 926.9,1060.4 927.2,1061.1 927.5,1054 927.8,1049.9 928.1,1051.4 928.4,1050.7 928.7,1040.8 929,1040.7 929.3,1040.7 929.6,1035.4 929.9,1032.3 930.2,1032.1 930.5,1027.5 930.8,1024.5 931.1,1019.8 931.4,1018.8 931.7,1013.7 932,1015.7 932.3,1001 932.6,1006.3 932.9,1005 933.2,997.6 933.5,998.6 933.8,992.2 934.1,992.9 934.4,992.4 934.7,984.4 935,987.8 935.3,979.6 935.6,971.7 935.9,975.2 936.2,974.9 936.5,973.5 936.8,971.1 937.1,970.5 937.4,967.3 937.7,969.5 938,965.2 938.3,962.9 938.6,967.6 938.9,959.1 939.2,957 939.5,959.7 939.8,954.4 940.1,961.9 940.4,959.3 940.7,965.1 941,956.8 941.3,955.7 941.6,960.1 941.9,959.5 942.2,959.2 942.5,955.5 942.8,955.1 943.1,957.7 943.4,955.5 943.7,957 944,958.1 944.3,954.1 944.6,955.9 944.9,949.1 945.2,957.8 945.5,957.3 945.8,953.4 946.1,952.1 946.4,952.7 946.7,952.6 947,951.4 947.3,949.5 947.6,951.6 947.9,953.6 948.2,945.1 948.5,948.4 948.8,947.2 949.1,946 949.4,948.5 949.7,942.5 950,946.7 950.3,949.7 950.6,949.5 950.9,948.6 951.2,947.4 951.5,948.3 951.8,946.3 952.1,946.9 952.4,947.2 952.7,948.9 953,947.4 953.3,946.7 953.6,940.2 953.9,944.5 954.2,943.9 954.5,941.7 954.8,940.1 955.1,944.2 955.4,942.4 955.7,941 956,938.6 956.3,939.2 956.6,939.5 956.9,941.3 957.2,944.4 957.5,940.4 957.8,934.4 958.1,940.3 958.4,940.1" fill="none" stroke="#6478f8" stroke-width="1.4" stroke-linejoin="round"/>
<polyline points="922,1075 922.3,1074.8 922.6,1075.6 922.9,1076 923.2,1075.8 923.5,1076.5 923.8,1075.5 924.1,1075.6 924.4,1075.1 924.7,1076.2 925,1075.7 925.3,1075.9 925.6,1074.2 925.9,1074.5 926.2,1075.8 926.5,1075.9 926.8,1075.3 927.1,1075.4 927.4,1076 927.7,1075.1 928,1075.6 928.3,1075 928.6,1075.2 928.9,1076 929.2,1074.5 929.5,1075.1 929.8,1074.1 930.1,1075.7 930.4,1075.7 930.7,1077.3 931,1075.3 931.3,1075.7 931.6,1076.2 931.9,1076 932.2,1075.4 932.5,1076.3 932.8,1073.9 933.1,1075.8 933.4,1075.1 933.7,1075.1 934,1074.9 934.3,1075.7 934.6,1074.9 934.9,1075.6 935.2,1076.6 935.5,1075.1 935.8,1075.6 936.1,1075.2 936.4,1074.7 936.7,1075.9 937,1076.3 937.3,1075.1 937.6,1075.6 937.9,1075.4 938.2,1075.1 938.5,1076 938.8,1074.3 939.1,1076.4 939.4,1075.2 939.7,1076.6 940,1075.8 940.3,1075.5 940.6,1074.5 940.9,1074.7 941.2,1075.9 941.5,1075.1 941.8,1076.1 942.1,1074.7 942.4,1076.2 942.7,1075.5 943,1075.8 943.3,1075 943.6,1075.3 943.9,1075.8 944.2,1075.6 944.5,1074.9 944.8,1075.6 945.1,1074.6 945.4,1076.7 945.7,1075.8 946,1075.2 946.3,1075.3 946.6,1074.9 946.9,1075.5 947.2,1073.8 947.5,1075.5 947.8,1076.5 948.1,1074.2 948.4,1075.6 948.7,1075.2 949,1075.4 949.3,1074.8 949.6,1076.1 949.9,1074.7 950.2,1076.1 950.5,1076.1 950.8,1075.6 951.1,1075.9 951.4,1074.3 951.7,1075.1 952,1074 952.3,1075.9 952.6,1076.2 952.9,1074.6 953.2,1075.6 953.5,1075.4 953.8,1074.4 954.1,1075.3 954.4,1075.6 954.7,1076.1 955,1075.5 955.3,1075.9 955.6,1076.7 955.9,1076.2 956.2,1075.1 956.5,1075.9 956.8,1076.6 957.1,1077.2 957.4,1076 957.7,1076.3 958,1076.1 958.3,1076.8 958.6,1076.2 958.9,1076.3 959.2,1075.1 959.5,1075.4 959.8,1074.7" fill="none" stroke="#000" stroke-width="1.4" stroke-linejoin="round"/>
<text x="601.2" y="952.2" font-size="21.5" fill="#0a9a0a">G-Flamp1</text>
<text x="615" y="1055" font-size="21">GFP</text>
<line x1="622.1" y1="956.9" x2="616.1" y2="965.3" stroke="#0a9a0a" stroke-width="2.4"/>
<line x1="623" y1="1061.5" x2="618.4" y2="1070.9" stroke="#000" stroke-width="2.4"/>
<text x="986.4" y="321.7" font-size="26.5" font-weight="bold">d3</text>
<text x="1116.5" y="308.5" font-size="26.9" fill="#0a9a0a">G-Flamp1</text>
<text x="1359.7" y="308.5" font-size="26.9">GFP</text>
<text x="1140.5" y="339.2" font-size="27.2">n = 8</text>
<text x="1358.9" y="339.2" font-size="27.2">n = 5</text>
<line x1="1055.3" y1="334.2" x2="1055.3" y2="518.9" stroke="#333" stroke-width="1.3"/>
<line x1="1049.2" y1="515.4" x2="1485.7" y2="515.4" stroke="#111" stroke-width="1.5"/>
<line x1="1049.3" y1="515.4" x2="1055.3" y2="515.4" stroke="#333" stroke-width="1.3"/>
<text x="1041.3" y="522.6" font-size="21" text-anchor="end">0</text>
<line x1="1049.3" y1="442.9" x2="1055.3" y2="442.9" stroke="#333" stroke-width="1.3"/>
<text x="1041.3" y="450.1" font-size="21" text-anchor="end">1</text>
<line x1="1049.3" y1="370.4" x2="1055.3" y2="370.4" stroke="#333" stroke-width="1.3"/>
<text x="1041.3" y="377.6" font-size="21" text-anchor="end">2</text>
<text x="1005.5" y="430.5" font-size="23.5" text-anchor="middle" transform="rotate(-90 1005.5 430.5)">ΔF/F<tspan font-size="15.51" dy="5.17">0</tspan></text>
<rect x="1070.2" y="470.4" width="20.3" height="45" fill="#8b0c0c" stroke="#222" stroke-width="0.9"/>
<rect x="1096.1" y="465" width="20.3" height="50.4" fill="#cc0b0b" stroke="#222" stroke-width="0.9"/>
<rect x="1121.3" y="453" width="20.3" height="62.4" fill="#fb9c9c" stroke="#222" stroke-width="0.9"/>
<rect x="1146.6" y="482.8" width="20.3" height="32.6" fill="#f3c56a" stroke="#222" stroke-width="0.9"/>
<rect x="1197.3" y="454.1" width="20.3" height="61.3" fill="#00009e" stroke="#222" stroke-width="0.9"/>
<rect x="1222.5" y="448.7" width="20.3" height="66.7" fill="#5c74fc" stroke="#222" stroke-width="0.9"/>
<polyline points="1080.4,470.6 1106.3,446 1131.5,432.6 1156.8,468.4" fill="none" stroke="#555" stroke-width="0.6"/><polyline points="1080.4,438.3 1106.3,486.9 1131.5,470.4 1156.8,507.9" fill="none" stroke="#555" stroke-width="0.6"/><polyline points="1080.4,472.6 1106.3,446.9 1131.5,453.7 1156.8,472.9" fill="none" stroke="#555" stroke-width="0.6"/><polyline points="1080.4,507.9 1106.3,462.3 1131.5,478.1 1156.8,447.5" fill="none" stroke="#555" stroke-width="0.6"/><polyline points="1080.4,452.8 1106.3,447.8 1131.5,454.6 1156.8,470.6" fill="none" stroke="#555" stroke-width="0.6"/><polyline points="1080.4,457.4 1106.3,471.3 1131.5,466.8 1156.8,485.1" fill="none" stroke="#555" stroke-width="0.6"/><polyline points="1080.4,482.5 1106.3,475.8 1131.5,460.9 1156.8,497.2" fill="none" stroke="#555" stroke-width="0.6"/><polyline points="1080.4,432 1106.3,434.2 1131.5,399.4 1156.8,437.1" fill="none" stroke="#555" stroke-width="0.6"/>
<g fill="#bdbdbd" fill-opacity="0.72"><circle cx="1080.4" cy="470.6" r="6.8"/><circle cx="1106.3" cy="446" r="6.8"/><circle cx="1131.5" cy="432.6" r="6.8"/><circle cx="1156.8" cy="468.4" r="6.8"/><circle cx="1080.4" cy="438.3" r="6.8"/><circle cx="1106.3" cy="486.9" r="6.8"/><circle cx="1131.5" cy="470.4" r="6.8"/><circle cx="1156.8" cy="507.9" r="6.8"/><circle cx="1080.4" cy="472.6" r="6.8"/><circle cx="1106.3" cy="446.9" r="6.8"/><circle cx="1131.5" cy="453.7" r="6.8"/><circle cx="1156.8" cy="472.9" r="6.8"/><circle cx="1080.4" cy="507.9" r="6.8"/><circle cx="1106.3" cy="462.3" r="6.8"/><circle cx="1131.5" cy="478.1" r="6.8"/><circle cx="1156.8" cy="447.5" r="6.8"/><circle cx="1080.4" cy="452.8" r="6.8"/><circle cx="1106.3" cy="447.8" r="6.8"/><circle cx="1131.5" cy="454.6" r="6.8"/><circle cx="1156.8" cy="470.6" r="6.8"/><circle cx="1080.4" cy="457.4" r="6.8"/><circle cx="1106.3" cy="471.3" r="6.8"/><circle cx="1131.5" cy="466.8" r="6.8"/><circle cx="1156.8" cy="485.1" r="6.8"/><circle cx="1080.4" cy="482.5" r="6.8"/><circle cx="1106.3" cy="475.8" r="6.8"/><circle cx="1131.5" cy="460.9" r="6.8"/><circle cx="1156.8" cy="497.2" r="6.8"/><circle cx="1080.4" cy="432" r="6.8"/><circle cx="1106.3" cy="434.2" r="6.8"/><circle cx="1131.5" cy="399.4" r="6.8"/><circle cx="1156.8" cy="437.1" r="6.8"/></g>
<polyline points="1207.5,444.2 1232.7,507.4" fill="none" stroke="#555" stroke-width="0.6"/><polyline points="1207.5,443.5 1232.7,471.9" fill="none" stroke="#555" stroke-width="0.6"/><polyline points="1207.5,461.2 1232.7,498.8" fill="none" stroke="#555" stroke-width="0.6"/><polyline points="1207.5,456 1232.7,457.9" fill="none" stroke="#555" stroke-width="0.6"/><polyline points="1207.5,451.7 1232.7,468.5" fill="none" stroke="#555" stroke-width="0.6"/><polyline points="1207.5,452.9 1232.7,381.2" fill="none" stroke="#555" stroke-width="0.6"/><polyline points="1207.5,448.8 1232.7,470" fill="none" stroke="#555" stroke-width="0.6"/><polyline points="1207.5,432 1232.7,348.6" fill="none" stroke="#555" stroke-width="0.6"/>
<g fill="#bdbdbd" fill-opacity="0.72"><circle cx="1207.5" cy="444.2" r="6.8"/><circle cx="1232.7" cy="507.4" r="6.8"/><circle cx="1207.5" cy="443.5" r="6.8"/><circle cx="1232.7" cy="471.9" r="6.8"/><circle cx="1207.5" cy="461.2" r="6.8"/><circle cx="1232.7" cy="498.8" r="6.8"/><circle cx="1207.5" cy="456" r="6.8"/><circle cx="1232.7" cy="457.9" r="6.8"/><circle cx="1207.5" cy="451.7" r="6.8"/><circle cx="1232.7" cy="468.5" r="6.8"/><circle cx="1207.5" cy="452.9" r="6.8"/><circle cx="1232.7" cy="381.2" r="6.8"/><circle cx="1207.5" cy="448.8" r="6.8"/><circle cx="1232.7" cy="470" r="6.8"/><circle cx="1207.5" cy="432" r="6.8"/><circle cx="1232.7" cy="348.6" r="6.8"/></g>
<path d="M1080.4,462.1 L1080.4,478.8 M1076.8,462.1 L1084,462.1 M1076.8,478.8 L1084,478.8" stroke="#111" stroke-width="2.2" fill="none"/>
<path d="M1106.3,457.4 L1106.3,472.6 M1102.7,457.4 L1109.9,457.4 M1102.7,472.6 L1109.9,472.6" stroke="#111" stroke-width="2.2" fill="none"/>
<path d="M1131.5,441.4 L1131.5,464.6 M1127.9,441.4 L1135.1,441.4 M1127.9,464.6 L1135.1,464.6" stroke="#111" stroke-width="2.2" fill="none"/>
<path d="M1156.8,474.4 L1156.8,491.1 M1153.2,474.4 L1160.4,474.4 M1153.2,491.1 L1160.4,491.1" stroke="#111" stroke-width="2.2" fill="none"/>
<path d="M1207.5,448.7 L1207.5,459.6 M1203.9,448.7 L1211.1,448.7 M1203.9,459.6 L1211.1,459.6" stroke="#111" stroke-width="2.2" fill="none"/>
<path d="M1232.7,433.1 L1232.7,464.3 M1229.1,433.1 L1236.3,433.1 M1229.1,464.3 L1236.3,464.3" stroke="#111" stroke-width="2.2" fill="none"/>
<g fill="#9c9c9c" fill-opacity="0.7"><circle cx="1308.1" cy="513.6" r="6.6"/><circle cx="1333.2" cy="513.6" r="6.6"/><circle cx="1358.3" cy="513.6" r="6.6"/><circle cx="1358.3" cy="509.4" r="6.6"/><circle cx="1383.8" cy="513.6" r="6.6"/><circle cx="1434.2" cy="513.6" r="6.6"/><circle cx="1434.2" cy="507.4" r="6.6"/><circle cx="1459.6" cy="513.6" r="6.6"/><circle cx="1459.6" cy="512.4" r="6.6"/></g>
<line x1="1300.1" y1="515.4" x2="1467.6" y2="515.4" stroke="#111" stroke-width="1.5"/>
<rect x="1304.5" y="513.4" width="7.2" height="2.8" fill="#111"/>
<rect x="1329.6" y="513.4" width="7.2" height="2.8" fill="#111"/>
<rect x="1354.7" y="513.4" width="7.2" height="2.8" fill="#111"/>
<rect x="1380.2" y="513.4" width="7.2" height="2.8" fill="#111"/>
<rect x="1430.6" y="513.4" width="7.2" height="2.8" fill="#111"/>
<rect x="1456" y="513.4" width="7.2" height="2.8" fill="#111"/>
<text x="1144.8" y="377" font-size="26" text-anchor="middle">*</text>
<polyline points="1132.5,390.4 1132.5,381.3 1157.2,381.3 1157.2,420.5" fill="none" stroke="#000" stroke-width="2.6"/>
<text x="1220.3" y="396.4" font-size="21" text-anchor="middle">NS</text>
<line x1="1206.8" y1="405.4" x2="1231.9" y2="405.4" stroke="#000" stroke-width="2.6"/>
<text x="1386.3" y="477.1" font-size="21" text-anchor="middle">NS</text>
<line x1="1309.1" y1="488.3" x2="1459" y2="488.3" stroke="#000" stroke-width="2.8"/>
<text x="1078.8" y="540.9" font-size="21" text-anchor="middle"><tspan font-family='"Liberation Serif", serif'>γ</tspan>2</text>
<text x="1107.6" y="540.9" font-size="21" text-anchor="middle"><tspan font-family='"Liberation Serif", serif'>γ</tspan>3</text>
<text x="1132.5" y="540.9" font-size="21" text-anchor="middle"><tspan font-family='"Liberation Serif", serif'>γ</tspan>4</text>
<text x="1158.4" y="540.9" font-size="21" text-anchor="middle"><tspan font-family='"Liberation Serif", serif'>γ</tspan>5</text>
<text x="1208.5" y="540.9" font-size="21" text-anchor="middle"><tspan font-family='"Liberation Serif", serif'>β</tspan>’1</text>
<text x="1239.3" y="540.9" font-size="21" text-anchor="middle"><tspan font-family='"Liberation Serif", serif'>β</tspan>’2</text>
<text x="1307.6" y="540.9" font-size="21" text-anchor="middle"><tspan font-family='"Liberation Serif", serif'>γ</tspan>2</text>
<text x="1333.5" y="540.9" font-size="21" text-anchor="middle"><tspan font-family='"Liberation Serif", serif'>γ</tspan>3</text>
<text x="1358.3" y="540.9" font-size="21" text-anchor="middle"><tspan font-family='"Liberation Serif", serif'>γ</tspan>4</text>
<text x="1384" y="540.9" font-size="21" text-anchor="middle"><tspan font-family='"Liberation Serif", serif'>γ</tspan>5</text>
<text x="1434.3" y="540.9" font-size="21" text-anchor="middle"><tspan font-family='"Liberation Serif", serif'>β</tspan>’1</text>
<text x="1470.4" y="540.9" font-size="21" text-anchor="middle"><tspan font-family='"Liberation Serif", serif'>β</tspan>’2</text>
<text x="987" y="612.7" font-size="26.5" font-weight="bold">e3</text>
<text x="1140.7" y="608.8" font-size="27.2">n = 9</text>
<text x="1358.7" y="608.8" font-size="27.2">n = 5</text>
<line x1="1054.2" y1="598.5" x2="1054.2" y2="784.6" stroke="#333" stroke-width="1.3"/>
<line x1="1048" y1="781.1" x2="1489" y2="781.1" stroke="#111" stroke-width="1.5"/>
<line x1="1048.2" y1="781.1" x2="1054.2" y2="781.1" stroke="#333" stroke-width="1.3"/>
<text x="1040.2" y="788.3" font-size="21" text-anchor="end">0</text>
<line x1="1048.2" y1="707.9" x2="1054.2" y2="707.9" stroke="#333" stroke-width="1.3"/>
<text x="1040.2" y="715.1" font-size="21" text-anchor="end">1</text>
<line x1="1048.2" y1="634.7" x2="1054.2" y2="634.7" stroke="#333" stroke-width="1.3"/>
<text x="1040.2" y="641.9" font-size="21" text-anchor="end">2</text>
<text x="1006" y="695" font-size="23.5" text-anchor="middle" transform="rotate(-90 1006 695)">ΔF/F<tspan font-size="15.51" dy="5.17">0</tspan></text>
<rect x="1070.2" y="702" width="20.3" height="79.1" fill="#8b0c0c" stroke="#222" stroke-width="0.9"/>
<rect x="1096.1" y="713.8" width="20.3" height="67.3" fill="#cc0b0b" stroke="#222" stroke-width="0.9"/>
<rect x="1121.3" y="737.5" width="20.3" height="43.6" fill="#fb9c9c" stroke="#222" stroke-width="0.9"/>
<rect x="1146.6" y="748.4" width="20.3" height="32.7" fill="#f3c56a" stroke="#222" stroke-width="0.9"/>
<rect x="1197.3" y="735" width="20.3" height="46.1" fill="#00009e" stroke="#222" stroke-width="0.9"/>
<rect x="1222.5" y="739.6" width="20.3" height="41.5" fill="#5c74fc" stroke="#222" stroke-width="0.9"/>
<polyline points="1080.4,684.3 1106.3,716.2 1131.5,728.1 1156.8,737" fill="none" stroke="#555" stroke-width="0.6"/><polyline points="1080.4,709.3 1106.3,749.7 1131.5,743.1 1156.8,738.1" fill="none" stroke="#555" stroke-width="0.6"/><polyline points="1080.4,709.1 1106.3,705.6 1131.5,722 1156.8,758.5" fill="none" stroke="#555" stroke-width="0.6"/><polyline points="1080.4,679.1 1106.3,683.5 1131.5,720.5 1156.8,726.7" fill="none" stroke="#555" stroke-width="0.6"/><polyline points="1080.4,681.6 1106.3,671.7 1131.5,734.6 1156.8,748.3" fill="none" stroke="#555" stroke-width="0.6"/><polyline points="1080.4,690.8 1106.3,730.7 1131.5,762.1 1156.8,764.8" fill="none" stroke="#555" stroke-width="0.6"/><polyline points="1080.4,695.1 1106.3,704.9 1131.5,761.9 1156.8,771.6" fill="none" stroke="#555" stroke-width="0.6"/><polyline points="1080.4,707.9 1106.3,717.3 1131.5,738.3 1156.8,735.9" fill="none" stroke="#555" stroke-width="0.6"/><polyline points="1080.4,673.5 1106.3,680.1 1131.5,711.6 1156.8,707.9" fill="none" stroke="#555" stroke-width="0.6"/>
<g fill="#bdbdbd" fill-opacity="0.72"><circle cx="1080.4" cy="684.3" r="6.8"/><circle cx="1106.3" cy="716.2" r="6.8"/><circle cx="1131.5" cy="728.1" r="6.8"/><circle cx="1156.8" cy="737" r="6.8"/><circle cx="1080.4" cy="709.3" r="6.8"/><circle cx="1106.3" cy="749.7" r="6.8"/><circle cx="1131.5" cy="743.1" r="6.8"/><circle cx="1156.8" cy="738.1" r="6.8"/><circle cx="1080.4" cy="709.1" r="6.8"/><circle cx="1106.3" cy="705.6" r="6.8"/><circle cx="1131.5" cy="722" r="6.8"/><circle cx="1156.8" cy="758.5" r="6.8"/><circle cx="1080.4" cy="679.1" r="6.8"/><circle cx="1106.3" cy="683.5" r="6.8"/><circle cx="1131.5" cy="720.5" r="6.8"/><circle cx="1156.8" cy="726.7" r="6.8"/><circle cx="1080.4" cy="681.6" r="6.8"/><circle cx="1106.3" cy="671.7" r="6.8"/><circle cx="1131.5" cy="734.6" r="6.8"/><circle cx="1156.8" cy="748.3" r="6.8"/><circle cx="1080.4" cy="690.8" r="6.8"/><circle cx="1106.3" cy="730.7" r="6.8"/><circle cx="1131.5" cy="762.1" r="6.8"/><circle cx="1156.8" cy="764.8" r="6.8"/><circle cx="1080.4" cy="695.1" r="6.8"/><circle cx="1106.3" cy="704.9" r="6.8"/><circle cx="1131.5" cy="761.9" r="6.8"/><circle cx="1156.8" cy="771.6" r="6.8"/><circle cx="1080.4" cy="707.9" r="6.8"/><circle cx="1106.3" cy="717.3" r="6.8"/><circle cx="1131.5" cy="738.3" r="6.8"/><circle cx="1156.8" cy="735.9" r="6.8"/><circle cx="1080.4" cy="673.5" r="6.8"/><circle cx="1106.3" cy="680.1" r="6.8"/><circle cx="1131.5" cy="711.6" r="6.8"/><circle cx="1156.8" cy="707.9" r="6.8"/></g>
<polyline points="1207.5,712.1 1232.7,736.2" fill="none" stroke="#555" stroke-width="0.6"/><polyline points="1207.5,723.6 1232.7,755.9" fill="none" stroke="#555" stroke-width="0.6"/><polyline points="1207.5,756.9 1232.7,736.1" fill="none" stroke="#555" stroke-width="0.6"/><polyline points="1207.5,722.6 1232.7,728.8" fill="none" stroke="#555" stroke-width="0.6"/><polyline points="1207.5,723.9 1232.7,727.9" fill="none" stroke="#555" stroke-width="0.6"/><polyline points="1207.5,719.9 1232.7,765.7" fill="none" stroke="#555" stroke-width="0.6"/><polyline points="1207.5,748.7 1232.7,732.8" fill="none" stroke="#555" stroke-width="0.6"/><polyline points="1207.5,723.9 1232.7,762.1" fill="none" stroke="#555" stroke-width="0.6"/><polyline points="1207.5,705.7 1232.7,713" fill="none" stroke="#555" stroke-width="0.6"/>
<g fill="#bdbdbd" fill-opacity="0.72"><circle cx="1207.5" cy="712.1" r="6.8"/><circle cx="1232.7" cy="736.2" r="6.8"/><circle cx="1207.5" cy="723.6" r="6.8"/><circle cx="1232.7" cy="755.9" r="6.8"/><circle cx="1207.5" cy="756.9" r="6.8"/><circle cx="1232.7" cy="736.1" r="6.8"/><circle cx="1207.5" cy="722.6" r="6.8"/><circle cx="1232.7" cy="728.8" r="6.8"/><circle cx="1207.5" cy="723.9" r="6.8"/><circle cx="1232.7" cy="727.9" r="6.8"/><circle cx="1207.5" cy="719.9" r="6.8"/><circle cx="1232.7" cy="765.7" r="6.8"/><circle cx="1207.5" cy="748.7" r="6.8"/><circle cx="1232.7" cy="732.8" r="6.8"/><circle cx="1207.5" cy="723.9" r="6.8"/><circle cx="1232.7" cy="762.1" r="6.8"/><circle cx="1207.5" cy="705.7" r="6.8"/><circle cx="1232.7" cy="713" r="6.8"/></g>
<path d="M1080.4,694.7 L1080.4,709.4 M1076.8,694.7 L1084,694.7 M1076.8,709.4 L1084,709.4" stroke="#111" stroke-width="2.2" fill="none"/>
<path d="M1106.3,706.4 L1106.3,721.1 M1102.7,706.4 L1109.9,706.4 M1102.7,721.1 L1109.9,721.1" stroke="#111" stroke-width="2.2" fill="none"/>
<path d="M1131.5,731.3 L1131.5,743.8 M1127.9,731.3 L1135.1,731.3 M1127.9,743.8 L1135.1,743.8" stroke="#111" stroke-width="2.2" fill="none"/>
<path d="M1156.8,741.1 L1156.8,755.7 M1153.2,741.1 L1160.4,741.1 M1153.2,755.7 L1160.4,755.7" stroke="#111" stroke-width="2.2" fill="none"/>
<path d="M1207.5,727.7 L1207.5,742.3 M1203.9,727.7 L1211.1,727.7 M1203.9,742.3 L1211.1,742.3" stroke="#111" stroke-width="2.2" fill="none"/>
<path d="M1232.7,733.7 L1232.7,745.5 M1229.1,733.7 L1236.3,733.7 M1229.1,745.5 L1236.3,745.5" stroke="#111" stroke-width="2.2" fill="none"/>
<g fill="#9c9c9c" fill-opacity="0.7"><circle cx="1308.1" cy="779.3" r="6.6"/><circle cx="1333.2" cy="779.3" r="6.6"/><circle cx="1358.3" cy="779.3" r="6.6"/><circle cx="1383.8" cy="779.3" r="6.6"/><circle cx="1434.2" cy="779.3" r="6.6"/><circle cx="1459.6" cy="779.3" r="6.6"/></g>
<line x1="1300.1" y1="781.1" x2="1467.6" y2="781.1" stroke="#111" stroke-width="1.5"/>
<rect x="1304.5" y="779.1" width="7.2" height="2.8" fill="#111"/>
<rect x="1329.6" y="779.1" width="7.2" height="2.8" fill="#111"/>
<rect x="1354.7" y="779.1" width="7.2" height="2.8" fill="#111"/>
<rect x="1380.2" y="779.1" width="7.2" height="2.8" fill="#111"/>
<rect x="1430.6" y="779.1" width="7.2" height="2.8" fill="#111"/>
<rect x="1456" y="779.1" width="7.2" height="2.8" fill="#111"/>
<text x="1116" y="640" font-size="26" text-anchor="middle">**</text>
<path d="M1081.9,653 L1081.9,643.8 L1146.1,643.8 L1146.1,692.3 M1131.9,692.3 L1157.6,692.3" fill="none" stroke="#000" stroke-width="2.6"/>
<text x="1221.2" y="671.5" font-size="21" text-anchor="middle">NS</text>
<line x1="1207.6" y1="681.5" x2="1233" y2="681.5" stroke="#000" stroke-width="2.6"/>
<text x="1386.6" y="743.4" font-size="21" text-anchor="middle">NS</text>
<line x1="1309.9" y1="753.8" x2="1458.7" y2="753.8" stroke="#000" stroke-width="2.8"/>
<text x="1078" y="806.8" font-size="21" text-anchor="middle"><tspan font-family='"Liberation Serif", serif'>γ</tspan>2</text>
<text x="1106.5" y="806.8" font-size="21" text-anchor="middle"><tspan font-family='"Liberation Serif", serif'>γ</tspan>3</text>
<text x="1131.5" y="806.8" font-size="21" text-anchor="middle"><tspan font-family='"Liberation Serif", serif'>γ</tspan>4</text>
<text x="1157.5" y="806.8" font-size="21" text-anchor="middle"><tspan font-family='"Liberation Serif", serif'>γ</tspan>5</text>
<text x="1207.5" y="806.8" font-size="21" text-anchor="middle"><tspan font-family='"Liberation Serif", serif'>β</tspan>’1</text>
<text x="1238.5" y="806.8" font-size="21" text-anchor="middle"><tspan font-family='"Liberation Serif", serif'>β</tspan>’2</text>
<text x="1306.5" y="806.8" font-size="21" text-anchor="middle"><tspan font-family='"Liberation Serif", serif'>γ</tspan>2</text>
<text x="1332.5" y="806.8" font-size="21" text-anchor="middle"><tspan font-family='"Liberation Serif", serif'>γ</tspan>3</text>
<text x="1357.5" y="806.8" font-size="21" text-anchor="middle"><tspan font-family='"Liberation Serif", serif'>γ</tspan>4</text>
<text x="1383" y="806.8" font-size="21" text-anchor="middle"><tspan font-family='"Liberation Serif", serif'>γ</tspan>5</text>
<text x="1433.5" y="806.8" font-size="21" text-anchor="middle"><tspan font-family='"Liberation Serif", serif'>β</tspan>’1</text>
<text x="1469.5" y="806.8" font-size="21" text-anchor="middle"><tspan font-family='"Liberation Serif", serif'>β</tspan>’2</text>
<text x="987" y="895.4" font-size="26.5" font-weight="bold">f3</text>
<text x="1140.7" y="895.4" font-size="27.2">n = 8</text>
<text x="1358.7" y="897.3" font-size="27.2">n = 5</text>
<line x1="1058" y1="887.7" x2="1058" y2="1084.2" stroke="#333" stroke-width="1.3"/>
<line x1="1053" y1="1080.7" x2="1489.4" y2="1080.7" stroke="#111" stroke-width="1.5"/>
<line x1="1052" y1="1080.7" x2="1058" y2="1080.7" stroke="#333" stroke-width="1.3"/>
<text x="1044" y="1087.9" font-size="21" text-anchor="end">0</text>
<line x1="1052" y1="1025.4" x2="1058" y2="1025.4" stroke="#333" stroke-width="1.3"/>
<text x="1044" y="1032.6" font-size="21" text-anchor="end">2</text>
<line x1="1052" y1="970.1" x2="1058" y2="970.1" stroke="#333" stroke-width="1.3"/>
<text x="1044" y="977.3" font-size="21" text-anchor="end">4</text>
<line x1="1052" y1="914.8" x2="1058" y2="914.8" stroke="#333" stroke-width="1.3"/>
<text x="1044" y="922" font-size="21" text-anchor="end">6</text>
<text x="1006" y="995.5" font-size="23.5" text-anchor="middle" transform="rotate(-90 1006 995.5)">ΔF/F<tspan font-size="15.51" dy="5.17">0</tspan></text>
<rect x="1073.2" y="1003.3" width="20.3" height="77.4" fill="#8b0c0c" stroke="#222" stroke-width="0.9"/>
<rect x="1099" y="1016.3" width="20.3" height="64.4" fill="#cc0b0b" stroke="#222" stroke-width="0.9"/>
<rect x="1124.9" y="1016.3" width="20.3" height="64.4" fill="#fb9c9c" stroke="#222" stroke-width="0.9"/>
<rect x="1149.5" y="1009.1" width="20.3" height="71.6" fill="#f3c56a" stroke="#222" stroke-width="0.9"/>
<rect x="1200.8" y="997.8" width="20.3" height="82.9" fill="#00009e" stroke="#222" stroke-width="0.9"/>
<rect x="1226.1" y="1025.4" width="20.3" height="55.3" fill="#5c74fc" stroke="#222" stroke-width="0.9"/>
<polyline points="1083.4,964.7 1109.2,1027.3 1135.1,1023.5 1159.7,1000.6" fill="none" stroke="#555" stroke-width="0.6"/><polyline points="1083.4,978.6 1109.2,1052.1 1135.1,985.6 1159.7,1006.7" fill="none" stroke="#555" stroke-width="0.6"/><polyline points="1083.4,1028.7 1109.2,1023.2 1135.1,1071.4 1159.7,1029.1" fill="none" stroke="#555" stroke-width="0.6"/><polyline points="1083.4,997.3 1109.2,1034 1135.1,1026.4 1159.7,1013.6" fill="none" stroke="#555" stroke-width="0.6"/><polyline points="1083.4,1001.7 1109.2,990.7 1135.1,1017 1159.7,1017.1" fill="none" stroke="#555" stroke-width="0.6"/><polyline points="1083.4,985.5 1109.2,964.3 1135.1,1026.9 1159.7,993.2" fill="none" stroke="#555" stroke-width="0.6"/><polyline points="1083.4,1055.2 1109.2,982.6 1135.1,995.9 1159.7,967.8" fill="none" stroke="#555" stroke-width="0.6"/><polyline points="1083.4,920.3 1109.2,974.2 1135.1,949.4 1159.7,945.2" fill="none" stroke="#555" stroke-width="0.6"/>
<g fill="#bdbdbd" fill-opacity="0.72"><circle cx="1083.4" cy="964.7" r="6.8"/><circle cx="1109.2" cy="1027.3" r="6.8"/><circle cx="1135.1" cy="1023.5" r="6.8"/><circle cx="1159.7" cy="1000.6" r="6.8"/><circle cx="1083.4" cy="978.6" r="6.8"/><circle cx="1109.2" cy="1052.1" r="6.8"/><circle cx="1135.1" cy="985.6" r="6.8"/><circle cx="1159.7" cy="1006.7" r="6.8"/><circle cx="1083.4" cy="1028.7" r="6.8"/><circle cx="1109.2" cy="1023.2" r="6.8"/><circle cx="1135.1" cy="1071.4" r="6.8"/><circle cx="1159.7" cy="1029.1" r="6.8"/><circle cx="1083.4" cy="997.3" r="6.8"/><circle cx="1109.2" cy="1034" r="6.8"/><circle cx="1135.1" cy="1026.4" r="6.8"/><circle cx="1159.7" cy="1013.6" r="6.8"/><circle cx="1083.4" cy="1001.7" r="6.8"/><circle cx="1109.2" cy="990.7" r="6.8"/><circle cx="1135.1" cy="1017" r="6.8"/><circle cx="1159.7" cy="1017.1" r="6.8"/><circle cx="1083.4" cy="985.5" r="6.8"/><circle cx="1109.2" cy="964.3" r="6.8"/><circle cx="1135.1" cy="1026.9" r="6.8"/><circle cx="1159.7" cy="993.2" r="6.8"/><circle cx="1083.4" cy="1055.2" r="6.8"/><circle cx="1109.2" cy="982.6" r="6.8"/><circle cx="1135.1" cy="995.9" r="6.8"/><circle cx="1159.7" cy="967.8" r="6.8"/><circle cx="1083.4" cy="920.3" r="6.8"/><circle cx="1109.2" cy="974.2" r="6.8"/><circle cx="1135.1" cy="949.4" r="6.8"/><circle cx="1159.7" cy="945.2" r="6.8"/></g>
<polyline points="1210.9,999.3 1236.3,1048.1" fill="none" stroke="#555" stroke-width="0.6"/><polyline points="1210.9,974.4 1236.3,1009" fill="none" stroke="#555" stroke-width="0.6"/><polyline points="1210.9,1020.6 1236.3,1057.4" fill="none" stroke="#555" stroke-width="0.6"/><polyline points="1210.9,985.9 1236.3,1029.1" fill="none" stroke="#555" stroke-width="0.6"/><polyline points="1210.9,929 1236.3,1038.7" fill="none" stroke="#555" stroke-width="0.6"/><polyline points="1210.9,1011.7 1236.3,1027.8" fill="none" stroke="#555" stroke-width="0.6"/><polyline points="1210.9,1041.6 1236.3,1044.7" fill="none" stroke="#555" stroke-width="0.6"/><polyline points="1210.9,949.4 1236.3,993.6" fill="none" stroke="#555" stroke-width="0.6"/>
<g fill="#bdbdbd" fill-opacity="0.72"><circle cx="1210.9" cy="999.3" r="6.8"/><circle cx="1236.3" cy="1048.1" r="6.8"/><circle cx="1210.9" cy="974.4" r="6.8"/><circle cx="1236.3" cy="1009" r="6.8"/><circle cx="1210.9" cy="1020.6" r="6.8"/><circle cx="1236.3" cy="1057.4" r="6.8"/><circle cx="1210.9" cy="985.9" r="6.8"/><circle cx="1236.3" cy="1029.1" r="6.8"/><circle cx="1210.9" cy="929" r="6.8"/><circle cx="1236.3" cy="1038.7" r="6.8"/><circle cx="1210.9" cy="1011.7" r="6.8"/><circle cx="1236.3" cy="1027.8" r="6.8"/><circle cx="1210.9" cy="1041.6" r="6.8"/><circle cx="1236.3" cy="1044.7" r="6.8"/><circle cx="1210.9" cy="949.4" r="6.8"/><circle cx="1236.3" cy="993.6" r="6.8"/></g>
<path d="M1083.4,989.5 L1083.4,1017.1 M1079.8,989.5 L1087,989.5 M1079.8,1017.1 L1087,1017.1" stroke="#111" stroke-width="2.2" fill="none"/>
<path d="M1109.2,1005.8 L1109.2,1026.8 M1105.6,1005.8 L1112.8,1005.8 M1105.6,1026.8 L1112.8,1026.8" stroke="#111" stroke-width="2.2" fill="none"/>
<path d="M1135.1,1003.3 L1135.1,1029.3 M1131.5,1003.3 L1138.7,1003.3 M1131.5,1029.3 L1138.7,1029.3" stroke="#111" stroke-width="2.2" fill="none"/>
<path d="M1159.7,996.1 L1159.7,1022.1 M1156.1,996.1 L1163.3,996.1 M1156.1,1022.1 L1163.3,1022.1" stroke="#111" stroke-width="2.2" fill="none"/>
<path d="M1210.9,986.7 L1210.9,1008.8 M1207.3,986.7 L1214.5,986.7 M1207.3,1008.8 L1214.5,1008.8" stroke="#111" stroke-width="2.2" fill="none"/>
<path d="M1236.3,1016.3 L1236.3,1034.5 M1232.7,1016.3 L1239.9,1016.3 M1232.7,1034.5 L1239.9,1034.5" stroke="#111" stroke-width="2.2" fill="none"/>
<g fill="#9c9c9c" fill-opacity="0.7"><circle cx="1311.4" cy="1078.9" r="6.6"/><circle cx="1337.6" cy="1078.9" r="6.6"/><circle cx="1337.6" cy="1076.7" r="6.6"/><circle cx="1362.5" cy="1078.9" r="6.6"/><circle cx="1388.3" cy="1078.9" r="6.6"/><circle cx="1437.5" cy="1078.9" r="6.6"/><circle cx="1463.7" cy="1078.9" r="6.6"/></g>
<line x1="1303.4" y1="1080.7" x2="1471.7" y2="1080.7" stroke="#111" stroke-width="1.5"/>
<rect x="1307.8" y="1078.7" width="7.2" height="2.8" fill="#111"/>
<rect x="1334" y="1078.7" width="7.2" height="2.8" fill="#111"/>
<rect x="1358.9" y="1078.7" width="7.2" height="2.8" fill="#111"/>
<rect x="1384.7" y="1078.7" width="7.2" height="2.8" fill="#111"/>
<rect x="1433.9" y="1078.7" width="7.2" height="2.8" fill="#111"/>
<rect x="1460.1" y="1078.7" width="7.2" height="2.8" fill="#111"/>
<text x="1126.1" y="923.4" font-size="21" text-anchor="middle">NS</text>
<line x1="1083" y1="934.2" x2="1162.6" y2="934.2" stroke="#000" stroke-width="2.6"/>
<text x="1223.2" y="923.4" font-size="21" text-anchor="middle">NS</text>
<line x1="1210.7" y1="934.2" x2="1236.4" y2="934.2" stroke="#000" stroke-width="2.6"/>
<text x="1390.4" y="1041.5" font-size="21" text-anchor="middle">NS</text>
<line x1="1313.3" y1="1051.8" x2="1463.3" y2="1051.8" stroke="#000" stroke-width="2.8"/>
<text x="1082" y="1108" font-size="21" text-anchor="middle"><tspan font-family='"Liberation Serif", serif'>γ</tspan>2</text>
<text x="1110.5" y="1108" font-size="21" text-anchor="middle"><tspan font-family='"Liberation Serif", serif'>γ</tspan>3</text>
<text x="1135.5" y="1108" font-size="21" text-anchor="middle"><tspan font-family='"Liberation Serif", serif'>γ</tspan>4</text>
<text x="1161.5" y="1108" font-size="21" text-anchor="middle"><tspan font-family='"Liberation Serif", serif'>γ</tspan>5</text>
<text x="1211.5" y="1108" font-size="21" text-anchor="middle"><tspan font-family='"Liberation Serif", serif'>β</tspan>’1</text>
<text x="1242.5" y="1108" font-size="21" text-anchor="middle"><tspan font-family='"Liberation Serif", serif'>β</tspan>’2</text>
<text x="1310.5" y="1108" font-size="21" text-anchor="middle"><tspan font-family='"Liberation Serif", serif'>γ</tspan>2</text>
<text x="1336.5" y="1108" font-size="21" text-anchor="middle"><tspan font-family='"Liberation Serif", serif'>γ</tspan>3</text>
<text x="1361.5" y="1108" font-size="21" text-anchor="middle"><tspan font-family='"Liberation Serif", serif'>γ</tspan>4</text>
<text x="1387" y="1108" font-size="21" text-anchor="middle"><tspan font-family='"Liberation Serif", serif'>γ</tspan>5</text>
<text x="1437.5" y="1108" font-size="21" text-anchor="middle"><tspan font-family='"Liberation Serif", serif'>β</tspan>’1</text>
<text x="1473.5" y="1108" font-size="21" text-anchor="middle"><tspan font-family='"Liberation Serif", serif'>β</tspan>’2</text>
<text x="29.6" y="1157" font-size="26.5" font-weight="bold">g</text>
<text x="98.7" y="1176.5" font-size="24.5">1 s Odor</text>
<rect x="131.9" y="1190" width="13.7" height="176.2" fill="#e2e2e2"/>
<line x1="91.2" y1="1176" x2="91.2" y2="1366.2" stroke="#333" stroke-width="1.3"/>
<line x1="91.2" y1="1366.2" x2="309.5" y2="1366.2" stroke="#333" stroke-width="1.3"/>
<line x1="87.7" y1="1207.9" x2="91.2" y2="1207.9" stroke="#333" stroke-width="1.2"/>
<line x1="87.7" y1="1275.2" x2="91.2" y2="1275.2" stroke="#333" stroke-width="1.2"/>
<line x1="87.7" y1="1341" x2="91.2" y2="1341" stroke="#333" stroke-width="1.2"/>
<text x="84.2" y="1216.7" font-size="23.5" text-anchor="end">0.8</text>
<text x="84.2" y="1284" font-size="23.5" text-anchor="end">0.4</text>
<text x="84.2" y="1349.8" font-size="23.5" text-anchor="end">0.0</text>
<line x1="131.9" y1="1366.2" x2="131.9" y2="1369.7" stroke="#333" stroke-width="1.2"/>
<text x="131.9" y="1393.4" font-size="23.5" text-anchor="middle">0</text>
<line x1="200.4" y1="1366.2" x2="200.4" y2="1369.7" stroke="#333" stroke-width="1.2"/>
<text x="200.35" y="1393.4" font-size="23.5" text-anchor="middle">5</text>
<line x1="268.8" y1="1366.2" x2="268.8" y2="1369.7" stroke="#333" stroke-width="1.2"/>
<text x="268.8" y="1393.4" font-size="23.5" text-anchor="middle">10</text>
<text x="195.7" y="1426.4" font-size="27.3" text-anchor="middle">Time (s)</text>
<text x="40.2" y="1272" font-size="27" text-anchor="middle" transform="rotate(-90 40.2 1272)">ΔF/F<tspan font-size="17.82" dy="5.94">0</tspan></text>
<g fill="#f59c9c" fill-opacity="0.85"><rect x="90.1" y="1328.3" width="4.2" height="4.2"/><rect x="91.8" y="1325.9" width="4.2" height="4.2"/><rect x="93.5" y="1335.4" width="4.2" height="4.2"/><rect x="95.2" y="1326.7" width="4.2" height="4.2"/><rect x="96.9" y="1332" width="4.2" height="4.2"/><rect x="98.7" y="1334.6" width="4.2" height="4.2"/><rect x="100.4" y="1335.3" width="4.2" height="4.2"/><rect x="102.1" y="1336.6" width="4.2" height="4.2"/><rect x="103.8" y="1335" width="4.2" height="4.2"/><rect x="105.5" y="1332.7" width="4.2" height="4.2"/><rect x="107.2" y="1334" width="4.2" height="4.2"/><rect x="108.9" y="1334.5" width="4.2" height="4.2"/><rect x="110.6" y="1341.4" width="4.2" height="4.2"/><rect x="112.3" y="1341.7" width="4.2" height="4.2"/><rect x="114.1" y="1334" width="4.2" height="4.2"/><rect x="115.8" y="1336.2" width="4.2" height="4.2"/><rect x="117.5" y="1333.5" width="4.2" height="4.2"/><rect x="119.2" y="1336.8" width="4.2" height="4.2"/><rect x="120.9" y="1343.4" width="4.2" height="4.2"/><rect x="122.6" y="1337.8" width="4.2" height="4.2"/><rect x="124.3" y="1342.3" width="4.2" height="4.2"/><rect x="126" y="1343.4" width="4.2" height="4.2"/><rect x="127.7" y="1346.2" width="4.2" height="4.2"/><rect x="129.5" y="1343.9" width="4.2" height="4.2"/><rect x="131.2" y="1328.9" width="4.2" height="4.2"/><rect x="132.9" y="1309" width="4.2" height="4.2"/><rect x="134.6" y="1296.3" width="4.2" height="4.2"/><rect x="136.3" y="1279.4" width="4.2" height="4.2"/><rect x="138" y="1274.5" width="4.2" height="4.2"/><rect x="139.7" y="1261.4" width="4.2" height="4.2"/><rect x="141.4" y="1252.8" width="4.2" height="4.2"/><rect x="143.1" y="1249.1" width="4.2" height="4.2"/><rect x="144.9" y="1243.5" width="4.2" height="4.2"/><rect x="146.6" y="1232" width="4.2" height="4.2"/><rect x="148.3" y="1228.4" width="4.2" height="4.2"/><rect x="150" y="1226" width="4.2" height="4.2"/><rect x="151.7" y="1220.8" width="4.2" height="4.2"/><rect x="153.4" y="1220.5" width="4.2" height="4.2"/><rect x="155.1" y="1215.2" width="4.2" height="4.2"/><rect x="156.8" y="1209.7" width="4.2" height="4.2"/><rect x="158.5" y="1213.5" width="4.2" height="4.2"/><rect x="160.3" y="1217" width="4.2" height="4.2"/><rect x="162" y="1226" width="4.2" height="4.2"/><rect x="163.7" y="1228" width="4.2" height="4.2"/><rect x="165.4" y="1238" width="4.2" height="4.2"/><rect x="167.1" y="1240.8" width="4.2" height="4.2"/><rect x="168.8" y="1248.3" width="4.2" height="4.2"/><rect x="170.5" y="1249.3" width="4.2" height="4.2"/><rect x="172.2" y="1253" width="4.2" height="4.2"/><rect x="174" y="1257.8" width="4.2" height="4.2"/><rect x="175.7" y="1261.9" width="4.2" height="4.2"/><rect x="177.4" y="1261.3" width="4.2" height="4.2"/><rect x="179.1" y="1264.6" width="4.2" height="4.2"/><rect x="180.8" y="1275.1" width="4.2" height="4.2"/><rect x="182.5" y="1272" width="4.2" height="4.2"/><rect x="184.2" y="1282.9" width="4.2" height="4.2"/><rect x="185.9" y="1283.3" width="4.2" height="4.2"/><rect x="187.6" y="1284.7" width="4.2" height="4.2"/><rect x="189.4" y="1286.7" width="4.2" height="4.2"/><rect x="191.1" y="1292.5" width="4.2" height="4.2"/><rect x="192.8" y="1294.2" width="4.2" height="4.2"/><rect x="194.5" y="1294.5" width="4.2" height="4.2"/><rect x="196.2" y="1298.9" width="4.2" height="4.2"/><rect x="197.9" y="1301" width="4.2" height="4.2"/><rect x="199.6" y="1299.7" width="4.2" height="4.2"/><rect x="201.3" y="1301" width="4.2" height="4.2"/><rect x="203" y="1305.7" width="4.2" height="4.2"/><rect x="204.8" y="1307.4" width="4.2" height="4.2"/><rect x="206.5" y="1309.3" width="4.2" height="4.2"/><rect x="208.2" y="1312.3" width="4.2" height="4.2"/><rect x="209.9" y="1314.1" width="4.2" height="4.2"/><rect x="211.6" y="1317.1" width="4.2" height="4.2"/><rect x="213.3" y="1314.1" width="4.2" height="4.2"/><rect x="215" y="1317.6" width="4.2" height="4.2"/><rect x="216.7" y="1319.2" width="4.2" height="4.2"/><rect x="218.4" y="1319.6" width="4.2" height="4.2"/><rect x="220.2" y="1320.1" width="4.2" height="4.2"/><rect x="221.9" y="1318.9" width="4.2" height="4.2"/><rect x="223.6" y="1324.7" width="4.2" height="4.2"/><rect x="225.3" y="1326.2" width="4.2" height="4.2"/><rect x="227" y="1325.7" width="4.2" height="4.2"/><rect x="228.7" y="1329.6" width="4.2" height="4.2"/><rect x="230.4" y="1324.9" width="4.2" height="4.2"/><rect x="232.1" y="1326.8" width="4.2" height="4.2"/><rect x="233.8" y="1328.4" width="4.2" height="4.2"/><rect x="235.6" y="1331.5" width="4.2" height="4.2"/><rect x="237.3" y="1330" width="4.2" height="4.2"/><rect x="239" y="1330" width="4.2" height="4.2"/><rect x="240.7" y="1332.3" width="4.2" height="4.2"/><rect x="242.4" y="1335.2" width="4.2" height="4.2"/><rect x="244.1" y="1339.7" width="4.2" height="4.2"/><rect x="245.8" y="1333.3" width="4.2" height="4.2"/><rect x="247.5" y="1337.5" width="4.2" height="4.2"/><rect x="249.2" y="1339.4" width="4.2" height="4.2"/><rect x="251" y="1335.4" width="4.2" height="4.2"/><rect x="252.7" y="1337.5" width="4.2" height="4.2"/><rect x="254.4" y="1342.8" width="4.2" height="4.2"/><rect x="256.1" y="1339.8" width="4.2" height="4.2"/><rect x="257.8" y="1340.7" width="4.2" height="4.2"/><rect x="259.5" y="1337.9" width="4.2" height="4.2"/><rect x="261.2" y="1346.1" width="4.2" height="4.2"/><rect x="262.9" y="1342.5" width="4.2" height="4.2"/><rect x="264.6" y="1342.3" width="4.2" height="4.2"/><rect x="266.4" y="1338.5" width="4.2" height="4.2"/><rect x="268.1" y="1345.7" width="4.2" height="4.2"/><rect x="269.8" y="1351.1" width="4.2" height="4.2"/><rect x="271.5" y="1347.2" width="4.2" height="4.2"/><rect x="273.2" y="1343.2" width="4.2" height="4.2"/><rect x="274.9" y="1342" width="4.2" height="4.2"/><rect x="276.6" y="1339.9" width="4.2" height="4.2"/><rect x="278.3" y="1343.8" width="4.2" height="4.2"/><rect x="280" y="1347.3" width="4.2" height="4.2"/><rect x="281.8" y="1343.1" width="4.2" height="4.2"/><rect x="283.5" y="1345.8" width="4.2" height="4.2"/><rect x="285.2" y="1346.6" width="4.2" height="4.2"/><rect x="286.9" y="1346.2" width="4.2" height="4.2"/><rect x="288.6" y="1343.1" width="4.2" height="4.2"/><rect x="290.3" y="1349.2" width="4.2" height="4.2"/><rect x="292" y="1349.8" width="4.2" height="4.2"/></g>
<polyline points="131.5,1351 132.2,1342.8 132.9,1335.1 133.5,1327.7 134.2,1320.8 134.9,1314.2 135.6,1308 136.3,1302.1 137,1296.5 137.6,1291.3 138.3,1286.3 139,1281.6 139.7,1277.1 140.4,1272.9 141.1,1268.9 141.8,1265.1 142.4,1261.6 143.1,1258.2 143.8,1255 144.5,1252 145.2,1249.1 145.9,1246.4 146.5,1243.9 147.2,1241.5 147.9,1239.2 148.6,1237 149.3,1235 150,1233 150.7,1231.2 151.3,1229.5 152,1227.8 152.7,1226.3 153.4,1224.8 154.1,1223.4 154.8,1222.1 155.4,1220.9 156.1,1219.7 156.8,1218.6 157.5,1217.5 158.2,1216.5" fill="none" stroke="#000" stroke-width="1.7"/>
<polyline points="159.3,1211.4 161,1217.3 162.7,1222.9 164.5,1228.3 166.2,1233.5 167.9,1238.5 169.6,1243.3 171.3,1247.8 173.1,1252.2 174.8,1256.4 176.5,1260.5 178.2,1264.3 180,1268 181.7,1271.6 183.4,1275 185.1,1278.3 186.9,1281.4 188.6,1284.4 190.3,1287.3 192,1290 193.8,1292.7 195.5,1295.2 197.2,1297.7 198.9,1300 200.7,1302.2 202.4,1304.4 204.1,1306.4 205.8,1308.4 207.6,1310.3 209.3,1312.1 211,1313.9 212.7,1315.5 214.5,1317.1 216.2,1318.7 217.9,1320.1 219.6,1321.6 221.4,1322.9 223.1,1324.2 224.8,1325.4 226.5,1326.6 228.2,1327.8 230,1328.9 231.7,1329.9 233.4,1330.9 235.1,1331.9 236.9,1332.8 238.6,1333.7 240.3,1334.6 242,1335.4 243.8,1336.2 245.5,1336.9 247.2,1337.7 248.9,1338.3 250.7,1339 252.4,1339.6 254.1,1340.3 255.8,1340.8 257.6,1341.4 259.3,1341.9 261,1342.4 262.7,1342.9 264.5,1343.4 266.2,1343.9 267.9,1344.3 269.6,1344.7 271.4,1345.1 273.1,1345.5 274.8,1345.9 276.5,1346.2 278.3,1346.6 280,1346.9 281.7,1347.2 283.4,1347.5 285.2,1347.8 286.9,1348.1 288.6,1348.3 290.3,1348.6 292,1348.8 293.8,1349.1 295.5,1349.3" fill="none" stroke="#000" stroke-width="1.7"/>
<text x="199.7" y="1225" font-size="23" fill="#f59c9c"><tspan font-family='"Liberation Serif", serif'>γ</tspan>4</text>
<text x="216.6" y="1269.4" font-size="24"><tspan font-family='"Liberation Serif", serif' font-size="27.6">τ</tspan><tspan font-size="16.32">off</tspan></text>
<text x="216.6" y="1297.1" font-size="24.7">3.0 s</text>
<text x="148.7" y="1329.7" font-size="24"><tspan font-family='"Liberation Serif", serif' font-size="27.6">τ</tspan><tspan font-size="16.32">on</tspan></text>
<text x="148.7" y="1357.2" font-size="24.7">0.9 s</text>
<text x="767.1" y="1158.9" font-size="26.5" font-weight="bold">h</text>
<text x="846.7" y="1176.5" font-size="24.5">0.5 s Shock</text>
<rect x="884.4" y="1190" width="7.5" height="176.2" fill="#e2e2e2"/>
<line x1="843.5" y1="1176" x2="843.5" y2="1366.2" stroke="#333" stroke-width="1.3"/>
<line x1="843.5" y1="1366.2" x2="1061.6" y2="1366.2" stroke="#333" stroke-width="1.3"/>
<line x1="840" y1="1209.1" x2="843.5" y2="1209.1" stroke="#333" stroke-width="1.2"/>
<line x1="840" y1="1275.7" x2="843.5" y2="1275.7" stroke="#333" stroke-width="1.2"/>
<line x1="840" y1="1341.8" x2="843.5" y2="1341.8" stroke="#333" stroke-width="1.2"/>
<text x="836.5" y="1216.7" font-size="23.5" text-anchor="end">1.5</text>
<text x="836.5" y="1260.7" font-size="23.5" text-anchor="end">1.0</text>
<text x="836.5" y="1308.4" font-size="23.5" text-anchor="end">0.5</text>
<text x="836.5" y="1349.8" font-size="23.5" text-anchor="end">0.0</text>
<line x1="884.4" y1="1366.2" x2="884.4" y2="1369.7" stroke="#333" stroke-width="1.2"/>
<text x="884.4" y="1393.4" font-size="23.5" text-anchor="middle">0</text>
<line x1="952.6" y1="1366.2" x2="952.6" y2="1369.7" stroke="#333" stroke-width="1.2"/>
<text x="952.65" y="1393.4" font-size="23.5" text-anchor="middle">5</text>
<line x1="1020.9" y1="1366.2" x2="1020.9" y2="1369.7" stroke="#333" stroke-width="1.2"/>
<text x="1020.9" y="1393.4" font-size="23.5" text-anchor="middle">10</text>
<text x="944.5" y="1426.4" font-size="27.3" text-anchor="middle">Time (s)</text>
<text x="792" y="1272" font-size="27" text-anchor="middle" transform="rotate(-90 792 1272)">ΔF/F<tspan font-size="17.82" dy="5.94">0</tspan></text>
<g fill="#a82828" fill-opacity="0.85"><rect x="842.7" y="1340.8" width="4.2" height="4.2"/><rect x="844.4" y="1340.8" width="4.2" height="4.2"/><rect x="846.1" y="1343.1" width="4.2" height="4.2"/><rect x="847.8" y="1343.3" width="4.2" height="4.2"/><rect x="849.5" y="1339.4" width="4.2" height="4.2"/><rect x="851.2" y="1336.4" width="4.2" height="4.2"/><rect x="853" y="1338.4" width="4.2" height="4.2"/><rect x="854.7" y="1338.5" width="4.2" height="4.2"/><rect x="856.4" y="1336.7" width="4.2" height="4.2"/><rect x="858.1" y="1346.8" width="4.2" height="4.2"/><rect x="859.8" y="1345.3" width="4.2" height="4.2"/><rect x="861.5" y="1342.8" width="4.2" height="4.2"/><rect x="863.2" y="1344.3" width="4.2" height="4.2"/><rect x="864.9" y="1343.7" width="4.2" height="4.2"/><rect x="866.6" y="1340.4" width="4.2" height="4.2"/><rect x="868.3" y="1344.6" width="4.2" height="4.2"/><rect x="870" y="1342" width="4.2" height="4.2"/><rect x="871.7" y="1346.9" width="4.2" height="4.2"/><rect x="873.4" y="1343.6" width="4.2" height="4.2"/><rect x="875.1" y="1336.4" width="4.2" height="4.2"/><rect x="876.8" y="1342.3" width="4.2" height="4.2"/><rect x="878.5" y="1339.6" width="4.2" height="4.2"/><rect x="880.3" y="1338.4" width="4.2" height="4.2"/><rect x="882" y="1342.1" width="4.2" height="4.2"/><rect x="883.7" y="1337.5" width="4.2" height="4.2"/><rect x="885.4" y="1320.7" width="4.2" height="4.2"/><rect x="887.1" y="1303.6" width="4.2" height="4.2"/><rect x="888.8" y="1294.1" width="4.2" height="4.2"/><rect x="890.5" y="1284.8" width="4.2" height="4.2"/><rect x="892.2" y="1273.1" width="4.2" height="4.2"/><rect x="893.9" y="1262.7" width="4.2" height="4.2"/><rect x="895.6" y="1251.5" width="4.2" height="4.2"/><rect x="897.3" y="1247" width="4.2" height="4.2"/><rect x="899" y="1241.7" width="4.2" height="4.2"/><rect x="900.7" y="1235.9" width="4.2" height="4.2"/><rect x="902.4" y="1227.4" width="4.2" height="4.2"/><rect x="904.1" y="1228.7" width="4.2" height="4.2"/><rect x="905.8" y="1225.4" width="4.2" height="4.2"/><rect x="907.6" y="1241.1" width="4.2" height="4.2"/><rect x="909.3" y="1245.8" width="4.2" height="4.2"/><rect x="911" y="1247.6" width="4.2" height="4.2"/><rect x="912.7" y="1254.5" width="4.2" height="4.2"/><rect x="914.4" y="1264.3" width="4.2" height="4.2"/><rect x="916.1" y="1267.2" width="4.2" height="4.2"/><rect x="917.8" y="1273.9" width="4.2" height="4.2"/><rect x="919.5" y="1273.6" width="4.2" height="4.2"/><rect x="921.2" y="1278.8" width="4.2" height="4.2"/><rect x="922.9" y="1286.6" width="4.2" height="4.2"/><rect x="924.6" y="1286.9" width="4.2" height="4.2"/><rect x="926.3" y="1292.8" width="4.2" height="4.2"/><rect x="928" y="1295.1" width="4.2" height="4.2"/><rect x="929.7" y="1297.7" width="4.2" height="4.2"/><rect x="931.4" y="1302.5" width="4.2" height="4.2"/><rect x="933.1" y="1302.1" width="4.2" height="4.2"/><rect x="934.9" y="1304.5" width="4.2" height="4.2"/><rect x="936.6" y="1307" width="4.2" height="4.2"/><rect x="938.3" y="1307.1" width="4.2" height="4.2"/><rect x="940" y="1313.4" width="4.2" height="4.2"/><rect x="941.7" y="1319.1" width="4.2" height="4.2"/><rect x="943.4" y="1317.8" width="4.2" height="4.2"/><rect x="945.1" y="1317.3" width="4.2" height="4.2"/><rect x="946.8" y="1319.5" width="4.2" height="4.2"/><rect x="948.5" y="1319.2" width="4.2" height="4.2"/><rect x="950.2" y="1319.9" width="4.2" height="4.2"/><rect x="951.9" y="1324.1" width="4.2" height="4.2"/><rect x="953.6" y="1325.3" width="4.2" height="4.2"/><rect x="955.3" y="1329.1" width="4.2" height="4.2"/><rect x="957" y="1323.9" width="4.2" height="4.2"/><rect x="958.7" y="1329" width="4.2" height="4.2"/><rect x="960.4" y="1332.4" width="4.2" height="4.2"/><rect x="962.2" y="1333.4" width="4.2" height="4.2"/><rect x="963.9" y="1332.1" width="4.2" height="4.2"/><rect x="965.6" y="1326.7" width="4.2" height="4.2"/><rect x="967.3" y="1329.8" width="4.2" height="4.2"/><rect x="969" y="1338.2" width="4.2" height="4.2"/><rect x="970.7" y="1333.9" width="4.2" height="4.2"/><rect x="972.4" y="1333.3" width="4.2" height="4.2"/><rect x="974.1" y="1332.7" width="4.2" height="4.2"/><rect x="975.8" y="1334.1" width="4.2" height="4.2"/><rect x="977.5" y="1337.7" width="4.2" height="4.2"/><rect x="979.2" y="1334.9" width="4.2" height="4.2"/><rect x="980.9" y="1338.3" width="4.2" height="4.2"/><rect x="982.6" y="1343.9" width="4.2" height="4.2"/><rect x="984.3" y="1339.5" width="4.2" height="4.2"/><rect x="986" y="1339.8" width="4.2" height="4.2"/><rect x="987.7" y="1335" width="4.2" height="4.2"/><rect x="989.5" y="1335" width="4.2" height="4.2"/><rect x="991.2" y="1341.9" width="4.2" height="4.2"/><rect x="992.9" y="1338.3" width="4.2" height="4.2"/><rect x="994.6" y="1338.8" width="4.2" height="4.2"/><rect x="996.3" y="1343.8" width="4.2" height="4.2"/><rect x="998" y="1346" width="4.2" height="4.2"/><rect x="999.7" y="1340.1" width="4.2" height="4.2"/><rect x="1001.4" y="1339.5" width="4.2" height="4.2"/><rect x="1003.1" y="1342" width="4.2" height="4.2"/><rect x="1004.8" y="1348.8" width="4.2" height="4.2"/><rect x="1006.5" y="1340.6" width="4.2" height="4.2"/><rect x="1008.2" y="1342.4" width="4.2" height="4.2"/><rect x="1009.9" y="1343.5" width="4.2" height="4.2"/><rect x="1011.6" y="1341.9" width="4.2" height="4.2"/><rect x="1013.3" y="1344.5" width="4.2" height="4.2"/><rect x="1015" y="1339.4" width="4.2" height="4.2"/><rect x="1016.8" y="1341.2" width="4.2" height="4.2"/><rect x="1018.5" y="1343.1" width="4.2" height="4.2"/><rect x="1020.2" y="1340.5" width="4.2" height="4.2"/><rect x="1021.9" y="1341.6" width="4.2" height="4.2"/><rect x="1023.6" y="1346.3" width="4.2" height="4.2"/><rect x="1025.3" y="1342.1" width="4.2" height="4.2"/><rect x="1027" y="1343.2" width="4.2" height="4.2"/><rect x="1028.7" y="1347.2" width="4.2" height="4.2"/><rect x="1030.4" y="1343.9" width="4.2" height="4.2"/><rect x="1032.1" y="1340.6" width="4.2" height="4.2"/><rect x="1033.8" y="1343.9" width="4.2" height="4.2"/><rect x="1035.5" y="1337.7" width="4.2" height="4.2"/><rect x="1037.2" y="1336.8" width="4.2" height="4.2"/><rect x="1038.9" y="1343.1" width="4.2" height="4.2"/><rect x="1040.6" y="1340.4" width="4.2" height="4.2"/><rect x="1042.3" y="1336" width="4.2" height="4.2"/><rect x="1044.1" y="1343.3" width="4.2" height="4.2"/><rect x="1045.8" y="1345.1" width="4.2" height="4.2"/><rect x="1047.5" y="1343.6" width="4.2" height="4.2"/><rect x="1049.2" y="1346.6" width="4.2" height="4.2"/><rect x="1050.9" y="1346.6" width="4.2" height="4.2"/><rect x="1052.6" y="1341.8" width="4.2" height="4.2"/></g>
<polyline points="884,1363 884.6,1355.8 885.1,1348.9 885.7,1342.3 886.3,1336 886.8,1330 887.4,1324.2 888,1318.8 888.5,1313.5 889.1,1308.6 889.7,1303.8 890.2,1299.2 890.8,1294.9 891.4,1290.7 891.9,1286.8 892.5,1283 893.1,1279.4 893.6,1275.9 894.2,1272.6 894.8,1269.5 895.3,1266.5 895.9,1263.6 896.5,1260.9 897,1258.2 897.6,1255.7 898.2,1253.4 898.7,1251.1 899.3,1248.9 899.9,1246.8 900.4,1244.8 901,1243 901.6,1241.1 902.1,1239.4 902.7,1237.8 903.3,1236.2 903.8,1234.7 904.4,1233.3 905,1231.9 905.5,1230.6 906.1,1229.3" fill="none" stroke="#000" stroke-width="1.7"/>
<polyline points="907.2,1228.9 909.1,1236.9 910.9,1244.5 912.8,1251.4 914.7,1258 916.6,1264 918.4,1269.6 920.3,1274.9 922.2,1279.7 924,1284.3 925.9,1288.5 927.8,1292.4 929.7,1296.1 931.5,1299.5 933.4,1302.6 935.3,1305.6 937.1,1308.3 939,1310.9 940.9,1313.2 942.7,1315.4 944.6,1317.5 946.5,1319.4 948.4,1321.2 950.2,1322.8 952.1,1324.4 954,1325.8 955.8,1327.1 957.7,1328.4 959.6,1329.5 961.5,1330.6 963.3,1331.6 965.2,1332.5 967.1,1333.4 968.9,1334.2 970.8,1334.9 972.7,1335.6 974.6,1336.3 976.4,1336.9 978.3,1337.4 980.2,1337.9 982,1338.4 983.9,1338.9 985.8,1339.3 987.7,1339.7 989.5,1340 991.4,1340.4 993.3,1340.7 995.1,1341 997,1341.3 998.9,1341.5 1000.8,1341.8 1002.6,1342 1004.5,1342.2 1006.4,1342.4 1008.2,1342.5 1010.1,1342.7 1012,1342.9 1013.9,1343 1015.7,1343.1 1017.6,1343.3 1019.5,1343.4 1021.3,1343.5 1023.2,1343.6 1025.1,1343.7 1027,1343.8 1028.8,1343.8 1030.7,1343.9 1032.6,1344 1034.4,1344 1036.3,1344.1 1038.2,1344.2 1040.1,1344.2 1041.9,1344.3 1043.8,1344.3 1045.7,1344.3 1047.5,1344.4 1049.4,1344.4 1051.3,1344.4 1053.2,1344.5 1055,1344.5" fill="none" stroke="#000" stroke-width="1.7"/>
<text x="946" y="1225" font-size="23" fill="#a01818"><tspan font-family='"Liberation Serif", serif'>γ</tspan>2</text>
<text x="951" y="1274.5" font-size="24"><tspan font-family='"Liberation Serif", serif' font-size="27.6">τ</tspan><tspan font-size="16.32">off</tspan></text>
<text x="951" y="1302.2" font-size="24.7">1.9 s</text>
<text x="898.2" y="1331" font-size="24"><tspan font-family='"Liberation Serif", serif' font-size="27.6">τ</tspan><tspan font-size="16.32">on</tspan></text>
<text x="898.2" y="1358.5" font-size="24.7">0.9 s</text>
<text x="354.7" y="1278" font-size="27.5" text-anchor="middle" transform="rotate(-90 354.7 1278)">Time constant (s)</text>
<line x1="397.4" y1="1195.9" x2="397.4" y2="1364" stroke="#333" stroke-width="1.2"/>
<line x1="392.2" y1="1364" x2="744.7" y2="1364" stroke="#111" stroke-width="1.4"/>
<line x1="392.4" y1="1364" x2="397.4" y2="1364" stroke="#333" stroke-width="1.2"/>
<text x="390.4" y="1372.2" font-size="23.4" text-anchor="end">0</text>
<line x1="392.4" y1="1322.2" x2="397.4" y2="1322.2" stroke="#333" stroke-width="1.2"/>
<text x="390.4" y="1330.4" font-size="23.4" text-anchor="end">2</text>
<line x1="392.4" y1="1280.4" x2="397.4" y2="1280.4" stroke="#333" stroke-width="1.2"/>
<text x="390.4" y="1288.6" font-size="23.4" text-anchor="end">4</text>
<line x1="392.4" y1="1234" x2="397.4" y2="1234" stroke="#333" stroke-width="1.2"/>
<text x="390.4" y="1242.2" font-size="23.4" text-anchor="end">10</text>
<line x1="392.4" y1="1212.3" x2="397.4" y2="1212.3" stroke="#333" stroke-width="1.2"/>
<text x="390.4" y="1220.5" font-size="23.4" text-anchor="end">15</text>
<rect x="394.4" y="1254.9" width="6" height="4.4" fill="#fff"/>
<line x1="392.4" y1="1257.3" x2="402.4" y2="1253.9" stroke="#333" stroke-width="1"/>
<line x1="392.4" y1="1260.5" x2="402.4" y2="1257.1" stroke="#333" stroke-width="1"/>
<text x="447.1" y="1184.6" font-size="21"><tspan font-family='"Liberation Serif", serif' font-size="24.15">τ</tspan><tspan font-size="14.28">on</tspan></text>
<text x="643.6" y="1184.6" font-size="21"><tspan font-family='"Liberation Serif", serif' font-size="24.15">τ</tspan><tspan font-size="14.28">off</tspan></text>
<rect x="399.6" y="1338.7" width="17.3" height="25.3" fill="#5a0a0a" stroke="#222" stroke-width="0.9"/>
<rect x="420.4" y="1335.8" width="17.3" height="28.2" fill="#cc0b0b" stroke="#222" stroke-width="0.9"/>
<rect x="441.4" y="1345.2" width="17.3" height="18.8" fill="#fb9c9c" stroke="#222" stroke-width="0.9"/>
<rect x="462.2" y="1335.2" width="17.3" height="28.8" fill="#f3c56a" stroke="#222" stroke-width="0.9"/>
<rect x="505" y="1345.2" width="17.3" height="18.8" fill="#00009e" stroke="#222" stroke-width="0.9"/>
<rect x="525.9" y="1345.2" width="17.3" height="18.8" fill="#5c74fc" stroke="#222" stroke-width="0.9"/>
<polyline points="408.2,1342.3 429,1333.4 450,1343.7 470.9,1340.1" fill="none" stroke="#555" stroke-width="0.6"/><polyline points="408.2,1340.4 429,1338.4 450,1347.2 470.9,1340.6" fill="none" stroke="#555" stroke-width="0.6"/><polyline points="408.2,1336 429,1337.1 450,1344.2 470.9,1328.6" fill="none" stroke="#555" stroke-width="0.6"/><polyline points="408.2,1329.9 429,1346.4 450,1347.8 470.9,1336.8" fill="none" stroke="#555" stroke-width="0.6"/><polyline points="408.2,1337.6 429,1326.8 450,1348.1 470.9,1338" fill="none" stroke="#555" stroke-width="0.6"/><polyline points="408.2,1336.6 429,1324 450,1341 470.9,1341.7" fill="none" stroke="#555" stroke-width="0.6"/><polyline points="408.2,1336.8 429,1338.9 450,1323.2 470.9,1312.8" fill="none" stroke="#555" stroke-width="0.6"/><g fill="#bdbdbd" fill-opacity="0.72"><circle cx="408.2" cy="1342.3" r="6"/><circle cx="429" cy="1333.4" r="6"/><circle cx="450" cy="1343.7" r="6"/><circle cx="470.9" cy="1340.1" r="6"/><circle cx="408.2" cy="1340.4" r="6"/><circle cx="429" cy="1338.4" r="6"/><circle cx="450" cy="1347.2" r="6"/><circle cx="470.9" cy="1340.6" r="6"/><circle cx="408.2" cy="1336" r="6"/><circle cx="429" cy="1337.1" r="6"/><circle cx="450" cy="1344.2" r="6"/><circle cx="470.9" cy="1328.6" r="6"/><circle cx="408.2" cy="1329.9" r="6"/><circle cx="429" cy="1346.4" r="6"/><circle cx="450" cy="1347.8" r="6"/><circle cx="470.9" cy="1336.8" r="6"/><circle cx="408.2" cy="1337.6" r="6"/><circle cx="429" cy="1326.8" r="6"/><circle cx="450" cy="1348.1" r="6"/><circle cx="470.9" cy="1338" r="6"/><circle cx="408.2" cy="1336.6" r="6"/><circle cx="429" cy="1324" r="6"/><circle cx="450" cy="1341" r="6"/><circle cx="470.9" cy="1341.7" r="6"/><circle cx="408.2" cy="1336.8" r="6"/><circle cx="429" cy="1338.9" r="6"/><circle cx="450" cy="1323.2" r="6"/><circle cx="470.9" cy="1312.8" r="6"/></g>
<polyline points="513.6,1346.6 534.5,1349.4" fill="none" stroke="#555" stroke-width="0.6"/><polyline points="513.6,1339.7 534.5,1342.9" fill="none" stroke="#555" stroke-width="0.6"/><polyline points="513.6,1347.5 534.5,1348.4" fill="none" stroke="#555" stroke-width="0.6"/><polyline points="513.6,1343.3 534.5,1340.1" fill="none" stroke="#555" stroke-width="0.6"/><polyline points="513.6,1350.2 534.5,1346.9" fill="none" stroke="#555" stroke-width="0.6"/><polyline points="513.6,1344.5 534.5,1345.1" fill="none" stroke="#555" stroke-width="0.6"/><g fill="#bdbdbd" fill-opacity="0.72"><circle cx="513.6" cy="1346.6" r="6"/><circle cx="534.5" cy="1349.4" r="6"/><circle cx="513.6" cy="1339.7" r="6"/><circle cx="534.5" cy="1342.9" r="6"/><circle cx="513.6" cy="1347.5" r="6"/><circle cx="534.5" cy="1348.4" r="6"/><circle cx="513.6" cy="1343.3" r="6"/><circle cx="534.5" cy="1340.1" r="6"/><circle cx="513.6" cy="1350.2" r="6"/><circle cx="534.5" cy="1346.9" r="6"/><circle cx="513.6" cy="1344.5" r="6"/><circle cx="534.5" cy="1345.1" r="6"/></g>
<path d="M408.2,1334.5 L408.2,1342.9 M405,1334.5 L411.4,1334.5 M405,1342.9 L411.4,1342.9" stroke="#111" stroke-width="2" fill="none"/>
<path d="M429,1331.2 L429,1340.4 M425.8,1331.2 L432.2,1331.2 M425.8,1340.4 L432.2,1340.4" stroke="#111" stroke-width="2" fill="none"/>
<path d="M450,1343.7 L450,1346.7 M446.8,1343.7 L453.2,1343.7 M446.8,1346.7 L453.2,1346.7" stroke="#111" stroke-width="2" fill="none"/>
<path d="M470.9,1332 L470.9,1338.3 M467.7,1332 L474.1,1332 M467.7,1338.3 L474.1,1338.3" stroke="#111" stroke-width="2" fill="none"/>
<path d="M513.6,1342.1 L513.6,1348.3 M510.4,1342.1 L516.8,1342.1 M510.4,1348.3 L516.8,1348.3" stroke="#111" stroke-width="2" fill="none"/>
<path d="M534.5,1342.7 L534.5,1347.7 M531.3,1342.7 L537.7,1342.7 M531.3,1347.7 L537.7,1347.7" stroke="#111" stroke-width="2" fill="none"/>
<rect x="589.1" y="1290.4" width="17.3" height="73.6" fill="#8b0c0c" stroke="#222" stroke-width="0.9"/>
<rect x="610.1" y="1283.1" width="17.3" height="80.9" fill="#cc0b0b" stroke="#222" stroke-width="0.9"/>
<rect x="631.4" y="1310.5" width="17.3" height="53.5" fill="#fb9c9c" stroke="#222" stroke-width="0.9"/>
<rect x="652.4" y="1270.8" width="17.3" height="93.2" fill="#f3c56a" stroke="#222" stroke-width="0.9"/>
<rect x="694.4" y="1278.3" width="17.3" height="85.7" fill="#00009e" stroke="#222" stroke-width="0.9"/>
<rect x="715.4" y="1317.8" width="17.3" height="46.2" fill="#5c74fc" stroke="#222" stroke-width="0.9"/>
<polyline points="597.7,1280.4 618.8,1315.7 640,1316.2 661,1322.1" fill="none" stroke="#555" stroke-width="0.6"/><polyline points="597.7,1288.8 618.8,1253.4 640,1330.2 661,1298.3" fill="none" stroke="#555" stroke-width="0.6"/><polyline points="597.7,1263.8 618.8,1287.8 640,1328.6 661,1247.5" fill="none" stroke="#555" stroke-width="0.6"/><polyline points="597.7,1330.9 618.8,1251.3 640,1316.1 661,1301.5" fill="none" stroke="#555" stroke-width="0.6"/><polyline points="597.7,1289.6 618.8,1283.8 640,1304.7 661,1253.5" fill="none" stroke="#555" stroke-width="0.6"/><polyline points="597.7,1294.8 618.8,1251.6 640,1303.7 661,1258.9" fill="none" stroke="#555" stroke-width="0.6"/><polyline points="597.7,1253.1 618.8,1251.8 640,1299.2 661,1211" fill="none" stroke="#555" stroke-width="0.6"/><g fill="#bdbdbd" fill-opacity="0.72"><circle cx="597.7" cy="1280.4" r="6"/><circle cx="618.8" cy="1315.7" r="6"/><circle cx="640" cy="1316.2" r="6"/><circle cx="661" cy="1322.1" r="6"/><circle cx="597.7" cy="1288.8" r="6"/><circle cx="618.8" cy="1253.4" r="6"/><circle cx="640" cy="1330.2" r="6"/><circle cx="661" cy="1298.3" r="6"/><circle cx="597.7" cy="1263.8" r="6"/><circle cx="618.8" cy="1287.8" r="6"/><circle cx="640" cy="1328.6" r="6"/><circle cx="661" cy="1247.5" r="6"/><circle cx="597.7" cy="1330.9" r="6"/><circle cx="618.8" cy="1251.3" r="6"/><circle cx="640" cy="1316.1" r="6"/><circle cx="661" cy="1301.5" r="6"/><circle cx="597.7" cy="1289.6" r="6"/><circle cx="618.8" cy="1283.8" r="6"/><circle cx="640" cy="1304.7" r="6"/><circle cx="661" cy="1253.5" r="6"/><circle cx="597.7" cy="1294.8" r="6"/><circle cx="618.8" cy="1251.6" r="6"/><circle cx="640" cy="1303.7" r="6"/><circle cx="661" cy="1258.9" r="6"/><circle cx="597.7" cy="1253.1" r="6"/><circle cx="618.8" cy="1251.8" r="6"/><circle cx="640" cy="1299.2" r="6"/><circle cx="661" cy="1211" r="6"/></g>
<polyline points="703,1273.6 724,1319.3" fill="none" stroke="#555" stroke-width="0.6"/><polyline points="703,1281 724,1307.4" fill="none" stroke="#555" stroke-width="0.6"/><polyline points="703,1261.8 724,1317.2" fill="none" stroke="#555" stroke-width="0.6"/><polyline points="703,1252.3 724,1321.9" fill="none" stroke="#555" stroke-width="0.6"/><polyline points="703,1263.1 724,1304.3" fill="none" stroke="#555" stroke-width="0.6"/><polyline points="703,1317.1 724,1321.9" fill="none" stroke="#555" stroke-width="0.6"/><polyline points="703,1240.9 724,1284.6" fill="none" stroke="#555" stroke-width="0.6"/><g fill="#bdbdbd" fill-opacity="0.72"><circle cx="703" cy="1273.6" r="6"/><circle cx="724" cy="1319.3" r="6"/><circle cx="703" cy="1281" r="6"/><circle cx="724" cy="1307.4" r="6"/><circle cx="703" cy="1261.8" r="6"/><circle cx="724" cy="1317.2" r="6"/><circle cx="703" cy="1252.3" r="6"/><circle cx="724" cy="1321.9" r="6"/><circle cx="703" cy="1263.1" r="6"/><circle cx="724" cy="1304.3" r="6"/><circle cx="703" cy="1317.1" r="6"/><circle cx="724" cy="1321.9" r="6"/><circle cx="703" cy="1240.9" r="6"/><circle cx="724" cy="1284.6" r="6"/></g>
<path d="M597.7,1276.2 L597.7,1304.6 M594.5,1276.2 L600.9,1276.2 M594.5,1304.6 L600.9,1304.6" stroke="#111" stroke-width="2" fill="none"/>
<path d="M618.8,1267.4 L618.8,1298.8 M615.6,1267.4 L622,1267.4 M615.6,1298.8 L622,1298.8" stroke="#111" stroke-width="2" fill="none"/>
<path d="M640,1305.9 L640,1315.1 M636.8,1305.9 L643.2,1305.9 M636.8,1315.1 L643.2,1315.1" stroke="#111" stroke-width="2" fill="none"/>
<path d="M661,1253.7 L661,1291.7 M657.8,1253.7 L664.2,1253.7 M657.8,1291.7 L664.2,1291.7" stroke="#111" stroke-width="2" fill="none"/>
<path d="M703,1261.6 L703,1295 M699.8,1261.6 L706.2,1261.6 M699.8,1295 L706.2,1295" stroke="#111" stroke-width="2" fill="none"/>
<path d="M724,1310.3 L724,1325.3 M720.8,1310.3 L727.2,1310.3 M720.8,1325.3 L727.2,1325.3" stroke="#111" stroke-width="2" fill="none"/>
<text x="474.5" y="1291.2" font-size="22.5" text-anchor="middle">NS</text>
<line x1="407.5" y1="1300.5" x2="541.6" y2="1300.5" stroke="#333" stroke-width="1.1"/>
<text x="691.2" y="1215.8" font-size="22.5" text-anchor="middle">NS</text>
<line x1="595.1" y1="1223.3" x2="728.8" y2="1223.3" stroke="#333" stroke-width="1.1"/>
<text x="398.6" y="1390.4" font-size="23"><tspan font-family='"Liberation Serif", serif'>γ</tspan>2</text>
<text x="419.7" y="1390.4" font-size="23"><tspan font-family='"Liberation Serif", serif'>γ</tspan>3</text>
<text x="439.9" y="1390.4" font-size="23"><tspan font-family='"Liberation Serif", serif'>γ</tspan>4</text>
<text x="463.6" y="1390.4" font-size="23"><tspan font-family='"Liberation Serif", serif'>γ</tspan>5</text>
<text x="501.4" y="1390.4" font-size="23"><tspan font-family='"Liberation Serif", serif'>β</tspan>’1</text>
<text x="527.5" y="1390.4" font-size="23"><tspan font-family='"Liberation Serif", serif'>β</tspan>’2</text>
<text x="585.8" y="1390.4" font-size="23"><tspan font-family='"Liberation Serif", serif'>γ</tspan>2</text>
<text x="606.9" y="1390.4" font-size="23"><tspan font-family='"Liberation Serif", serif'>γ</tspan>3</text>
<text x="627.7" y="1390.4" font-size="23"><tspan font-family='"Liberation Serif", serif'>γ</tspan>4</text>
<text x="650.8" y="1390.4" font-size="23"><tspan font-family='"Liberation Serif", serif'>γ</tspan>5</text>
<text x="689" y="1390.4" font-size="23"><tspan font-family='"Liberation Serif", serif'>β</tspan>’1</text>
<text x="715.3" y="1390.4" font-size="23"><tspan font-family='"Liberation Serif", serif'>β</tspan>’2</text>
<text x="1104.4" y="1278" font-size="27.5" text-anchor="middle" transform="rotate(-90 1104.4 1278)">Time constant (s)</text>
<line x1="1142.1" y1="1193.3" x2="1142.1" y2="1362.8" stroke="#333" stroke-width="1.2"/>
<line x1="1137.2" y1="1362.8" x2="1489.7" y2="1362.8" stroke="#111" stroke-width="1.4"/>
<line x1="1137.1" y1="1362.8" x2="1142.1" y2="1362.8" stroke="#333" stroke-width="1.2"/>
<text x="1135.1" y="1371" font-size="23.4" text-anchor="end">0</text>
<line x1="1137.1" y1="1326.7" x2="1142.1" y2="1326.7" stroke="#333" stroke-width="1.2"/>
<text x="1135.1" y="1334.9" font-size="23.4" text-anchor="end">1</text>
<line x1="1137.1" y1="1276.6" x2="1142.1" y2="1276.6" stroke="#333" stroke-width="1.2"/>
<text x="1135.1" y="1284.8" font-size="23.4" text-anchor="end">5</text>
<line x1="1137.1" y1="1232.6" x2="1142.1" y2="1232.6" stroke="#333" stroke-width="1.2"/>
<text x="1135.1" y="1240.8" font-size="23.4" text-anchor="end">15</text>
<rect x="1139.1" y="1288.5" width="6" height="4.4" fill="#fff"/>
<line x1="1137.1" y1="1290.9" x2="1147.1" y2="1287.5" stroke="#333" stroke-width="1"/>
<line x1="1137.1" y1="1294.1" x2="1147.1" y2="1290.7" stroke="#333" stroke-width="1"/>
<text x="1194.6" y="1184.6" font-size="21"><tspan font-family='"Liberation Serif", serif' font-size="24.15">τ</tspan><tspan font-size="14.28">on</tspan></text>
<text x="1393" y="1184.6" font-size="21"><tspan font-family='"Liberation Serif", serif' font-size="24.15">τ</tspan><tspan font-size="14.28">off</tspan></text>
<rect x="1143.1" y="1336.4" width="17.4" height="26.4" fill="#4a0808" stroke="#222" stroke-width="0.9"/>
<rect x="1165.1" y="1337.2" width="17.4" height="25.6" fill="#cc0b0b" stroke="#222" stroke-width="0.9"/>
<rect x="1186.4" y="1330.7" width="17.4" height="32.1" fill="#fb9c9c" stroke="#222" stroke-width="0.9"/>
<rect x="1207.6" y="1333.9" width="17.4" height="28.9" fill="#f3c56a" stroke="#222" stroke-width="0.9"/>
<rect x="1249.3" y="1337.2" width="17.4" height="25.6" fill="#00009e" stroke="#222" stroke-width="0.9"/>
<rect x="1270.7" y="1333.2" width="17.4" height="29.6" fill="#5c74fc" stroke="#222" stroke-width="0.9"/>
<polyline points="1151.8,1320.1 1173.8,1341.5 1195.1,1318.5 1216.3,1341.9" fill="none" stroke="#555" stroke-width="0.6"/><polyline points="1151.8,1332.5 1173.8,1342 1195.1,1337.2 1216.3,1336.7" fill="none" stroke="#555" stroke-width="0.6"/><polyline points="1151.8,1341.8 1173.8,1332.6 1195.1,1321.9 1216.3,1327.4" fill="none" stroke="#555" stroke-width="0.6"/><polyline points="1151.8,1334.6 1173.8,1329.8 1195.1,1319.8 1216.3,1331.5" fill="none" stroke="#555" stroke-width="0.6"/><polyline points="1151.8,1346.7 1173.8,1334.1 1195.1,1323.8 1216.3,1333.2" fill="none" stroke="#555" stroke-width="0.6"/><polyline points="1151.8,1329.5 1173.8,1333.7 1195.1,1333.8 1216.3,1329.7" fill="none" stroke="#555" stroke-width="0.6"/><polyline points="1151.8,1297.8 1173.8,1319.5 1195.1,1288.5 1216.3,1315.9" fill="none" stroke="#555" stroke-width="0.6"/><g fill="#bdbdbd" fill-opacity="0.72"><circle cx="1151.8" cy="1320.1" r="6"/><circle cx="1173.8" cy="1341.5" r="6"/><circle cx="1195.1" cy="1318.5" r="6"/><circle cx="1216.3" cy="1341.9" r="6"/><circle cx="1151.8" cy="1332.5" r="6"/><circle cx="1173.8" cy="1342" r="6"/><circle cx="1195.1" cy="1337.2" r="6"/><circle cx="1216.3" cy="1336.7" r="6"/><circle cx="1151.8" cy="1341.8" r="6"/><circle cx="1173.8" cy="1332.6" r="6"/><circle cx="1195.1" cy="1321.9" r="6"/><circle cx="1216.3" cy="1327.4" r="6"/><circle cx="1151.8" cy="1334.6" r="6"/><circle cx="1173.8" cy="1329.8" r="6"/><circle cx="1195.1" cy="1319.8" r="6"/><circle cx="1216.3" cy="1331.5" r="6"/><circle cx="1151.8" cy="1346.7" r="6"/><circle cx="1173.8" cy="1334.1" r="6"/><circle cx="1195.1" cy="1323.8" r="6"/><circle cx="1216.3" cy="1333.2" r="6"/><circle cx="1151.8" cy="1329.5" r="6"/><circle cx="1173.8" cy="1333.7" r="6"/><circle cx="1195.1" cy="1333.8" r="6"/><circle cx="1216.3" cy="1329.7" r="6"/><circle cx="1151.8" cy="1297.8" r="6"/><circle cx="1173.8" cy="1319.5" r="6"/><circle cx="1195.1" cy="1288.5" r="6"/><circle cx="1216.3" cy="1315.9" r="6"/></g>
<polyline points="1258,1335.9 1279.4,1329.7" fill="none" stroke="#555" stroke-width="0.6"/><polyline points="1258,1338.5 1279.4,1338.4" fill="none" stroke="#555" stroke-width="0.6"/><polyline points="1258,1336.7 1279.4,1317.1" fill="none" stroke="#555" stroke-width="0.6"/><polyline points="1258,1328.4 1279.4,1337.4" fill="none" stroke="#555" stroke-width="0.6"/><polyline points="1258,1341.1 1279.4,1337" fill="none" stroke="#555" stroke-width="0.6"/><polyline points="1258,1340.3 1279.4,1337.9" fill="none" stroke="#555" stroke-width="0.6"/><polyline points="1258,1328.5 1279.4,1305" fill="none" stroke="#555" stroke-width="0.6"/><g fill="#bdbdbd" fill-opacity="0.72"><circle cx="1258" cy="1335.9" r="6"/><circle cx="1279.4" cy="1329.7" r="6"/><circle cx="1258" cy="1338.5" r="6"/><circle cx="1279.4" cy="1338.4" r="6"/><circle cx="1258" cy="1336.7" r="6"/><circle cx="1279.4" cy="1317.1" r="6"/><circle cx="1258" cy="1328.4" r="6"/><circle cx="1279.4" cy="1337.4" r="6"/><circle cx="1258" cy="1341.1" r="6"/><circle cx="1279.4" cy="1337" r="6"/><circle cx="1258" cy="1340.3" r="6"/><circle cx="1279.4" cy="1337.9" r="6"/><circle cx="1258" cy="1328.5" r="6"/><circle cx="1279.4" cy="1305" r="6"/></g>
<path d="M1151.8,1331.8 L1151.8,1341.1 M1148.6,1331.8 L1155,1331.8 M1148.6,1341.1 L1155,1341.1" stroke="#111" stroke-width="2" fill="none"/>
<path d="M1173.8,1335 L1173.8,1339.3 M1170.6,1335 L1177,1335 M1170.6,1339.3 L1177,1339.3" stroke="#111" stroke-width="2" fill="none"/>
<path d="M1195.1,1325.6 L1195.1,1335.7 M1191.9,1325.6 L1198.3,1325.6 M1191.9,1335.7 L1198.3,1335.7" stroke="#111" stroke-width="2" fill="none"/>
<path d="M1216.3,1330.3 L1216.3,1337.5 M1213.1,1330.3 L1219.5,1330.3 M1213.1,1337.5 L1219.5,1337.5" stroke="#111" stroke-width="2" fill="none"/>
<path d="M1258,1335.4 L1258,1339 M1254.8,1335.4 L1261.2,1335.4 M1254.8,1339 L1261.2,1339" stroke="#111" stroke-width="2" fill="none"/>
<path d="M1279.4,1327.8 L1279.4,1338.6 M1276.2,1327.8 L1282.6,1327.8 M1276.2,1338.6 L1282.6,1338.6" stroke="#111" stroke-width="2" fill="none"/>
<rect x="1333.5" y="1288.5" width="17.4" height="74.3" fill="#8b0c0c" stroke="#222" stroke-width="0.9"/>
<rect x="1354.4" y="1288.5" width="17.4" height="74.3" fill="#cc0b0b" stroke="#222" stroke-width="0.9"/>
<rect x="1375.6" y="1285.8" width="17.4" height="77" fill="#fb9c9c" stroke="#222" stroke-width="0.9"/>
<rect x="1396.9" y="1283.2" width="17.4" height="79.6" fill="#f3c56a" stroke="#222" stroke-width="0.9"/>
<rect x="1438.3" y="1281.4" width="17.4" height="81.4" fill="#00009e" stroke="#222" stroke-width="0.9"/>
<rect x="1459.7" y="1285.6" width="17.4" height="77.2" fill="#5c74fc" stroke="#222" stroke-width="0.9"/>
<polyline points="1342.2,1287.8 1363.1,1293.5 1384.3,1284.4 1405.6,1280.7" fill="none" stroke="#555" stroke-width="0.6"/><polyline points="1342.2,1286 1363.1,1285.1 1384.3,1283.6 1405.6,1275.9" fill="none" stroke="#555" stroke-width="0.6"/><polyline points="1342.2,1289.3 1363.1,1288 1384.3,1285.4 1405.6,1281.8" fill="none" stroke="#555" stroke-width="0.6"/><polyline points="1342.2,1286.8 1363.1,1289.1 1384.3,1281.9 1405.6,1279.1" fill="none" stroke="#555" stroke-width="0.6"/><polyline points="1342.2,1287.9 1363.1,1287.6 1384.3,1288 1405.6,1301.6" fill="none" stroke="#555" stroke-width="0.6"/><polyline points="1342.2,1288.6 1363.1,1287.9 1384.3,1285.3 1405.6,1286.7" fill="none" stroke="#555" stroke-width="0.6"/><polyline points="1342.2,1280.1 1363.1,1277.5 1384.3,1265.6 1405.6,1266.5" fill="none" stroke="#555" stroke-width="0.6"/><polyline points="1342.2,1319.5 1363.1,1301.4 1384.3,1312.3 1405.6,1339.3" fill="none" stroke="#555" stroke-width="0.6"/><polyline points="1342.2,1305 1363.1,1294.2 1384.3,1323.1 1405.6,1308.6" fill="none" stroke="#555" stroke-width="0.6"/><polyline points="1342.2,1314.1 1363.1,1290.6 1384.3,1305 1405.6,1294.2" fill="none" stroke="#555" stroke-width="0.6"/><polyline points="1342.2,1323.1 1363.1,1305 1384.3,1315.9 1405.6,1299.6" fill="none" stroke="#555" stroke-width="0.6"/><g fill="#bdbdbd" fill-opacity="0.72"><circle cx="1342.2" cy="1287.8" r="6"/><circle cx="1363.1" cy="1293.5" r="6"/><circle cx="1384.3" cy="1284.4" r="6"/><circle cx="1405.6" cy="1280.7" r="6"/><circle cx="1342.2" cy="1286" r="6"/><circle cx="1363.1" cy="1285.1" r="6"/><circle cx="1384.3" cy="1283.6" r="6"/><circle cx="1405.6" cy="1275.9" r="6"/><circle cx="1342.2" cy="1289.3" r="6"/><circle cx="1363.1" cy="1288" r="6"/><circle cx="1384.3" cy="1285.4" r="6"/><circle cx="1405.6" cy="1281.8" r="6"/><circle cx="1342.2" cy="1286.8" r="6"/><circle cx="1363.1" cy="1289.1" r="6"/><circle cx="1384.3" cy="1281.9" r="6"/><circle cx="1405.6" cy="1279.1" r="6"/><circle cx="1342.2" cy="1287.9" r="6"/><circle cx="1363.1" cy="1287.6" r="6"/><circle cx="1384.3" cy="1288" r="6"/><circle cx="1405.6" cy="1301.6" r="6"/><circle cx="1342.2" cy="1288.6" r="6"/><circle cx="1363.1" cy="1287.9" r="6"/><circle cx="1384.3" cy="1285.3" r="6"/><circle cx="1405.6" cy="1286.7" r="6"/><circle cx="1342.2" cy="1280.1" r="6"/><circle cx="1363.1" cy="1277.5" r="6"/><circle cx="1384.3" cy="1265.6" r="6"/><circle cx="1405.6" cy="1266.5" r="6"/><circle cx="1342.2" cy="1319.5" r="6"/><circle cx="1363.1" cy="1301.4" r="6"/><circle cx="1384.3" cy="1312.3" r="6"/><circle cx="1405.6" cy="1339.3" r="6"/><circle cx="1342.2" cy="1305" r="6"/><circle cx="1363.1" cy="1294.2" r="6"/><circle cx="1384.3" cy="1323.1" r="6"/><circle cx="1405.6" cy="1308.6" r="6"/><circle cx="1342.2" cy="1314.1" r="6"/><circle cx="1363.1" cy="1290.6" r="6"/><circle cx="1384.3" cy="1305" r="6"/><circle cx="1405.6" cy="1294.2" r="6"/><circle cx="1342.2" cy="1323.1" r="6"/><circle cx="1363.1" cy="1305" r="6"/><circle cx="1384.3" cy="1315.9" r="6"/><circle cx="1405.6" cy="1299.6" r="6"/></g>
<polyline points="1447,1283.5 1468.4,1280.8" fill="none" stroke="#555" stroke-width="0.6"/><polyline points="1447,1278.1 1468.4,1283.9" fill="none" stroke="#555" stroke-width="0.6"/><polyline points="1447,1282.8 1468.4,1283.6" fill="none" stroke="#555" stroke-width="0.6"/><polyline points="1447,1275.5 1468.4,1283.5" fill="none" stroke="#555" stroke-width="0.6"/><polyline points="1447,1283.2 1468.4,1284.8" fill="none" stroke="#555" stroke-width="0.6"/><polyline points="1447,1285.4 1468.4,1286.4" fill="none" stroke="#555" stroke-width="0.6"/><polyline points="1447,1231.7 1468.4,1264.3" fill="none" stroke="#555" stroke-width="0.6"/><polyline points="1447,1323.1 1468.4,1319.5" fill="none" stroke="#555" stroke-width="0.6"/><polyline points="1447,1308.6 1468.4,1310.5" fill="none" stroke="#555" stroke-width="0.6"/><polyline points="1447,1330.3 1468.4,1326.7" fill="none" stroke="#555" stroke-width="0.6"/><polyline points="1447,1301.4 1468.4,1315.9" fill="none" stroke="#555" stroke-width="0.6"/><g fill="#bdbdbd" fill-opacity="0.72"><circle cx="1447" cy="1283.5" r="6"/><circle cx="1468.4" cy="1280.8" r="6"/><circle cx="1447" cy="1278.1" r="6"/><circle cx="1468.4" cy="1283.9" r="6"/><circle cx="1447" cy="1282.8" r="6"/><circle cx="1468.4" cy="1283.6" r="6"/><circle cx="1447" cy="1275.5" r="6"/><circle cx="1468.4" cy="1283.5" r="6"/><circle cx="1447" cy="1283.2" r="6"/><circle cx="1468.4" cy="1284.8" r="6"/><circle cx="1447" cy="1285.4" r="6"/><circle cx="1468.4" cy="1286.4" r="6"/><circle cx="1447" cy="1231.7" r="6"/><circle cx="1468.4" cy="1264.3" r="6"/><circle cx="1447" cy="1323.1" r="6"/><circle cx="1468.4" cy="1319.5" r="6"/><circle cx="1447" cy="1308.6" r="6"/><circle cx="1468.4" cy="1310.5" r="6"/><circle cx="1447" cy="1330.3" r="6"/><circle cx="1468.4" cy="1326.7" r="6"/><circle cx="1447" cy="1301.4" r="6"/><circle cx="1468.4" cy="1315.9" r="6"/></g>
<rect x="1332.5" y="1289.7" width="19.4" height="2" fill="#fff"/>
<rect x="1353.4" y="1289.7" width="19.4" height="2" fill="#fff"/>
<rect x="1374.6" y="1289.7" width="19.4" height="2" fill="#fff"/>
<rect x="1395.9" y="1289.7" width="19.4" height="2" fill="#fff"/>
<rect x="1437.3" y="1289.7" width="19.4" height="2" fill="#fff"/>
<rect x="1458.7" y="1289.7" width="19.4" height="2" fill="#fff"/>
<path d="M1342.2,1287.7 L1342.2,1289.3 M1339,1287.7 L1345.4,1287.7 M1339,1289.3 L1345.4,1289.3" stroke="#111" stroke-width="2" fill="none"/>
<path d="M1363.1,1287.6 L1363.1,1289.4 M1359.9,1287.6 L1366.3,1287.6 M1359.9,1289.4 L1366.3,1289.4" stroke="#111" stroke-width="2" fill="none"/>
<path d="M1384.3,1284.7 L1384.3,1286.9 M1381.1,1284.7 L1387.5,1284.7 M1381.1,1286.9 L1387.5,1286.9" stroke="#111" stroke-width="2" fill="none"/>
<path d="M1405.6,1281.7 L1405.6,1284.7 M1402.4,1281.7 L1408.8,1281.7 M1402.4,1284.7 L1408.8,1284.7" stroke="#111" stroke-width="2" fill="none"/>
<path d="M1447,1279.2 L1447,1283.6 M1443.8,1279.2 L1450.2,1279.2 M1443.8,1283.6 L1450.2,1283.6" stroke="#111" stroke-width="2" fill="none"/>
<path d="M1468.4,1284.3 L1468.4,1286.9 M1465.2,1284.3 L1471.6,1284.3 M1465.2,1286.9 L1471.6,1286.9" stroke="#111" stroke-width="2" fill="none"/>
<text x="1218.5" y="1253.9" font-size="22.5" text-anchor="middle">NS</text>
<line x1="1151.3" y1="1263.8" x2="1287.4" y2="1263.8" stroke="#333" stroke-width="1.1"/>
<text x="1412.6" y="1213.6" font-size="22.5" text-anchor="middle">NS</text>
<line x1="1339.5" y1="1223.4" x2="1475.9" y2="1223.4" stroke="#333" stroke-width="1.1"/>
<text x="1141.5" y="1390.4" font-size="23"><tspan font-family='"Liberation Serif", serif'>γ</tspan>2</text>
<text x="1162.8" y="1390.4" font-size="23"><tspan font-family='"Liberation Serif", serif'>γ</tspan>3</text>
<text x="1183.8" y="1390.4" font-size="23"><tspan font-family='"Liberation Serif", serif'>γ</tspan>4</text>
<text x="1207.7" y="1390.4" font-size="23"><tspan font-family='"Liberation Serif", serif'>γ</tspan>5</text>
<text x="1244.4" y="1390.4" font-size="23"><tspan font-family='"Liberation Serif", serif'>β</tspan>’1</text>
<text x="1270.7" y="1390.4" font-size="23"><tspan font-family='"Liberation Serif", serif'>β</tspan>’2</text>
<text x="1329" y="1390.4" font-size="23"><tspan font-family='"Liberation Serif", serif'>γ</tspan>2</text>
<text x="1350.3" y="1390.4" font-size="23"><tspan font-family='"Liberation Serif", serif'>γ</tspan>3</text>
<text x="1371.6" y="1390.4" font-size="23"><tspan font-family='"Liberation Serif", serif'>γ</tspan>4</text>
<text x="1395.2" y="1390.4" font-size="23"><tspan font-family='"Liberation Serif", serif'>γ</tspan>5</text>
<text x="1431.6" y="1390.4" font-size="23"><tspan font-family='"Liberation Serif", serif'>β</tspan>’1</text>
<text x="1457.9" y="1390.4" font-size="23"><tspan font-family='"Liberation Serif", serif'>β</tspan>’2</text>
</svg>
</body></html>
